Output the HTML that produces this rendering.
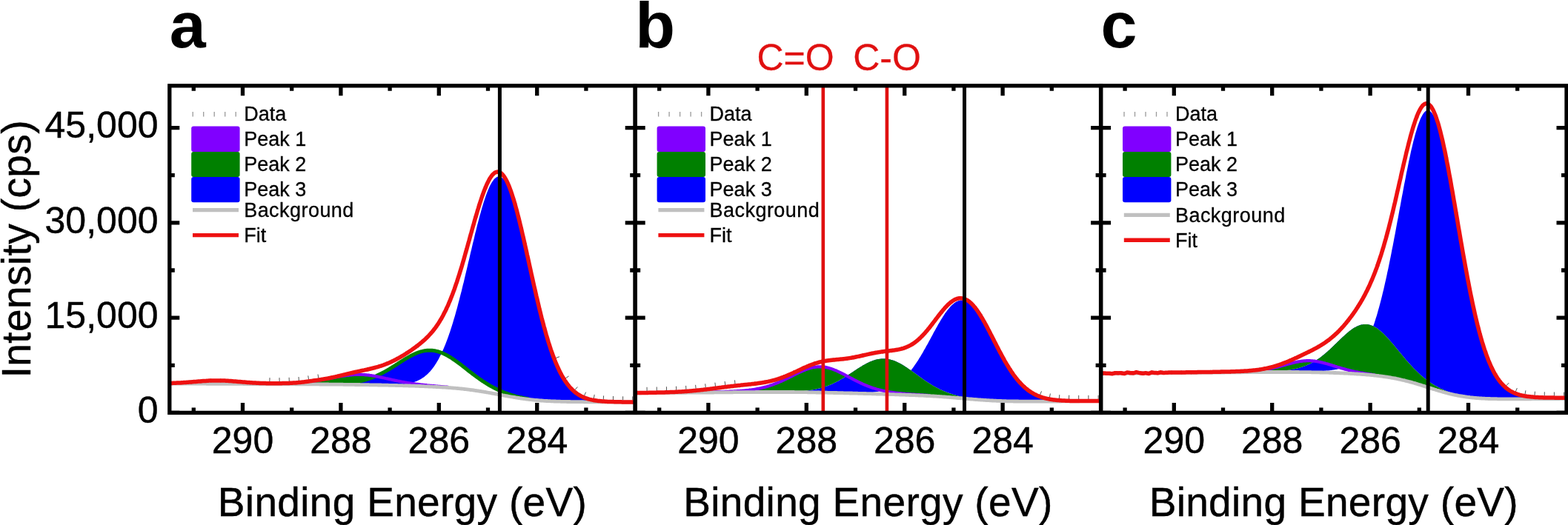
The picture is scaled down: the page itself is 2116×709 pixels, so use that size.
<!DOCTYPE html>
<html><head><meta charset="utf-8"><title>XPS C1s</title>
<style>
html,body{margin:0;padding:0;background:#fff;}
svg{display:block;}
text{font-family:"Liberation Sans",Arial,sans-serif;fill:#000;}
.tk{font-size:50px;stroke:#000;stroke-width:0.45px;}
.ax{font-size:55px;stroke:#000;stroke-width:0.45px;}
.lg{font-size:27px;stroke:#000;stroke-width:0.3px;}
.pl{font-size:88px;font-weight:bold;}
.rl{font-size:50px;fill:#e01010;stroke:#e01010;stroke-width:0.3px;}
</style></head>
<body>
<svg width="2116" height="709" viewBox="0 0 2116 709">
<rect width="2116" height="709" fill="#fff"/>
<clipPath id="clip0"><rect x="228.8" y="115.8" width="628.4" height="441.6"/></clipPath>
<g clip-path="url(#clip0)">
<path d="M181.9,517.9 L182.9,517.9 L183.9,517.9 L185.0,517.9 L186.0,517.9 L187.0,517.9 L188.1,517.9 L189.1,517.9 L190.1,517.9 L191.2,517.9 L192.2,517.9 L193.2,517.9 L194.2,517.9 L195.3,517.9 L196.3,517.9 L197.3,517.9 L198.4,517.9 L199.4,517.9 L200.4,517.9 L201.5,517.9 L202.5,517.9 L203.5,517.9 L204.6,518.0 L205.6,518.0 L206.6,518.0 L207.7,518.0 L208.7,518.0 L209.7,518.0 L210.8,518.0 L211.8,518.0 L212.8,518.0 L213.9,518.0 L214.9,518.0 L215.9,518.0 L217.0,518.0 L218.0,518.0 L219.0,518.0 L220.1,518.0 L221.1,518.0 L222.1,518.0 L223.2,518.0 L224.2,518.0 L225.2,518.0 L226.2,518.0 L227.3,518.0 L228.3,518.0 L229.3,518.1 L230.4,518.1 L231.4,518.1 L232.4,518.1 L233.5,518.1 L234.5,518.1 L235.5,518.1 L236.6,518.1 L237.6,518.1 L238.6,518.1 L239.7,518.1 L240.7,518.1 L241.7,518.1 L242.8,518.1 L243.8,518.1 L244.8,518.1 L245.9,518.1 L246.9,518.1 L247.9,518.1 L249.0,518.1 L250.0,518.1 L251.0,518.1 L252.1,518.1 L253.1,518.1 L254.1,518.1 L255.2,518.2 L256.2,518.2 L257.2,518.2 L258.3,518.2 L259.3,518.2 L260.3,518.2 L261.3,518.2 L262.4,518.2 L263.4,518.2 L264.4,518.2 L265.5,518.2 L266.5,518.2 L267.5,518.2 L268.6,518.2 L269.6,518.2 L270.6,518.2 L271.7,518.2 L272.7,518.2 L273.7,518.2 L274.8,518.2 L275.8,518.2 L276.8,518.2 L277.9,518.2 L278.9,518.2 L279.9,518.3 L281.0,518.3 L282.0,518.3 L283.0,518.3 L284.1,518.3 L285.1,518.3 L286.1,518.3 L287.2,518.3 L288.2,518.3 L289.2,518.3 L290.3,518.3 L291.3,518.3 L292.3,518.3 L293.3,518.3 L294.4,518.3 L295.4,518.3 L296.4,518.3 L297.5,518.3 L298.5,518.3 L299.5,518.3 L300.6,518.3 L301.6,518.3 L302.6,518.3 L303.7,518.3 L304.7,518.3 L305.7,518.4 L306.8,518.4 L307.8,518.4 L308.8,518.4 L309.9,518.4 L310.9,518.4 L311.9,518.4 L313.0,518.4 L314.0,518.4 L315.0,518.4 L316.1,518.4 L317.1,518.4 L318.1,518.4 L319.2,518.4 L320.2,518.4 L321.2,518.4 L322.3,518.4 L323.3,518.4 L324.3,518.4 L325.4,518.4 L326.4,518.4 L327.4,518.4 L328.4,518.4 L329.5,518.4 L330.5,518.5 L331.5,518.5 L332.6,518.5 L333.6,518.5 L334.6,518.5 L335.7,518.5 L336.7,518.5 L337.7,518.5 L338.8,518.5 L339.8,518.5 L340.8,518.5 L341.9,518.5 L342.9,518.5 L343.9,518.5 L345.0,518.5 L346.0,518.5 L347.0,518.5 L348.1,518.5 L349.1,518.5 L350.1,518.5 L351.2,518.5 L352.2,518.5 L353.2,518.5 L354.3,518.5 L355.3,518.6 L356.3,518.6 L357.4,518.6 L358.4,518.6 L359.4,518.6 L360.4,518.6 L361.5,518.6 L362.5,518.6 L363.5,518.6 L364.6,518.6 L365.6,518.6 L366.6,518.6 L367.7,518.6 L368.7,518.6 L369.7,518.6 L370.8,518.6 L371.8,518.6 L372.8,518.6 L373.9,518.6 L374.9,518.6 L375.9,518.6 L377.0,518.6 L378.0,518.6 L379.0,518.6 L380.1,518.7 L381.1,518.7 L382.1,518.7 L383.2,518.7 L384.2,518.7 L385.2,518.7 L386.3,518.7 L387.3,518.7 L388.3,518.7 L389.4,518.7 L390.4,518.7 L391.4,518.7 L392.4,518.7 L393.5,518.7 L394.5,518.7 L395.5,518.7 L396.6,518.7 L397.6,518.7 L398.6,518.7 L399.7,518.7 L400.7,518.7 L401.7,518.7 L402.8,518.7 L403.8,518.7 L404.8,518.8 L405.9,518.8 L406.9,518.8 L407.9,518.8 L409.0,518.8 L410.0,518.8 L411.0,518.8 L412.1,518.8 L413.1,518.8 L414.1,518.8 L415.2,518.8 L416.2,518.8 L417.2,518.8 L418.3,518.8 L419.3,518.8 L420.3,518.8 L421.4,518.8 L422.4,518.8 L423.4,518.8 L424.5,518.8 L425.5,518.8 L426.5,518.8 L427.5,518.8 L428.6,518.8 L429.6,518.8 L430.6,518.8 L431.7,518.8 L432.7,518.8 L433.7,518.8 L434.8,518.7 L435.8,518.7 L436.8,518.7 L437.9,518.7 L438.9,518.7 L439.9,518.7 L441.0,518.7 L442.0,518.7 L443.0,518.6 L444.1,518.6 L445.1,518.6 L446.1,518.6 L447.2,518.6 L448.2,518.5 L449.2,518.5 L450.3,518.5 L451.3,518.4 L452.3,518.4 L453.4,518.4 L454.4,518.3 L455.4,518.3 L456.5,518.2 L457.5,518.2 L458.5,518.1 L459.5,518.1 L460.6,518.0 L461.6,517.9 L462.6,517.9 L463.7,517.8 L464.7,517.7 L465.7,517.6 L466.8,517.6 L467.8,517.5 L468.8,517.4 L469.9,517.3 L470.9,517.2 L471.9,517.0 L473.0,516.9 L474.0,516.8 L475.0,516.7 L476.1,516.5 L477.1,516.4 L478.1,516.2 L479.2,516.0 L480.2,515.9 L481.2,515.7 L482.3,515.5 L483.3,515.3 L484.3,515.1 L485.4,514.9 L486.4,514.7 L487.4,514.4 L488.5,514.2 L489.5,513.9 L490.5,513.7 L491.6,513.4 L492.6,513.1 L493.6,512.8 L494.6,512.5 L495.7,512.2 L496.7,511.9 L497.7,511.6 L498.8,511.2 L499.8,510.8 L500.8,510.5 L501.9,510.1 L502.9,509.7 L503.9,509.3 L505.0,508.9 L506.0,508.5 L507.0,508.0 L508.1,507.6 L509.1,507.1 L510.1,506.6 L511.2,506.1 L512.2,505.6 L513.2,505.1 L514.3,504.6 L515.3,504.1 L516.3,503.5 L517.4,503.0 L518.4,502.4 L519.4,501.9 L520.5,501.3 L521.5,500.7 L522.5,500.1 L523.6,499.5 L524.6,498.9 L525.6,498.3 L526.6,497.6 L527.7,497.0 L528.7,496.4 L529.7,495.7 L530.8,495.1 L531.8,494.4 L532.8,493.8 L533.9,493.1 L534.9,492.4 L535.9,491.8 L537.0,491.1 L538.0,490.5 L539.0,489.8 L540.1,489.1 L541.1,488.5 L542.1,487.8 L543.2,487.2 L544.2,486.5 L545.2,485.9 L546.3,485.2 L547.3,484.6 L548.3,484.0 L549.4,483.4 L550.4,482.8 L551.4,482.2 L552.5,481.6 L553.5,481.1 L554.5,480.5 L555.6,480.0 L556.6,479.4 L557.6,478.9 L558.7,478.4 L559.7,478.0 L560.7,477.5 L561.7,477.1 L562.8,476.7 L563.8,476.3 L564.8,475.9 L565.9,475.5 L566.9,475.2 L567.9,474.9 L569.0,474.6 L570.0,474.4 L571.0,474.1 L572.1,473.9 L573.1,473.7 L574.1,473.6 L575.2,473.4 L576.2,473.3 L577.2,473.3 L578.3,473.2 L579.3,473.2 L580.3,473.2 L581.4,473.2 L582.4,473.3 L583.4,473.3 L584.5,473.4 L585.5,473.6 L586.5,473.7 L587.6,473.9 L588.6,474.2 L589.6,474.4 L590.7,474.7 L591.7,475.0 L592.7,475.3 L593.7,475.6 L594.8,476.0 L595.8,476.4 L596.8,476.8 L597.9,477.3 L598.9,477.7 L599.9,478.2 L601.0,478.7 L602.0,479.3 L603.0,479.8 L604.1,480.4 L605.1,481.0 L606.1,481.6 L607.2,482.2 L608.2,482.8 L609.2,483.5 L610.3,484.2 L611.3,484.9 L612.3,485.6 L613.4,486.3 L614.4,487.0 L615.4,487.7 L616.5,488.5 L617.5,489.2 L618.5,490.0 L619.6,490.8 L620.6,491.5 L621.6,492.3 L622.7,493.1 L623.7,493.9 L624.7,494.7 L625.8,495.5 L626.8,496.3 L627.8,497.1 L628.8,497.9 L629.9,498.7 L630.9,499.6 L631.9,500.4 L633.0,501.2 L634.0,502.0 L635.0,502.8 L636.1,503.6 L637.1,504.4 L638.1,505.1 L639.2,505.9 L640.2,506.7 L641.2,507.5 L642.3,508.2 L643.3,509.0 L644.3,509.8 L645.4,510.5 L646.4,511.2 L647.4,512.0 L648.5,512.7 L649.5,513.4 L650.5,514.1 L651.6,514.8 L652.6,515.5 L653.6,516.1 L654.7,516.8 L655.7,517.5 L656.7,518.1 L657.8,518.7 L658.8,519.4 L659.8,520.0 L660.8,520.6 L661.9,521.2 L662.9,521.8 L663.9,522.3 L665.0,522.9 L666.0,523.4 L667.0,524.0 L668.1,524.5 L669.1,525.0 L670.1,525.5 L671.2,526.0 L672.2,526.5 L673.2,527.0 L674.3,527.5 L675.3,527.9 L676.3,528.4 L677.4,528.8 L678.4,529.2 L679.4,529.6 L680.5,530.1 L681.5,530.5 L682.5,530.8 L683.6,531.2 L684.6,531.6 L685.6,532.0 L686.7,532.3 L687.7,532.6 L688.7,533.0 L689.8,533.3 L690.8,533.6 L691.8,533.9 L692.9,534.2 L693.9,534.5 L694.9,534.8 L695.9,535.1 L697.0,535.4 L698.0,535.6 L699.0,535.9 L700.1,536.1 L701.1,536.4 L702.1,536.6 L703.2,536.8 L704.2,537.0 L705.2,537.3 L706.3,537.5 L707.3,537.7 L708.3,537.9 L709.4,538.1 L710.4,538.2 L711.4,538.4 L712.5,538.6 L713.5,538.8 L714.5,538.9 L715.6,539.1 L716.6,539.2 L717.6,539.4 L718.7,539.5 L719.7,539.6 L720.7,539.8 L721.8,539.9 L722.8,540.0 L723.8,540.1 L724.9,540.3 L725.9,540.4 L726.9,540.5 L727.9,540.6 L729.0,540.7 L730.0,540.8 L731.0,540.9 L732.1,540.9 L733.1,541.0 L734.1,541.1 L735.2,541.2 L736.2,541.3 L737.2,541.3 L738.3,541.4 L739.3,541.5 L740.3,541.5 L741.4,541.6 L742.4,541.6 L743.4,541.7 L744.5,541.8 L745.5,541.8 L746.5,541.9 L747.6,541.9 L748.6,541.9 L749.6,542.0 L750.7,542.0 L751.7,542.1 L752.7,542.1 L753.8,542.1 L754.8,542.2 L755.8,542.2 L756.9,542.2 L757.9,542.3 L758.9,542.3 L759.9,542.3 L761.0,542.4 L762.0,542.4 L763.0,542.4 L764.1,542.4 L765.1,542.4 L766.1,542.5 L767.2,542.5 L768.2,542.5 L769.2,542.5 L770.3,542.5 L771.3,542.6 L772.3,542.6 L773.4,542.6 L774.4,542.6 L775.4,542.6 L776.5,542.6 L777.5,542.6 L778.5,542.6 L779.6,542.7 L780.6,542.7 L781.6,542.7 L782.7,542.7 L783.7,542.7 L784.7,542.7 L785.8,542.7 L786.8,542.7 L787.8,542.7 L788.9,542.7 L789.9,542.8 L790.9,542.8 L792.0,542.8 L793.0,542.8 L794.0,542.8 L795.0,542.8 L796.1,542.8 L797.1,542.8 L798.1,542.8 L799.2,542.8 L800.2,542.8 L801.2,542.8 L802.3,542.8 L803.3,542.8 L804.3,542.8 L805.4,542.8 L806.4,542.9 L807.4,542.9 L808.5,542.9 L809.5,542.9 L810.5,542.9 L811.6,542.9 L812.6,542.9 L813.6,542.9 L814.7,542.9 L815.7,542.9 L816.7,542.9 L817.8,542.9 L818.8,542.9 L819.8,542.9 L820.9,542.9 L821.9,542.9 L822.9,542.9 L824.0,542.9 L825.0,542.9 L826.0,542.9 L827.0,542.9 L828.1,542.9 L829.1,543.0 L830.1,543.0 L831.2,543.0 L832.2,543.0 L833.2,543.0 L834.3,543.0 L835.3,543.0 L836.3,543.0 L837.4,543.0 L838.4,543.0 L839.4,543.0 L840.5,543.0 L841.5,543.0 L842.5,543.0 L843.6,543.0 L844.6,543.0 L845.6,543.0 L846.7,543.0 L847.7,543.0 L848.7,543.0 L849.8,543.0 L850.8,543.0 L851.8,543.0 L852.9,543.0 L853.9,543.1 L854.9,543.1 L856.0,543.1 L857.0,543.1 L858.0,543.1 L859.1,543.1 L860.1,543.1 L861.1,543.1 L862.1,543.1 L863.2,543.1 L864.2,543.1 L865.2,543.1 L866.3,543.1 L867.3,543.1 L868.3,543.1 L869.4,543.1 L870.4,543.1 L871.4,543.1 L872.5,543.1 L873.5,543.1 L874.5,543.1 L875.6,543.1 L876.6,543.1 L877.6,543.1 L878.7,543.2 L879.7,543.2 L880.7,543.2 L881.8,543.2 L882.8,543.2 L883.8,543.2 L884.9,543.2 L885.9,543.2 L886.9,543.2 L888.0,543.2 L889.0,543.2 L890.0,543.2 L891.1,543.2 L892.1,543.2 L893.1,543.2 L894.1,543.2 L895.2,543.2 L896.2,543.2 L897.2,543.2 L898.3,543.2 L899.3,543.2 L900.3,543.2 L901.4,543.2 L902.4,543.2 L903.4,543.2 L903.4,543.3 L902.4,543.3 L901.4,543.2 L900.3,543.2 L899.3,543.2 L898.3,543.2 L897.2,543.2 L896.2,543.2 L895.2,543.2 L894.1,543.2 L893.1,543.2 L892.1,543.2 L891.1,543.2 L890.0,543.2 L889.0,543.2 L888.0,543.2 L886.9,543.2 L885.9,543.2 L884.9,543.2 L883.8,543.2 L882.8,543.2 L881.8,543.2 L880.7,543.2 L879.7,543.2 L878.7,543.2 L877.6,543.2 L876.6,543.1 L875.6,543.1 L874.5,543.1 L873.5,543.1 L872.5,543.1 L871.4,543.1 L870.4,543.1 L869.4,543.1 L868.3,543.1 L867.3,543.1 L866.3,543.1 L865.2,543.1 L864.2,543.1 L863.2,543.1 L862.1,543.1 L861.1,543.1 L860.1,543.1 L859.1,543.1 L858.0,543.1 L857.0,543.1 L856.0,543.1 L854.9,543.0 L853.9,543.0 L852.9,543.0 L851.8,543.0 L850.8,543.0 L849.8,543.0 L848.7,543.0 L847.7,543.0 L846.7,543.0 L845.6,543.0 L844.6,543.0 L843.6,543.0 L842.5,543.0 L841.5,542.9 L840.5,542.9 L839.4,542.9 L838.4,542.9 L837.4,542.9 L836.3,542.9 L835.3,542.9 L834.3,542.9 L833.2,542.8 L832.2,542.8 L831.2,542.8 L830.1,542.8 L829.1,542.7 L828.1,542.7 L827.0,542.7 L826.0,542.7 L825.0,542.6 L824.0,542.6 L822.9,542.6 L821.9,542.5 L820.9,542.5 L819.8,542.4 L818.8,542.4 L817.8,542.3 L816.7,542.3 L815.7,542.2 L814.7,542.1 L813.6,542.1 L812.6,542.0 L811.6,541.9 L810.5,541.8 L809.5,541.7 L808.5,541.6 L807.4,541.5 L806.4,541.4 L805.4,541.2 L804.3,541.1 L803.3,540.9 L802.3,540.8 L801.2,540.6 L800.2,540.4 L799.2,540.2 L798.1,540.0 L797.1,539.7 L796.1,539.5 L795.0,539.2 L794.0,538.9 L793.0,538.6 L792.0,538.3 L790.9,537.9 L789.9,537.6 L788.9,537.2 L787.8,536.8 L786.8,536.3 L785.8,535.8 L784.7,535.3 L783.7,534.8 L782.7,534.2 L781.6,533.6 L780.6,533.0 L779.6,532.3 L778.5,531.6 L777.5,530.9 L776.5,530.1 L775.4,529.2 L774.4,528.4 L773.4,527.4 L772.3,526.5 L771.3,525.4 L770.3,524.3 L769.2,523.2 L768.2,522.0 L767.2,520.8 L766.1,519.5 L765.1,518.1 L764.1,516.7 L763.0,515.2 L762.0,513.6 L761.0,512.0 L759.9,510.3 L758.9,508.5 L757.9,506.6 L756.9,504.7 L755.8,502.7 L754.8,500.6 L753.8,498.5 L752.7,496.2 L751.7,493.9 L750.7,491.5 L749.6,489.0 L748.6,486.4 L747.6,483.8 L746.5,481.0 L745.5,478.2 L744.5,475.3 L743.4,472.3 L742.4,469.2 L741.4,466.0 L740.3,462.8 L739.3,459.4 L738.3,456.0 L737.2,452.5 L736.2,448.9 L735.2,445.2 L734.1,441.4 L733.1,437.6 L732.1,433.7 L731.0,429.7 L730.0,425.7 L729.0,421.6 L727.9,417.4 L726.9,413.1 L725.9,408.8 L724.9,404.5 L723.8,400.1 L722.8,395.6 L721.8,391.1 L720.7,386.6 L719.7,382.0 L718.7,377.4 L717.6,372.8 L716.6,368.2 L715.6,363.5 L714.5,358.9 L713.5,354.2 L712.5,349.6 L711.4,344.9 L710.4,340.3 L709.4,335.7 L708.3,331.2 L707.3,326.6 L706.3,322.1 L705.2,317.7 L704.2,313.3 L703.2,309.0 L702.1,304.8 L701.1,300.6 L700.1,296.6 L699.0,292.6 L698.0,288.7 L697.0,284.9 L695.9,281.2 L694.9,277.6 L693.9,274.2 L692.9,270.9 L691.8,267.7 L690.8,264.7 L689.8,261.8 L688.7,259.0 L687.7,256.4 L686.7,254.0 L685.6,251.7 L684.6,249.6 L683.6,247.7 L682.5,245.9 L681.5,244.4 L680.5,243.0 L679.4,241.7 L678.4,240.7 L677.4,239.9 L676.3,239.2 L675.3,238.7 L674.3,238.4 L673.2,238.4 L672.2,238.5 L671.2,238.7 L670.1,239.2 L669.1,239.9 L668.1,240.7 L667.0,241.7 L666.0,243.0 L665.0,244.4 L663.9,245.9 L662.9,247.7 L661.9,249.6 L660.8,251.6 L659.8,253.9 L658.8,256.3 L657.8,258.8 L656.7,261.5 L655.7,264.3 L654.7,267.3 L653.6,270.4 L652.6,273.6 L651.6,277.0 L650.5,280.4 L649.5,284.0 L648.5,287.7 L647.4,291.4 L646.4,295.3 L645.4,299.2 L644.3,303.2 L643.3,307.3 L642.3,311.4 L641.2,315.6 L640.2,319.9 L639.2,324.2 L638.1,328.5 L637.1,332.8 L636.1,337.2 L635.0,341.6 L634.0,346.0 L633.0,350.4 L631.9,354.8 L630.9,359.2 L629.9,363.6 L628.8,367.9 L627.8,372.3 L626.8,376.6 L625.8,380.9 L624.7,385.1 L623.7,389.3 L622.7,393.5 L621.6,397.6 L620.6,401.6 L619.6,405.6 L618.5,409.6 L617.5,413.4 L616.5,417.3 L615.4,421.0 L614.4,424.7 L613.4,428.3 L612.3,431.8 L611.3,435.2 L610.3,438.6 L609.2,441.9 L608.2,445.1 L607.2,448.2 L606.1,451.2 L605.1,454.2 L604.1,457.1 L603.0,459.9 L602.0,462.6 L601.0,465.2 L599.9,467.8 L598.9,470.2 L597.9,472.6 L596.8,474.9 L595.8,477.1 L594.8,479.3 L593.7,481.3 L592.7,483.3 L591.7,485.2 L590.7,487.1 L589.6,488.8 L588.6,490.5 L587.6,492.1 L586.5,493.7 L585.5,495.2 L584.5,496.6 L583.4,497.9 L582.4,499.2 L581.4,500.5 L580.3,501.7 L579.3,502.8 L578.3,503.8 L577.2,504.9 L576.2,505.8 L575.2,506.7 L574.1,507.6 L573.1,508.4 L572.1,509.2 L571.0,509.9 L570.0,510.6 L569.0,511.3 L567.9,511.9 L566.9,512.5 L565.9,513.0 L564.8,513.5 L563.8,514.0 L562.8,514.5 L561.7,514.9 L560.7,515.3 L559.7,515.7 L558.7,516.0 L557.6,516.4 L556.6,516.7 L555.6,516.9 L554.5,517.2 L553.5,517.5 L552.5,517.7 L551.4,517.9 L550.4,518.1 L549.4,518.3 L548.3,518.4 L547.3,518.6 L546.3,518.7 L545.2,518.9 L544.2,519.0 L543.2,519.1 L542.1,519.2 L541.1,519.3 L540.1,519.4 L539.0,519.4 L538.0,519.5 L537.0,519.6 L535.9,519.6 L534.9,519.7 L533.9,519.7 L532.8,519.7 L531.8,519.8 L530.8,519.8 L529.7,519.8 L528.7,519.9 L527.7,519.9 L526.6,519.9 L525.6,519.9 L524.6,519.9 L523.6,519.9 L522.5,519.9 L521.5,519.9 L520.5,519.9 L519.4,519.9 L518.4,519.9 L517.4,519.9 L516.3,519.9 L515.3,519.9 L514.3,519.9 L513.2,519.9 L512.2,519.9 L511.2,519.9 L510.1,519.9 L509.1,519.9 L508.1,519.9 L507.0,519.8 L506.0,519.8 L505.0,519.8 L503.9,519.8 L502.9,519.8 L501.9,519.8 L500.8,519.8 L499.8,519.7 L498.8,519.7 L497.7,519.7 L496.7,519.7 L495.7,519.7 L494.6,519.7 L493.6,519.7 L492.6,519.6 L491.6,519.6 L490.5,519.6 L489.5,519.6 L488.5,519.6 L487.4,519.6 L486.4,519.6 L485.4,519.5 L484.3,519.5 L483.3,519.5 L482.3,519.5 L481.2,519.5 L480.2,519.5 L479.2,519.5 L478.1,519.4 L477.1,519.4 L476.1,519.4 L475.0,519.4 L474.0,519.4 L473.0,519.4 L471.9,519.4 L470.9,519.3 L469.9,519.3 L468.8,519.3 L467.8,519.3 L466.8,519.3 L465.7,519.3 L464.7,519.3 L463.7,519.3 L462.6,519.2 L461.6,519.2 L460.6,519.2 L459.5,519.2 L458.5,519.2 L457.5,519.2 L456.5,519.2 L455.4,519.2 L454.4,519.1 L453.4,519.1 L452.3,519.1 L451.3,519.1 L450.3,519.1 L449.2,519.1 L448.2,519.1 L447.2,519.1 L446.1,519.1 L445.1,519.1 L444.1,519.1 L443.0,519.0 L442.0,519.0 L441.0,519.0 L439.9,519.0 L438.9,519.0 L437.9,519.0 L436.8,519.0 L435.8,519.0 L434.8,519.0 L433.7,519.0 L432.7,519.0 L431.7,519.0 L430.6,518.9 L429.6,518.9 L428.6,518.9 L427.5,518.9 L426.5,518.9 L425.5,518.9 L424.5,518.9 L423.4,518.9 L422.4,518.9 L421.4,518.9 L420.3,518.9 L419.3,518.9 L418.3,518.9 L417.2,518.9 L416.2,518.8 L415.2,518.8 L414.1,518.8 L413.1,518.8 L412.1,518.8 L411.0,518.8 L410.0,518.8 L409.0,518.8 L407.9,518.8 L406.9,518.8 L405.9,518.8 L404.8,518.8 L403.8,518.8 L402.8,518.8 L401.7,518.8 L400.7,518.8 L399.7,518.8 L398.6,518.8 L397.6,518.7 L396.6,518.7 L395.5,518.7 L394.5,518.7 L393.5,518.7 L392.4,518.7 L391.4,518.7 L390.4,518.7 L389.4,518.7 L388.3,518.7 L387.3,518.7 L386.3,518.7 L385.2,518.7 L384.2,518.7 L383.2,518.7 L382.1,518.7 L381.1,518.7 L380.1,518.7 L379.0,518.7 L378.0,518.7 L377.0,518.7 L375.9,518.6 L374.9,518.6 L373.9,518.6 L372.8,518.6 L371.8,518.6 L370.8,518.6 L369.7,518.6 L368.7,518.6 L367.7,518.6 L366.6,518.6 L365.6,518.6 L364.6,518.6 L363.5,518.6 L362.5,518.6 L361.5,518.6 L360.4,518.6 L359.4,518.6 L358.4,518.6 L357.4,518.6 L356.3,518.6 L355.3,518.6 L354.3,518.6 L353.2,518.6 L352.2,518.5 L351.2,518.5 L350.1,518.5 L349.1,518.5 L348.1,518.5 L347.0,518.5 L346.0,518.5 L345.0,518.5 L343.9,518.5 L342.9,518.5 L341.9,518.5 L340.8,518.5 L339.8,518.5 L338.8,518.5 L337.7,518.5 L336.7,518.5 L335.7,518.5 L334.6,518.5 L333.6,518.5 L332.6,518.5 L331.5,518.5 L330.5,518.5 L329.5,518.5 L328.4,518.5 L327.4,518.4 L326.4,518.4 L325.4,518.4 L324.3,518.4 L323.3,518.4 L322.3,518.4 L321.2,518.4 L320.2,518.4 L319.2,518.4 L318.1,518.4 L317.1,518.4 L316.1,518.4 L315.0,518.4 L314.0,518.4 L313.0,518.4 L311.9,518.4 L310.9,518.4 L309.9,518.4 L308.8,518.4 L307.8,518.4 L306.8,518.4 L305.7,518.4 L304.7,518.4 L303.7,518.4 L302.6,518.3 L301.6,518.3 L300.6,518.3 L299.5,518.3 L298.5,518.3 L297.5,518.3 L296.4,518.3 L295.4,518.3 L294.4,518.3 L293.3,518.3 L292.3,518.3 L291.3,518.3 L290.3,518.3 L289.2,518.3 L288.2,518.3 L287.2,518.3 L286.1,518.3 L285.1,518.3 L284.1,518.3 L283.0,518.3 L282.0,518.3 L281.0,518.3 L279.9,518.3 L278.9,518.3 L277.9,518.2 L276.8,518.2 L275.8,518.2 L274.8,518.2 L273.7,518.2 L272.7,518.2 L271.7,518.2 L270.6,518.2 L269.6,518.2 L268.6,518.2 L267.5,518.2 L266.5,518.2 L265.5,518.2 L264.4,518.2 L263.4,518.2 L262.4,518.2 L261.3,518.2 L260.3,518.2 L259.3,518.2 L258.3,518.2 L257.2,518.2 L256.2,518.2 L255.2,518.2 L254.1,518.2 L253.1,518.1 L252.1,518.1 L251.0,518.1 L250.0,518.1 L249.0,518.1 L247.9,518.1 L246.9,518.1 L245.9,518.1 L244.8,518.1 L243.8,518.1 L242.8,518.1 L241.7,518.1 L240.7,518.1 L239.7,518.1 L238.6,518.1 L237.6,518.1 L236.6,518.1 L235.5,518.1 L234.5,518.1 L233.5,518.1 L232.4,518.1 L231.4,518.1 L230.4,518.1 L229.3,518.1 L228.3,518.1 L227.3,518.0 L226.2,518.0 L225.2,518.0 L224.2,518.0 L223.2,518.0 L222.1,518.0 L221.1,518.0 L220.1,518.0 L219.0,518.0 L218.0,518.0 L217.0,518.0 L215.9,518.0 L214.9,518.0 L213.9,518.0 L212.8,518.0 L211.8,518.0 L210.8,518.0 L209.7,518.0 L208.7,518.0 L207.7,518.0 L206.6,518.0 L205.6,518.0 L204.6,518.0 L203.5,518.0 L202.5,517.9 L201.5,517.9 L200.4,517.9 L199.4,517.9 L198.4,517.9 L197.3,517.9 L196.3,517.9 L195.3,517.9 L194.2,517.9 L193.2,517.9 L192.2,517.9 L191.2,517.9 L190.1,517.9 L189.1,517.9 L188.1,517.9 L187.0,517.9 L186.0,517.9 L185.0,517.9 L183.9,517.9 L182.9,517.9 L181.9,517.9Z" fill="#0000ff"/>
<path d="M181.9,517.8 L182.9,517.8 L183.9,517.8 L185.0,517.8 L186.0,517.8 L187.0,517.8 L188.1,517.8 L189.1,517.8 L190.1,517.8 L191.2,517.8 L192.2,517.8 L193.2,517.8 L194.2,517.8 L195.3,517.8 L196.3,517.8 L197.3,517.8 L198.4,517.8 L199.4,517.8 L200.4,517.8 L201.5,517.8 L202.5,517.9 L203.5,517.9 L204.6,517.9 L205.6,517.9 L206.6,517.9 L207.7,517.9 L208.7,517.9 L209.7,517.9 L210.8,517.9 L211.8,517.9 L212.8,517.9 L213.9,517.9 L214.9,517.9 L215.9,517.9 L217.0,517.9 L218.0,517.9 L219.0,517.9 L220.1,517.9 L221.1,517.9 L222.1,517.9 L223.2,517.9 L224.2,517.9 L225.2,517.9 L226.2,517.9 L227.3,517.9 L228.3,517.9 L229.3,517.9 L230.4,517.9 L231.4,517.9 L232.4,517.9 L233.5,517.9 L234.5,518.0 L235.5,518.0 L236.6,518.0 L237.6,518.0 L238.6,518.0 L239.7,518.0 L240.7,518.0 L241.7,518.0 L242.8,518.0 L243.8,518.0 L244.8,518.0 L245.9,518.0 L246.9,518.0 L247.9,518.0 L249.0,518.0 L250.0,518.0 L251.0,518.0 L252.1,518.0 L253.1,518.0 L254.1,518.0 L255.2,518.0 L256.2,518.0 L257.2,518.0 L258.3,518.0 L259.3,518.0 L260.3,518.0 L261.3,518.0 L262.4,518.0 L263.4,518.0 L264.4,518.0 L265.5,518.0 L266.5,518.0 L267.5,518.0 L268.6,518.0 L269.6,518.0 L270.6,518.1 L271.7,518.1 L272.7,518.1 L273.7,518.1 L274.8,518.1 L275.8,518.1 L276.8,518.1 L277.9,518.1 L278.9,518.1 L279.9,518.1 L281.0,518.1 L282.0,518.1 L283.0,518.1 L284.1,518.1 L285.1,518.1 L286.1,518.1 L287.2,518.1 L288.2,518.1 L289.2,518.1 L290.3,518.1 L291.3,518.1 L292.3,518.1 L293.3,518.1 L294.4,518.1 L295.4,518.1 L296.4,518.1 L297.5,518.1 L298.5,518.1 L299.5,518.1 L300.6,518.1 L301.6,518.1 L302.6,518.1 L303.7,518.1 L304.7,518.1 L305.7,518.1 L306.8,518.1 L307.8,518.1 L308.8,518.1 L309.9,518.1 L310.9,518.1 L311.9,518.1 L313.0,518.1 L314.0,518.1 L315.0,518.1 L316.1,518.1 L317.1,518.1 L318.1,518.1 L319.2,518.1 L320.2,518.1 L321.2,518.1 L322.3,518.1 L323.3,518.1 L324.3,518.1 L325.4,518.1 L326.4,518.1 L327.4,518.1 L328.4,518.1 L329.5,518.1 L330.5,518.1 L331.5,518.1 L332.6,518.1 L333.6,518.1 L334.6,518.1 L335.7,518.1 L336.7,518.1 L337.7,518.1 L338.8,518.1 L339.8,518.1 L340.8,518.1 L341.9,518.1 L342.9,518.1 L343.9,518.1 L345.0,518.1 L346.0,518.1 L347.0,518.1 L348.1,518.1 L349.1,518.1 L350.1,518.1 L351.2,518.1 L352.2,518.1 L353.2,518.1 L354.3,518.1 L355.3,518.1 L356.3,518.1 L357.4,518.1 L358.4,518.1 L359.4,518.1 L360.4,518.1 L361.5,518.0 L362.5,518.0 L363.5,518.0 L364.6,518.0 L365.6,518.0 L366.6,518.0 L367.7,518.0 L368.7,518.0 L369.7,518.0 L370.8,517.9 L371.8,517.9 L372.8,517.9 L373.9,517.9 L374.9,517.9 L375.9,517.8 L377.0,517.8 L378.0,517.8 L379.0,517.8 L380.1,517.8 L381.1,517.7 L382.1,517.7 L383.2,517.7 L384.2,517.6 L385.2,517.6 L386.3,517.6 L387.3,517.5 L388.3,517.5 L389.4,517.5 L390.4,517.4 L391.4,517.4 L392.4,517.3 L393.5,517.3 L394.5,517.2 L395.5,517.2 L396.6,517.1 L397.6,517.1 L398.6,517.0 L399.7,516.9 L400.7,516.9 L401.7,516.8 L402.8,516.7 L403.8,516.6 L404.8,516.6 L405.9,516.5 L406.9,516.4 L407.9,516.3 L409.0,516.2 L410.0,516.1 L411.0,516.0 L412.1,515.9 L413.1,515.8 L414.1,515.7 L415.2,515.6 L416.2,515.5 L417.2,515.4 L418.3,515.3 L419.3,515.1 L420.3,515.0 L421.4,514.9 L422.4,514.7 L423.4,514.6 L424.5,514.4 L425.5,514.3 L426.5,514.1 L427.5,514.0 L428.6,513.8 L429.6,513.7 L430.6,513.5 L431.7,513.4 L432.7,513.2 L433.7,513.0 L434.8,512.8 L435.8,512.7 L436.8,512.5 L437.9,512.3 L438.9,512.1 L439.9,511.9 L441.0,511.7 L442.0,511.5 L443.0,511.4 L444.1,511.2 L445.1,511.0 L446.1,510.8 L447.2,510.6 L448.2,510.4 L449.2,510.2 L450.3,510.0 L451.3,509.8 L452.3,509.6 L453.4,509.4 L454.4,509.2 L455.4,509.0 L456.5,508.8 L457.5,508.7 L458.5,508.5 L459.5,508.3 L460.6,508.1 L461.6,508.0 L462.6,507.8 L463.7,507.6 L464.7,507.5 L465.7,507.3 L466.8,507.2 L467.8,507.0 L468.8,506.9 L469.9,506.8 L470.9,506.6 L471.9,506.5 L473.0,506.4 L474.0,506.3 L475.0,506.2 L476.1,506.1 L477.1,506.1 L478.1,506.0 L479.2,505.9 L480.2,505.9 L481.2,505.9 L482.3,505.8 L483.3,505.8 L484.3,505.8 L485.4,505.8 L486.4,505.9 L487.4,505.9 L488.5,505.9 L489.5,506.0 L490.5,506.0 L491.6,506.1 L492.6,506.2 L493.6,506.3 L494.6,506.4 L495.7,506.5 L496.7,506.6 L497.7,506.7 L498.8,506.9 L499.8,507.0 L500.8,507.1 L501.9,507.3 L502.9,507.5 L503.9,507.6 L505.0,507.8 L506.0,508.0 L507.0,508.0 L508.1,507.6 L509.1,507.1 L510.1,506.6 L511.2,506.1 L512.2,505.6 L513.2,505.1 L514.3,504.6 L515.3,504.1 L516.3,503.5 L517.4,503.0 L518.4,502.4 L519.4,501.9 L520.5,501.3 L521.5,500.7 L522.5,500.1 L523.6,499.5 L524.6,498.9 L525.6,498.3 L526.6,497.6 L527.7,497.0 L528.7,496.4 L529.7,495.7 L530.8,495.1 L531.8,494.4 L532.8,493.8 L533.9,493.1 L534.9,492.4 L535.9,491.8 L537.0,491.1 L538.0,490.5 L539.0,489.8 L540.1,489.1 L541.1,488.5 L542.1,487.8 L543.2,487.2 L544.2,486.5 L545.2,485.9 L546.3,485.2 L547.3,484.6 L548.3,484.0 L549.4,483.4 L550.4,482.8 L551.4,482.2 L552.5,481.6 L553.5,481.1 L554.5,480.5 L555.6,480.0 L556.6,479.4 L557.6,478.9 L558.7,478.4 L559.7,478.0 L560.7,477.5 L561.7,477.1 L562.8,476.7 L563.8,476.3 L564.8,475.9 L565.9,475.5 L566.9,475.2 L567.9,474.9 L569.0,474.6 L570.0,474.4 L571.0,474.1 L572.1,473.9 L573.1,473.7 L574.1,473.6 L575.2,473.4 L576.2,473.3 L577.2,473.3 L578.3,473.2 L579.3,473.2 L580.3,473.2 L581.4,473.2 L582.4,473.3 L583.4,473.3 L584.5,473.4 L585.5,473.6 L586.5,473.7 L587.6,473.9 L588.6,474.2 L589.6,474.4 L590.7,474.7 L591.7,475.0 L592.7,475.3 L593.7,475.6 L594.8,476.0 L595.8,476.4 L596.8,476.8 L597.9,477.3 L598.9,477.7 L599.9,478.2 L601.0,478.7 L602.0,479.3 L603.0,479.8 L604.1,480.4 L605.1,481.0 L606.1,481.6 L607.2,482.2 L608.2,482.8 L609.2,483.5 L610.3,484.2 L611.3,484.9 L612.3,485.6 L613.4,486.3 L614.4,487.0 L615.4,487.7 L616.5,488.5 L617.5,489.2 L618.5,490.0 L619.6,490.8 L620.6,491.5 L621.6,492.3 L622.7,493.1 L623.7,493.9 L624.7,494.7 L625.8,495.5 L626.8,496.3 L627.8,497.1 L628.8,497.9 L629.9,498.7 L630.9,499.6 L631.9,500.4 L633.0,501.2 L634.0,502.0 L635.0,502.8 L636.1,503.6 L637.1,504.4 L638.1,505.1 L639.2,505.9 L640.2,506.7 L641.2,507.5 L642.3,508.2 L643.3,509.0 L644.3,509.8 L645.4,510.5 L646.4,511.2 L647.4,512.0 L648.5,512.7 L649.5,513.4 L650.5,514.1 L651.6,514.8 L652.6,515.5 L653.6,516.1 L654.7,516.8 L655.7,517.5 L656.7,518.1 L657.8,518.7 L658.8,519.4 L659.8,520.0 L660.8,520.6 L661.9,521.2 L662.9,521.8 L663.9,522.3 L665.0,522.9 L666.0,523.4 L667.0,524.0 L668.1,524.5 L669.1,525.0 L670.1,525.5 L671.2,526.0 L672.2,526.5 L673.2,527.0 L674.3,527.5 L675.3,527.9 L676.3,528.4 L677.4,528.8 L678.4,529.2 L679.4,529.6 L680.5,530.1 L681.5,530.5 L682.5,530.8 L683.6,531.2 L684.6,531.6 L685.6,532.0 L686.7,532.3 L687.7,532.6 L688.7,533.0 L689.8,533.3 L690.8,533.6 L691.8,533.9 L692.9,534.2 L693.9,534.5 L694.9,534.8 L695.9,535.1 L697.0,535.4 L698.0,535.6 L699.0,535.9 L700.1,536.1 L701.1,536.4 L702.1,536.6 L703.2,536.8 L704.2,537.0 L705.2,537.3 L706.3,537.5 L707.3,537.7 L708.3,537.9 L709.4,538.1 L710.4,538.2 L711.4,538.4 L712.5,538.6 L713.5,538.8 L714.5,538.9 L715.6,539.1 L716.6,539.2 L717.6,539.4 L718.7,539.5 L719.7,539.6 L720.7,539.8 L721.8,539.9 L722.8,540.0 L723.8,540.1 L724.9,540.3 L725.9,540.4 L726.9,540.5 L727.9,540.6 L729.0,540.7 L730.0,540.8 L731.0,540.9 L732.1,540.9 L733.1,541.0 L734.1,541.1 L735.2,541.2 L736.2,541.3 L737.2,541.3 L738.3,541.4 L739.3,541.5 L740.3,541.5 L741.4,541.6 L742.4,541.6 L743.4,541.7 L744.5,541.7 L745.5,541.8 L746.5,541.8 L747.6,541.9 L748.6,541.9 L749.6,541.9 L750.7,542.0 L751.7,542.0 L752.7,542.0 L753.8,542.1 L754.8,542.1 L755.8,542.1 L756.9,542.2 L757.9,542.2 L758.9,542.2 L759.9,542.3 L761.0,542.3 L762.0,542.3 L763.0,542.3 L764.1,542.3 L765.1,542.4 L766.1,542.4 L767.2,542.4 L768.2,542.4 L769.2,542.4 L770.3,542.5 L771.3,542.5 L772.3,542.5 L773.4,542.5 L774.4,542.5 L775.4,542.5 L776.5,542.5 L777.5,542.6 L778.5,542.6 L779.6,542.6 L780.6,542.6 L781.6,542.6 L782.7,542.6 L783.7,542.6 L784.7,542.6 L785.8,542.6 L786.8,542.7 L787.8,542.7 L788.9,542.7 L789.9,542.7 L790.9,542.7 L792.0,542.7 L793.0,542.7 L794.0,542.7 L795.0,542.7 L796.1,542.7 L797.1,542.7 L798.1,542.7 L799.2,542.7 L800.2,542.8 L801.2,542.8 L802.3,542.8 L803.3,542.8 L804.3,542.8 L805.4,542.8 L806.4,542.8 L807.4,542.8 L808.5,542.8 L809.5,542.8 L810.5,542.8 L811.6,542.8 L812.6,542.8 L813.6,542.8 L814.7,542.8 L815.7,542.8 L816.7,542.8 L817.8,542.8 L818.8,542.8 L819.8,542.9 L820.9,542.9 L821.9,542.9 L822.9,542.9 L824.0,542.9 L825.0,542.9 L826.0,542.9 L827.0,542.9 L828.1,542.9 L829.1,542.9 L830.1,542.9 L831.2,542.9 L832.2,542.9 L833.2,542.9 L834.3,542.9 L835.3,542.9 L836.3,542.9 L837.4,542.9 L838.4,542.9 L839.4,542.9 L840.5,542.9 L841.5,542.9 L842.5,543.0 L843.6,543.0 L844.6,543.0 L845.6,543.0 L846.7,543.0 L847.7,543.0 L848.7,543.0 L849.8,543.0 L850.8,543.0 L851.8,543.0 L852.9,543.0 L853.9,543.0 L854.9,543.0 L856.0,543.0 L857.0,543.0 L858.0,543.0 L859.1,543.0 L860.1,543.0 L861.1,543.0 L862.1,543.0 L863.2,543.0 L864.2,543.0 L865.2,543.0 L866.3,543.1 L867.3,543.1 L868.3,543.1 L869.4,543.1 L870.4,543.1 L871.4,543.1 L872.5,543.1 L873.5,543.1 L874.5,543.1 L875.6,543.1 L876.6,543.1 L877.6,543.1 L878.7,543.1 L879.7,543.1 L880.7,543.1 L881.8,543.1 L882.8,543.1 L883.8,543.1 L884.9,543.1 L885.9,543.1 L886.9,543.1 L888.0,543.1 L889.0,543.1 L890.0,543.2 L891.1,543.2 L892.1,543.2 L893.1,543.2 L894.1,543.2 L895.2,543.2 L896.2,543.2 L897.2,543.2 L898.3,543.2 L899.3,543.2 L900.3,543.2 L901.4,543.2 L902.4,543.2 L903.4,543.2 L903.4,543.2 L902.4,543.2 L901.4,543.2 L900.3,543.2 L899.3,543.2 L898.3,543.2 L897.2,543.2 L896.2,543.2 L895.2,543.2 L894.1,543.2 L893.1,543.2 L892.1,543.2 L891.1,543.2 L890.0,543.2 L889.0,543.2 L888.0,543.2 L886.9,543.2 L885.9,543.2 L884.9,543.2 L883.8,543.2 L882.8,543.2 L881.8,543.2 L880.7,543.2 L879.7,543.2 L878.7,543.2 L877.6,543.1 L876.6,543.1 L875.6,543.1 L874.5,543.1 L873.5,543.1 L872.5,543.1 L871.4,543.1 L870.4,543.1 L869.4,543.1 L868.3,543.1 L867.3,543.1 L866.3,543.1 L865.2,543.1 L864.2,543.1 L863.2,543.1 L862.1,543.1 L861.1,543.1 L860.1,543.1 L859.1,543.1 L858.0,543.1 L857.0,543.1 L856.0,543.1 L854.9,543.1 L853.9,543.1 L852.9,543.0 L851.8,543.0 L850.8,543.0 L849.8,543.0 L848.7,543.0 L847.7,543.0 L846.7,543.0 L845.6,543.0 L844.6,543.0 L843.6,543.0 L842.5,543.0 L841.5,543.0 L840.5,543.0 L839.4,543.0 L838.4,543.0 L837.4,543.0 L836.3,543.0 L835.3,543.0 L834.3,543.0 L833.2,543.0 L832.2,543.0 L831.2,543.0 L830.1,543.0 L829.1,543.0 L828.1,542.9 L827.0,542.9 L826.0,542.9 L825.0,542.9 L824.0,542.9 L822.9,542.9 L821.9,542.9 L820.9,542.9 L819.8,542.9 L818.8,542.9 L817.8,542.9 L816.7,542.9 L815.7,542.9 L814.7,542.9 L813.6,542.9 L812.6,542.9 L811.6,542.9 L810.5,542.9 L809.5,542.9 L808.5,542.9 L807.4,542.9 L806.4,542.9 L805.4,542.8 L804.3,542.8 L803.3,542.8 L802.3,542.8 L801.2,542.8 L800.2,542.8 L799.2,542.8 L798.1,542.8 L797.1,542.8 L796.1,542.8 L795.0,542.8 L794.0,542.8 L793.0,542.8 L792.0,542.8 L790.9,542.8 L789.9,542.8 L788.9,542.7 L787.8,542.7 L786.8,542.7 L785.8,542.7 L784.7,542.7 L783.7,542.7 L782.7,542.7 L781.6,542.7 L780.6,542.7 L779.6,542.7 L778.5,542.6 L777.5,542.6 L776.5,542.6 L775.4,542.6 L774.4,542.6 L773.4,542.6 L772.3,542.6 L771.3,542.6 L770.3,542.5 L769.2,542.5 L768.2,542.5 L767.2,542.5 L766.1,542.5 L765.1,542.4 L764.1,542.4 L763.0,542.4 L762.0,542.4 L761.0,542.4 L759.9,542.3 L758.9,542.3 L757.9,542.3 L756.9,542.2 L755.8,542.2 L754.8,542.2 L753.8,542.1 L752.7,542.1 L751.7,542.1 L750.7,542.0 L749.6,542.0 L748.6,541.9 L747.6,541.9 L746.5,541.9 L745.5,541.8 L744.5,541.8 L743.4,541.7 L742.4,541.6 L741.4,541.6 L740.3,541.5 L739.3,541.5 L738.3,541.4 L737.2,541.3 L736.2,541.3 L735.2,541.2 L734.1,541.1 L733.1,541.0 L732.1,540.9 L731.0,540.9 L730.0,540.8 L729.0,540.7 L727.9,540.6 L726.9,540.5 L725.9,540.4 L724.9,540.3 L723.8,540.1 L722.8,540.0 L721.8,539.9 L720.7,539.8 L719.7,539.6 L718.7,539.5 L717.6,539.4 L716.6,539.2 L715.6,539.1 L714.5,538.9 L713.5,538.8 L712.5,538.6 L711.4,538.4 L710.4,538.2 L709.4,538.1 L708.3,537.9 L707.3,537.7 L706.3,537.5 L705.2,537.3 L704.2,537.0 L703.2,536.8 L702.1,536.6 L701.1,536.4 L700.1,536.1 L699.0,535.9 L698.0,535.6 L697.0,535.4 L695.9,535.1 L694.9,534.8 L693.9,534.5 L692.9,534.2 L691.8,533.9 L690.8,533.6 L689.8,533.3 L688.7,533.0 L687.7,532.6 L686.7,532.3 L685.6,532.0 L684.6,531.6 L683.6,531.2 L682.5,530.8 L681.5,530.5 L680.5,530.1 L679.4,529.6 L678.4,529.2 L677.4,528.8 L676.3,528.4 L675.3,527.9 L674.3,527.5 L673.2,527.0 L672.2,526.5 L671.2,526.0 L670.1,525.5 L669.1,525.0 L668.1,524.5 L667.0,524.0 L666.0,523.4 L665.0,522.9 L663.9,522.3 L662.9,521.8 L661.9,521.2 L660.8,520.6 L659.8,520.0 L658.8,519.4 L657.8,518.7 L656.7,518.1 L655.7,517.5 L654.7,516.8 L653.6,516.1 L652.6,515.5 L651.6,514.8 L650.5,514.1 L649.5,513.4 L648.5,512.7 L647.4,512.0 L646.4,511.2 L645.4,510.5 L644.3,509.8 L643.3,509.0 L642.3,508.2 L641.2,507.5 L640.2,506.7 L639.2,505.9 L638.1,505.1 L637.1,504.4 L636.1,503.6 L635.0,502.8 L634.0,502.0 L633.0,501.2 L631.9,500.4 L630.9,499.6 L629.9,498.7 L628.8,497.9 L627.8,497.1 L626.8,496.3 L625.8,495.5 L624.7,494.7 L623.7,493.9 L622.7,493.1 L621.6,492.3 L620.6,491.5 L619.6,490.8 L618.5,490.0 L617.5,489.2 L616.5,488.5 L615.4,487.7 L614.4,487.0 L613.4,486.3 L612.3,485.6 L611.3,484.9 L610.3,484.2 L609.2,483.5 L608.2,482.8 L607.2,482.2 L606.1,481.6 L605.1,481.0 L604.1,480.4 L603.0,479.8 L602.0,479.3 L601.0,478.7 L599.9,478.2 L598.9,477.7 L597.9,477.3 L596.8,476.8 L595.8,476.4 L594.8,476.0 L593.7,475.6 L592.7,475.3 L591.7,475.0 L590.7,474.7 L589.6,474.4 L588.6,474.2 L587.6,473.9 L586.5,473.7 L585.5,473.6 L584.5,473.4 L583.4,473.3 L582.4,473.3 L581.4,473.2 L580.3,473.2 L579.3,473.2 L578.3,473.2 L577.2,473.3 L576.2,473.3 L575.2,473.4 L574.1,473.6 L573.1,473.7 L572.1,473.9 L571.0,474.1 L570.0,474.4 L569.0,474.6 L567.9,474.9 L566.9,475.2 L565.9,475.5 L564.8,475.9 L563.8,476.3 L562.8,476.7 L561.7,477.1 L560.7,477.5 L559.7,478.0 L558.7,478.4 L557.6,478.9 L556.6,479.4 L555.6,480.0 L554.5,480.5 L553.5,481.1 L552.5,481.6 L551.4,482.2 L550.4,482.8 L549.4,483.4 L548.3,484.0 L547.3,484.6 L546.3,485.2 L545.2,485.9 L544.2,486.5 L543.2,487.2 L542.1,487.8 L541.1,488.5 L540.1,489.1 L539.0,489.8 L538.0,490.5 L537.0,491.1 L535.9,491.8 L534.9,492.4 L533.9,493.1 L532.8,493.8 L531.8,494.4 L530.8,495.1 L529.7,495.7 L528.7,496.4 L527.7,497.0 L526.6,497.6 L525.6,498.3 L524.6,498.9 L523.6,499.5 L522.5,500.1 L521.5,500.7 L520.5,501.3 L519.4,501.9 L518.4,502.4 L517.4,503.0 L516.3,503.5 L515.3,504.1 L514.3,504.6 L513.2,505.1 L512.2,505.6 L511.2,506.1 L510.1,506.6 L509.1,507.1 L508.1,507.6 L507.0,508.0 L506.0,508.5 L505.0,508.9 L503.9,509.3 L502.9,509.7 L501.9,510.1 L500.8,510.5 L499.8,510.8 L498.8,511.2 L497.7,511.6 L496.7,511.9 L495.7,512.2 L494.6,512.5 L493.6,512.8 L492.6,513.1 L491.6,513.4 L490.5,513.7 L489.5,513.9 L488.5,514.2 L487.4,514.4 L486.4,514.7 L485.4,514.9 L484.3,515.1 L483.3,515.3 L482.3,515.5 L481.2,515.7 L480.2,515.9 L479.2,516.0 L478.1,516.2 L477.1,516.4 L476.1,516.5 L475.0,516.7 L474.0,516.8 L473.0,516.9 L471.9,517.0 L470.9,517.2 L469.9,517.3 L468.8,517.4 L467.8,517.5 L466.8,517.6 L465.7,517.6 L464.7,517.7 L463.7,517.8 L462.6,517.9 L461.6,517.9 L460.6,518.0 L459.5,518.1 L458.5,518.1 L457.5,518.2 L456.5,518.2 L455.4,518.3 L454.4,518.3 L453.4,518.4 L452.3,518.4 L451.3,518.4 L450.3,518.5 L449.2,518.5 L448.2,518.5 L447.2,518.6 L446.1,518.6 L445.1,518.6 L444.1,518.6 L443.0,518.6 L442.0,518.7 L441.0,518.7 L439.9,518.7 L438.9,518.7 L437.9,518.7 L436.8,518.7 L435.8,518.7 L434.8,518.7 L433.7,518.8 L432.7,518.8 L431.7,518.8 L430.6,518.8 L429.6,518.8 L428.6,518.8 L427.5,518.8 L426.5,518.8 L425.5,518.8 L424.5,518.8 L423.4,518.8 L422.4,518.8 L421.4,518.8 L420.3,518.8 L419.3,518.8 L418.3,518.8 L417.2,518.8 L416.2,518.8 L415.2,518.8 L414.1,518.8 L413.1,518.8 L412.1,518.8 L411.0,518.8 L410.0,518.8 L409.0,518.8 L407.9,518.8 L406.9,518.8 L405.9,518.8 L404.8,518.8 L403.8,518.7 L402.8,518.7 L401.7,518.7 L400.7,518.7 L399.7,518.7 L398.6,518.7 L397.6,518.7 L396.6,518.7 L395.5,518.7 L394.5,518.7 L393.5,518.7 L392.4,518.7 L391.4,518.7 L390.4,518.7 L389.4,518.7 L388.3,518.7 L387.3,518.7 L386.3,518.7 L385.2,518.7 L384.2,518.7 L383.2,518.7 L382.1,518.7 L381.1,518.7 L380.1,518.7 L379.0,518.6 L378.0,518.6 L377.0,518.6 L375.9,518.6 L374.9,518.6 L373.9,518.6 L372.8,518.6 L371.8,518.6 L370.8,518.6 L369.7,518.6 L368.7,518.6 L367.7,518.6 L366.6,518.6 L365.6,518.6 L364.6,518.6 L363.5,518.6 L362.5,518.6 L361.5,518.6 L360.4,518.6 L359.4,518.6 L358.4,518.6 L357.4,518.6 L356.3,518.6 L355.3,518.6 L354.3,518.5 L353.2,518.5 L352.2,518.5 L351.2,518.5 L350.1,518.5 L349.1,518.5 L348.1,518.5 L347.0,518.5 L346.0,518.5 L345.0,518.5 L343.9,518.5 L342.9,518.5 L341.9,518.5 L340.8,518.5 L339.8,518.5 L338.8,518.5 L337.7,518.5 L336.7,518.5 L335.7,518.5 L334.6,518.5 L333.6,518.5 L332.6,518.5 L331.5,518.5 L330.5,518.5 L329.5,518.4 L328.4,518.4 L327.4,518.4 L326.4,518.4 L325.4,518.4 L324.3,518.4 L323.3,518.4 L322.3,518.4 L321.2,518.4 L320.2,518.4 L319.2,518.4 L318.1,518.4 L317.1,518.4 L316.1,518.4 L315.0,518.4 L314.0,518.4 L313.0,518.4 L311.9,518.4 L310.9,518.4 L309.9,518.4 L308.8,518.4 L307.8,518.4 L306.8,518.4 L305.7,518.4 L304.7,518.3 L303.7,518.3 L302.6,518.3 L301.6,518.3 L300.6,518.3 L299.5,518.3 L298.5,518.3 L297.5,518.3 L296.4,518.3 L295.4,518.3 L294.4,518.3 L293.3,518.3 L292.3,518.3 L291.3,518.3 L290.3,518.3 L289.2,518.3 L288.2,518.3 L287.2,518.3 L286.1,518.3 L285.1,518.3 L284.1,518.3 L283.0,518.3 L282.0,518.3 L281.0,518.3 L279.9,518.3 L278.9,518.2 L277.9,518.2 L276.8,518.2 L275.8,518.2 L274.8,518.2 L273.7,518.2 L272.7,518.2 L271.7,518.2 L270.6,518.2 L269.6,518.2 L268.6,518.2 L267.5,518.2 L266.5,518.2 L265.5,518.2 L264.4,518.2 L263.4,518.2 L262.4,518.2 L261.3,518.2 L260.3,518.2 L259.3,518.2 L258.3,518.2 L257.2,518.2 L256.2,518.2 L255.2,518.2 L254.1,518.1 L253.1,518.1 L252.1,518.1 L251.0,518.1 L250.0,518.1 L249.0,518.1 L247.9,518.1 L246.9,518.1 L245.9,518.1 L244.8,518.1 L243.8,518.1 L242.8,518.1 L241.7,518.1 L240.7,518.1 L239.7,518.1 L238.6,518.1 L237.6,518.1 L236.6,518.1 L235.5,518.1 L234.5,518.1 L233.5,518.1 L232.4,518.1 L231.4,518.1 L230.4,518.1 L229.3,518.1 L228.3,518.0 L227.3,518.0 L226.2,518.0 L225.2,518.0 L224.2,518.0 L223.2,518.0 L222.1,518.0 L221.1,518.0 L220.1,518.0 L219.0,518.0 L218.0,518.0 L217.0,518.0 L215.9,518.0 L214.9,518.0 L213.9,518.0 L212.8,518.0 L211.8,518.0 L210.8,518.0 L209.7,518.0 L208.7,518.0 L207.7,518.0 L206.6,518.0 L205.6,518.0 L204.6,518.0 L203.5,517.9 L202.5,517.9 L201.5,517.9 L200.4,517.9 L199.4,517.9 L198.4,517.9 L197.3,517.9 L196.3,517.9 L195.3,517.9 L194.2,517.9 L193.2,517.9 L192.2,517.9 L191.2,517.9 L190.1,517.9 L189.1,517.9 L188.1,517.9 L187.0,517.9 L186.0,517.9 L185.0,517.9 L183.9,517.9 L182.9,517.9 L181.9,517.9Z" fill="#008000"/>
<path d="M450.3,518.5L451.3,518.4L452.3,518.4L453.4,518.4L454.4,518.3L455.4,518.3L456.5,518.2L457.5,518.2L458.5,518.1L459.5,518.1L460.6,518.0L461.6,517.9L462.6,517.9L463.7,517.8L464.7,517.7L465.7,517.6L466.8,517.6L467.8,517.5L468.8,517.4L469.9,517.3L470.9,517.2L471.9,517.0L473.0,516.9L474.0,516.8L475.0,516.7L476.1,516.5L477.1,516.4L478.1,516.2L479.2,516.0L480.2,515.9L481.2,515.7L482.3,515.5L483.3,515.3L484.3,515.1L485.4,514.9L486.4,514.7L487.4,514.4L488.5,514.2L489.5,513.9L490.5,513.7L491.6,513.4L492.6,513.1L493.6,512.8L494.6,512.5L495.7,512.2L496.7,511.9L497.7,511.6L498.8,511.2L499.8,510.8L500.8,510.5L501.9,510.1L502.9,509.7L503.9,509.3L505.0,508.9L506.0,508.5L507.0,508.0L508.1,507.6L509.1,507.1L510.1,506.6L511.2,506.1L512.2,505.6L513.2,505.1L514.3,504.6L515.3,504.1L516.3,503.5L517.4,503.0L518.4,502.4L519.4,501.9L520.5,501.3L521.5,500.7L522.5,500.1L523.6,499.5L524.6,498.9L525.6,498.3L526.6,497.6L527.7,497.0L528.7,496.4L529.7,495.7L530.8,495.1L531.8,494.4L532.8,493.8L533.9,493.1L534.9,492.4L535.9,491.8L537.0,491.1L538.0,490.5L539.0,489.8L540.1,489.1L541.1,488.5L542.1,487.8L543.2,487.2L544.2,486.5L545.2,485.9L546.3,485.2L547.3,484.6L548.3,484.0L549.4,483.4L550.4,482.8L551.4,482.2L552.5,481.6L553.5,481.1L554.5,480.5L555.6,480.0L556.6,479.4L557.6,478.9L558.7,478.4L559.7,478.0L560.7,477.5L561.7,477.1L562.8,476.7L563.8,476.3L564.8,475.9L565.9,475.5L566.9,475.2L567.9,474.9L569.0,474.6L570.0,474.4L571.0,474.1L572.1,473.9L573.1,473.7L574.1,473.6L575.2,473.4L576.2,473.3L577.2,473.3L578.3,473.2L579.3,473.2L580.3,473.2L581.4,473.2L582.4,473.3L583.4,473.3L584.5,473.4L585.5,473.6L586.5,473.7L587.6,473.9L588.6,474.2L589.6,474.4L590.7,474.7L591.7,475.0L592.7,475.3L593.7,475.6L594.8,476.0L595.8,476.4L596.8,476.8L597.9,477.3L598.9,477.7L599.9,478.2L601.0,478.7L602.0,479.3L603.0,479.8L604.1,480.4L605.1,481.0L606.1,481.6L607.2,482.2L608.2,482.8L609.2,483.5L610.3,484.2L611.3,484.9L612.3,485.6L613.4,486.3L614.4,487.0L615.4,487.7L616.5,488.5L617.5,489.2L618.5,490.0L619.6,490.8L620.6,491.5L621.6,492.3L622.7,493.1L623.7,493.9L624.7,494.7L625.8,495.5L626.8,496.3L627.8,497.1L628.8,497.9L629.9,498.7L630.9,499.6L631.9,500.4L633.0,501.2L634.0,502.0L635.0,502.8L636.1,503.6L637.1,504.4L638.1,505.1L639.2,505.9L640.2,506.7L641.2,507.5L642.3,508.2L643.3,509.0L644.3,509.8L645.4,510.5L646.4,511.2L647.4,512.0L648.5,512.7L649.5,513.4L650.5,514.1L651.6,514.8L652.6,515.5L653.6,516.1L654.7,516.8L655.7,517.5L656.7,518.1L657.8,518.7L658.8,519.4L659.8,520.0L660.8,520.6L661.9,521.2L662.9,521.8L663.9,522.3L665.0,522.9L666.0,523.4L667.0,524.0L668.1,524.5L669.1,525.0L670.1,525.5L671.2,526.0L672.2,526.5L673.2,527.0L674.3,527.5L675.3,527.9L676.3,528.4L677.4,528.8L678.4,529.2L679.4,529.6L680.5,530.1L681.5,530.5L682.5,530.8L683.6,531.2L684.6,531.6L685.6,532.0L686.7,532.3L687.7,532.6L688.7,533.0L689.8,533.3L690.8,533.6L691.8,533.9L692.9,534.2L693.9,534.5L694.9,534.8L695.9,535.1L697.0,535.4L698.0,535.6L699.0,535.9L700.1,536.1L701.1,536.4L702.1,536.6L703.2,536.8L704.2,537.0L705.2,537.3L706.3,537.5L707.3,537.7L708.3,537.9L709.4,538.1L710.4,538.2L711.4,538.4L712.5,538.6L713.5,538.8" fill="none" stroke="#008000" stroke-width="5"/>
<path d="M365.6,518.0L366.6,518.0L367.7,518.0L368.7,518.0L369.7,518.0L370.8,517.9L371.8,517.9L372.8,517.9L373.9,517.9L374.9,517.9L375.9,517.8L377.0,517.8L378.0,517.8L379.0,517.8L380.1,517.8L381.1,517.7L382.1,517.7L383.2,517.7L384.2,517.6L385.2,517.6L386.3,517.6L387.3,517.5L388.3,517.5L389.4,517.5L390.4,517.4L391.4,517.4L392.4,517.3L393.5,517.3L394.5,517.2L395.5,517.2L396.6,517.1L397.6,517.1L398.6,517.0L399.7,516.9L400.7,516.9L401.7,516.8L402.8,516.7L403.8,516.6L404.8,516.6L405.9,516.5L406.9,516.4L407.9,516.3L409.0,516.2L410.0,516.1L411.0,516.0L412.1,515.9L413.1,515.8L414.1,515.7L415.2,515.6L416.2,515.5L417.2,515.4L418.3,515.3L419.3,515.1L420.3,515.0L421.4,514.9L422.4,514.7L423.4,514.6L424.5,514.4L425.5,514.3L426.5,514.1L427.5,514.0L428.6,513.8L429.6,513.7L430.6,513.5L431.7,513.4L432.7,513.2L433.7,513.0L434.8,512.8L435.8,512.7L436.8,512.5L437.9,512.3L438.9,512.1L439.9,511.9L441.0,511.7L442.0,511.5L443.0,511.4L444.1,511.2L445.1,511.0L446.1,510.8L447.2,510.6L448.2,510.4L449.2,510.2L450.3,510.0L451.3,509.8L452.3,509.6L453.4,509.4L454.4,509.2L455.4,509.0L456.5,508.8L457.5,508.7L458.5,508.5L459.5,508.3L460.6,508.1L461.6,508.0L462.6,507.8L463.7,507.6L464.7,507.5L465.7,507.3L466.8,507.2L467.8,507.0L468.8,506.9L469.9,506.8L470.9,506.6L471.9,506.5L473.0,506.4L474.0,506.3L475.0,506.2L476.1,506.1L477.1,506.1L478.1,506.0L479.2,505.9L480.2,505.9L481.2,505.9L482.3,505.8L483.3,505.8L484.3,505.8L485.4,505.8L486.4,505.9L487.4,505.9L488.5,505.9L489.5,506.0L490.5,506.0L491.6,506.1L492.6,506.2L493.6,506.3L494.6,506.4L495.7,506.5L496.7,506.6L497.7,506.7L498.8,506.9L499.8,507.0L500.8,507.1L501.9,507.3L502.9,507.5L503.9,507.6L505.0,507.8L506.0,508.0L507.0,508.2L508.1,508.4L509.1,508.6L510.1,508.8L511.2,509.0L512.2,509.2L513.2,509.4L514.3,509.6L515.3,509.8L516.3,510.1L517.4,510.3L518.4,510.5L519.4,510.7L520.5,511.0L521.5,511.2L522.5,511.4L523.6,511.6L524.6,511.9L525.6,512.1L526.6,512.3L527.7,512.5L528.7,512.8L529.7,513.0L530.8,513.2L531.8,513.4L532.8,513.7L533.9,513.9L534.9,514.1L535.9,514.3L537.0,514.5L538.0,514.7L539.0,514.9L540.1,515.1L541.1,515.3L542.1,515.5L543.2,515.7L544.2,515.9L545.2,516.1L546.3,516.3L547.3,516.5L548.3,516.6L549.4,516.8L550.4,517.0L551.4,517.2L552.5,517.3L553.5,517.5L554.5,517.6L555.6,517.8L556.6,518.0L557.6,518.1L558.7,518.3L559.7,518.4L560.7,518.5L561.7,518.7L562.8,518.8L563.8,518.9L564.8,519.1L565.9,519.2L566.9,519.3L567.9,519.5L569.0,519.6L570.0,519.7L571.0,519.8L572.1,519.9L573.1,520.0L574.1,520.1L575.2,520.2L576.2,520.4L577.2,520.5L578.3,520.6L579.3,520.7L580.3,520.8L581.4,520.9L582.4,520.9L583.4,521.0L584.5,521.1L585.5,521.2L586.5,521.3L587.6,521.4L588.6,521.5L589.6,521.6L590.7,521.7L591.7,521.8L592.7,521.8L593.7,521.9L594.8,522.0L595.8,522.1L596.8,522.2L597.9,522.3L598.9,522.4L599.9,522.5L601.0,522.5L602.0,522.6L603.0,522.7L604.1,522.8L605.1,522.9" fill="none" stroke="#8000ff" stroke-width="4.2"/>
<polyline points="181.9,517.9 182.9,517.9 183.9,517.9 185.0,517.9 186.0,517.9 187.0,517.9 188.1,517.9 189.1,517.9 190.1,517.9 191.2,517.9 192.2,517.9 193.2,517.9 194.2,517.9 195.3,517.9 196.3,517.9 197.3,517.9 198.4,517.9 199.4,517.9 200.4,517.9 201.5,517.9 202.5,517.9 203.5,518.0 204.6,518.0 205.6,518.0 206.6,518.0 207.7,518.0 208.7,518.0 209.7,518.0 210.8,518.0 211.8,518.0 212.8,518.0 213.9,518.0 214.9,518.0 215.9,518.0 217.0,518.0 218.0,518.0 219.0,518.0 220.1,518.0 221.1,518.0 222.1,518.0 223.2,518.0 224.2,518.0 225.2,518.0 226.2,518.0 227.3,518.0 228.3,518.1 229.3,518.1 230.4,518.1 231.4,518.1 232.4,518.1 233.5,518.1 234.5,518.1 235.5,518.1 236.6,518.1 237.6,518.1 238.6,518.1 239.7,518.1 240.7,518.1 241.7,518.1 242.8,518.1 243.8,518.1 244.8,518.1 245.9,518.1 246.9,518.1 247.9,518.1 249.0,518.1 250.0,518.1 251.0,518.1 252.1,518.1 253.1,518.1 254.1,518.2 255.2,518.2 256.2,518.2 257.2,518.2 258.3,518.2 259.3,518.2 260.3,518.2 261.3,518.2 262.4,518.2 263.4,518.2 264.4,518.2 265.5,518.2 266.5,518.2 267.5,518.2 268.6,518.2 269.6,518.2 270.6,518.2 271.7,518.2 272.7,518.2 273.7,518.2 274.8,518.2 275.8,518.2 276.8,518.2 277.9,518.2 278.9,518.3 279.9,518.3 281.0,518.3 282.0,518.3 283.0,518.3 284.1,518.3 285.1,518.3 286.1,518.3 287.2,518.3 288.2,518.3 289.2,518.3 290.3,518.3 291.3,518.3 292.3,518.3 293.3,518.3 294.4,518.3 295.4,518.3 296.4,518.3 297.5,518.3 298.5,518.3 299.5,518.3 300.6,518.3 301.6,518.3 302.6,518.3 303.7,518.4 304.7,518.4 305.7,518.4 306.8,518.4 307.8,518.4 308.8,518.4 309.9,518.4 310.9,518.4 311.9,518.4 313.0,518.4 314.0,518.4 315.0,518.4 316.1,518.4 317.1,518.4 318.1,518.4 319.2,518.4 320.2,518.4 321.2,518.4 322.3,518.4 323.3,518.4 324.3,518.4 325.4,518.4 326.4,518.4 327.4,518.4 328.4,518.5 329.5,518.5 330.5,518.5 331.5,518.5 332.6,518.5 333.6,518.5 334.6,518.5 335.7,518.5 336.7,518.5 337.7,518.5 338.8,518.5 339.8,518.5 340.8,518.5 341.9,518.5 342.9,518.5 343.9,518.5 345.0,518.5 346.0,518.5 347.0,518.5 348.1,518.5 349.1,518.5 350.1,518.5 351.2,518.5 352.2,518.5 353.2,518.6 354.3,518.6 355.3,518.6 356.3,518.6 357.4,518.6 358.4,518.6 359.4,518.6 360.4,518.6 361.5,518.6 362.5,518.6 363.5,518.6 364.6,518.6 365.6,518.6 366.6,518.6 367.7,518.6 368.7,518.6 369.7,518.6 370.8,518.6 371.8,518.6 372.8,518.6 373.9,518.6 374.9,518.6 375.9,518.7 377.0,518.7 378.0,518.7 379.0,518.7 380.1,518.7 381.1,518.7 382.1,518.7 383.2,518.7 384.2,518.7 385.2,518.7 386.3,518.7 387.3,518.7 388.3,518.7 389.4,518.7 390.4,518.7 391.4,518.7 392.4,518.7 393.5,518.7 394.5,518.7 395.5,518.7 396.6,518.7 397.6,518.7 398.6,518.8 399.7,518.8 400.7,518.8 401.7,518.8 402.8,518.8 403.8,518.8 404.8,518.8 405.9,518.8 406.9,518.8 407.9,518.8 409.0,518.8 410.0,518.8 411.0,518.8 412.1,518.8 413.1,518.8 414.1,518.8 415.2,518.8 416.2,518.8 417.2,518.9 418.3,518.9 419.3,518.9 420.3,518.9 421.4,518.9 422.4,518.9 423.4,518.9 424.5,518.9 425.5,518.9 426.5,518.9 427.5,518.9 428.6,518.9 429.6,518.9 430.6,518.9 431.7,519.0 432.7,519.0 433.7,519.0 434.8,519.0 435.8,519.0 436.8,519.0 437.9,519.0 438.9,519.0 439.9,519.0 441.0,519.0 442.0,519.0 443.0,519.0 444.1,519.1 445.1,519.1 446.1,519.1 447.2,519.1 448.2,519.1 449.2,519.1 450.3,519.1 451.3,519.1 452.3,519.1 453.4,519.1 454.4,519.2 455.4,519.2 456.5,519.2 457.5,519.2 458.5,519.2 459.5,519.2 460.6,519.2 461.6,519.2 462.6,519.2 463.7,519.3 464.7,519.3 465.7,519.3 466.8,519.3 467.8,519.3 468.8,519.3 469.9,519.3 470.9,519.3 471.9,519.4 473.0,519.4 474.0,519.4 475.0,519.4 476.1,519.4 477.1,519.4 478.1,519.4 479.2,519.5 480.2,519.5 481.2,519.5 482.3,519.5 483.3,519.5 484.3,519.5 485.4,519.5 486.4,519.6 487.4,519.6 488.5,519.6 489.5,519.6 490.5,519.6 491.6,519.6 492.6,519.7 493.6,519.7 494.6,519.7 495.7,519.7 496.7,519.7 497.7,519.7 498.8,519.8 499.8,519.8 500.8,519.8 501.9,519.8 502.9,519.8 503.9,519.8 505.0,519.9 506.0,519.9 507.0,519.9 508.1,519.9 509.1,519.9 510.1,520.0 511.2,520.0 512.2,520.0 513.2,520.0 514.3,520.0 515.3,520.1 516.3,520.1 517.4,520.1 518.4,520.1 519.4,520.1 520.5,520.2 521.5,520.2 522.5,520.2 523.6,520.2 524.6,520.3 525.6,520.3 526.6,520.3 527.7,520.3 528.7,520.3 529.7,520.4 530.8,520.4 531.8,520.4 532.8,520.4 533.9,520.5 534.9,520.5 535.9,520.5 537.0,520.6 538.0,520.6 539.0,520.6 540.1,520.6 541.1,520.7 542.1,520.7 543.2,520.7 544.2,520.8 545.2,520.8 546.3,520.8 547.3,520.8 548.3,520.9 549.4,520.9 550.4,520.9 551.4,521.0 552.5,521.0 553.5,521.0 554.5,521.1 555.6,521.1 556.6,521.1 557.6,521.2 558.7,521.2 559.7,521.2 560.7,521.3 561.7,521.3 562.8,521.4 563.8,521.4 564.8,521.4 565.9,521.5 566.9,521.5 567.9,521.5 569.0,521.6 570.0,521.6 571.0,521.7 572.1,521.7 573.1,521.8 574.1,521.8 575.2,521.8 576.2,521.9 577.2,521.9 578.3,522.0 579.3,522.0 580.3,522.1 581.4,522.1 582.4,522.2 583.4,522.2 584.5,522.3 585.5,522.3 586.5,522.4 587.6,522.4 588.6,522.5 589.6,522.5 590.7,522.6 591.7,522.7 592.7,522.7 593.7,522.8 594.8,522.8 595.8,522.9 596.8,523.0 597.9,523.0 598.9,523.1 599.9,523.2 601.0,523.2 602.0,523.3 603.0,523.4 604.1,523.4 605.1,523.5 606.1,523.6 607.2,523.7 608.2,523.7 609.2,523.8 610.3,523.9 611.3,524.0 612.3,524.1 613.4,524.2 614.4,524.2 615.4,524.3 616.5,524.4 617.5,524.5 618.5,524.6 619.6,524.7 620.6,524.8 621.6,524.9 622.7,525.0 623.7,525.1 624.7,525.2 625.8,525.4 626.8,525.5 627.8,525.6 628.8,525.7 629.9,525.8 630.9,525.9 631.9,526.1 633.0,526.2 634.0,526.3 635.0,526.5 636.1,526.6 637.1,526.7 638.1,526.9 639.2,527.0 640.2,527.2 641.2,527.3 642.3,527.5 643.3,527.6 644.3,527.8 645.4,527.9 646.4,528.1 647.4,528.3 648.5,528.4 649.5,528.6 650.5,528.8 651.6,528.9 652.6,529.1 653.6,529.3 654.7,529.4 655.7,529.6 656.7,529.8 657.8,530.0 658.8,530.2 659.8,530.3 660.8,530.5 661.9,530.7 662.9,530.9 663.9,531.1 665.0,531.3 666.0,531.5 667.0,531.7 668.1,531.9 669.1,532.0 670.1,532.2 671.2,532.4 672.2,532.6 673.2,532.8 674.3,533.0 675.3,533.2 676.3,533.4 677.4,533.6 678.4,533.8 679.4,534.0 680.5,534.2 681.5,534.4 682.5,534.6 683.6,534.7 684.6,534.9 685.6,535.1 686.7,535.3 687.7,535.5 688.7,535.7 689.8,535.8 690.8,536.0 691.8,536.2 692.9,536.4 693.9,536.5 694.9,536.7 695.9,536.9 697.0,537.1 698.0,537.2 699.0,537.4 700.1,537.5 701.1,537.7 702.1,537.8 703.2,538.0 704.2,538.1 705.2,538.3 706.3,538.4 707.3,538.6 708.3,538.7 709.4,538.9 710.4,539.0 711.4,539.1 712.5,539.2 713.5,539.4 714.5,539.5 715.6,539.6 716.6,539.7 717.6,539.8 718.7,539.9 719.7,540.1 720.7,540.2 721.8,540.3 722.8,540.4 723.8,540.5 724.9,540.5 725.9,540.6 726.9,540.7 727.9,540.8 729.0,540.9 730.0,541.0 731.0,541.0 732.1,541.1 733.1,541.2 734.1,541.3 735.2,541.3 736.2,541.4 737.2,541.5 738.3,541.5 739.3,541.6 740.3,541.6 741.4,541.7 742.4,541.7 743.4,541.8 744.5,541.8 745.5,541.9 746.5,541.9 747.6,542.0 748.6,542.0 749.6,542.0 750.7,542.1 751.7,542.1 752.7,542.2 753.8,542.2 754.8,542.2 755.8,542.2 756.9,542.3 757.9,542.3 758.9,542.3 759.9,542.4 761.0,542.4 762.0,542.4 763.0,542.4 764.1,542.4 765.1,542.5 766.1,542.5 767.2,542.5 768.2,542.5 769.2,542.5 770.3,542.6 771.3,542.6 772.3,542.6 773.4,542.6 774.4,542.6 775.4,542.6 776.5,542.6 777.5,542.7 778.5,542.7 779.6,542.7 780.6,542.7 781.6,542.7 782.7,542.7 783.7,542.7 784.7,542.7 785.8,542.7 786.8,542.7 787.8,542.8 788.9,542.8 789.9,542.8 790.9,542.8 792.0,542.8 793.0,542.8 794.0,542.8 795.0,542.8 796.1,542.8 797.1,542.8 798.1,542.8 799.2,542.8 800.2,542.8 801.2,542.8 802.3,542.8 803.3,542.8 804.3,542.9 805.4,542.9 806.4,542.9 807.4,542.9 808.5,542.9 809.5,542.9 810.5,542.9 811.6,542.9 812.6,542.9 813.6,542.9 814.7,542.9 815.7,542.9 816.7,542.9 817.8,542.9 818.8,542.9 819.8,542.9 820.9,542.9 821.9,542.9 822.9,542.9 824.0,542.9 825.0,542.9 826.0,543.0 827.0,543.0 828.1,543.0 829.1,543.0 830.1,543.0 831.2,543.0 832.2,543.0 833.2,543.0 834.3,543.0 835.3,543.0 836.3,543.0 837.4,543.0 838.4,543.0 839.4,543.0 840.5,543.0 841.5,543.0 842.5,543.0 843.6,543.0 844.6,543.0 845.6,543.0 846.7,543.0 847.7,543.0 848.7,543.0 849.8,543.0 850.8,543.0 851.8,543.1 852.9,543.1 853.9,543.1 854.9,543.1 856.0,543.1 857.0,543.1 858.0,543.1 859.1,543.1 860.1,543.1 861.1,543.1 862.1,543.1 863.2,543.1 864.2,543.1 865.2,543.1 866.3,543.1 867.3,543.1 868.3,543.1 869.4,543.1 870.4,543.1 871.4,543.1 872.5,543.1 873.5,543.1 874.5,543.1 875.6,543.1 876.6,543.2 877.6,543.2 878.7,543.2 879.7,543.2 880.7,543.2 881.8,543.2 882.8,543.2 883.8,543.2 884.9,543.2 885.9,543.2 886.9,543.2 888.0,543.2 889.0,543.2 890.0,543.2 891.1,543.2 892.1,543.2 893.1,543.2 894.1,543.2 895.2,543.2 896.2,543.2 897.2,543.2 898.3,543.2 899.3,543.2 900.3,543.2 901.4,543.2 902.4,543.3 903.4,543.3" fill="none" stroke="#c0c0c0" stroke-width="4.8"/>
<path d="M231.6,520.0L231.4,514.8 M244.9,519.4L244.6,514.2 M258.2,518.5L257.8,513.3 M271.4,517.4L271.0,512.2 M284.6,516.6L284.4,511.4 M297.7,516.5L297.8,511.3 M310.8,517.1L311.1,512.0 M324.0,518.2L324.4,513.0 M337.3,519.2L337.6,514.1 M350.6,520.0L350.8,514.8 M363.9,515.3L364.0,510.1 M377.1,515.3L377.0,510.1 M390.3,515.0L390.1,509.8 M403.4,514.1L403.0,509.0 M416.5,512.6L415.8,507.4 M429.8,510.7L429.0,505.5 M443.9,513.4L442.8,508.3 M457.2,510.4L456.0,505.3 M470.4,507.2L469.2,502.2 M483.6,504.2L482.5,499.1 M496.9,501.4L495.7,496.3 M510.3,498.0L508.8,493.0 M523.8,493.3L521.8,488.5 M537.3,486.9L534.8,482.3 M550.7,478.9L547.9,474.5 M564.1,469.5L560.9,465.4 M577.6,458.0L573.9,454.3 M591.1,442.1L586.9,439.1 M604.6,418.5L599.9,416.3 M617.9,384.6L613.0,383.0 M631.2,341.0L626.2,339.6 M644.4,293.7L639.5,292.3 M657.6,254.1L652.8,252.1 M669.6,235.3L667.2,230.7 M679.4,241.9L683.9,239.2 M692.4,276.3L697.4,274.8 M705.6,329.9L710.7,328.7 M718.9,389.6L723.9,388.4 M732.1,443.6L737.1,442.3 M750.1,483.5L755.0,481.7 M763.1,510.8L767.6,508.0 M775.9,526.4L779.4,522.5 M788.5,534.3L790.6,529.6 M801.3,538.0L802.2,532.9 M814.2,539.6L814.6,534.4 M827.4,540.2L827.5,535.0 M840.6,540.5L840.6,535.3 M853.8,540.6L853.8,535.4" stroke="#555" stroke-width="1.0" fill="none"/>
<polyline points="181.9,517.8 182.9,517.8 183.9,517.8 185.0,517.8 186.0,517.8 187.0,517.8 188.1,517.8 189.1,517.8 190.1,517.8 191.2,517.8 192.2,517.8 193.2,517.8 194.2,517.8 195.3,517.8 196.3,517.8 197.3,517.8 198.4,517.8 199.4,517.8 200.4,517.8 201.5,517.8 202.5,517.8 203.5,517.8 204.6,517.8 205.6,517.8 206.6,517.8 207.7,517.8 208.7,517.8 209.7,517.8 210.8,517.8 211.8,517.8 212.8,517.8 213.9,517.7 214.9,517.7 215.9,517.7 217.0,517.7 218.0,517.7 219.0,517.7 220.1,517.7 221.1,517.7 222.1,517.6 223.2,517.6 224.2,517.6 225.2,517.6 226.2,517.6 227.3,517.5 228.3,517.5 229.3,517.5 230.4,517.4 231.4,517.4 232.4,517.4 233.5,517.3 234.5,517.3 235.5,517.3 236.6,517.2 237.6,517.2 238.6,517.1 239.7,517.1 240.7,517.0 241.7,517.0 242.8,516.9 243.8,516.9 244.8,516.8 245.9,516.7 246.9,516.7 247.9,516.6 249.0,516.5 250.0,516.5 251.0,516.4 252.1,516.3 253.1,516.3 254.1,516.2 255.2,516.1 256.2,516.0 257.2,515.9 258.3,515.9 259.3,515.8 260.3,515.7 261.3,515.6 262.4,515.5 263.4,515.4 264.4,515.4 265.5,515.3 266.5,515.2 267.5,515.1 268.6,515.0 269.6,514.9 270.6,514.9 271.7,514.8 272.7,514.7 273.7,514.6 274.8,514.6 275.8,514.5 276.8,514.4 277.9,514.4 278.9,514.3 279.9,514.2 281.0,514.2 282.0,514.1 283.0,514.1 284.1,514.1 285.1,514.0 286.1,514.0 287.2,514.0 288.2,513.9 289.2,513.9 290.3,513.9 291.3,513.9 292.3,513.9 293.3,513.9 294.4,513.9 295.4,513.9 296.4,513.9 297.5,513.9 298.5,513.9 299.5,514.0 300.6,514.0 301.6,514.0 302.6,514.1 303.7,514.1 304.7,514.2 305.7,514.2 306.8,514.3 307.8,514.3 308.8,514.4 309.9,514.5 310.9,514.5 311.9,514.6 313.0,514.7 314.0,514.8 315.0,514.9 316.1,514.9 317.1,515.0 318.1,515.1 319.2,515.2 320.2,515.3 321.2,515.4 322.3,515.4 323.3,515.5 324.3,515.6 325.4,515.7 326.4,515.8 327.4,515.9 328.4,516.0 329.5,516.0 330.5,516.1 331.5,516.2 332.6,516.3 333.6,516.4 334.6,516.5 335.7,516.5 336.7,516.6 337.7,516.7 338.8,516.7 339.8,516.8 340.8,516.9 341.9,516.9 342.9,517.0 343.9,517.1 345.0,517.1 346.0,517.2 347.0,517.2 348.1,517.3 349.1,517.3 350.1,517.4 351.2,517.4 352.2,517.4 353.2,517.5 354.3,517.5 355.3,517.5 356.3,517.6 357.4,517.6 358.4,517.6 359.4,517.7 360.4,517.7 361.5,517.7 362.5,517.7 363.5,517.7 364.6,517.7 365.6,517.7 366.6,517.7 367.7,517.8 368.7,517.8 369.7,517.8 370.8,517.8 371.8,517.8 372.8,517.8 373.9,517.7 374.9,517.7 375.9,517.7 377.0,517.7 378.0,517.7 379.0,517.7 380.1,517.7 381.1,517.6 382.1,517.6 383.2,517.6 384.2,517.6 385.2,517.5 386.3,517.5 387.3,517.5 388.3,517.4 389.4,517.4 390.4,517.4 391.4,517.3 392.4,517.3 393.5,517.2 394.5,517.2 395.5,517.1 396.6,517.1 397.6,517.0 398.6,516.9 399.7,516.9 400.7,516.8 401.7,516.7 402.8,516.6 403.8,516.5 404.8,516.4 405.9,516.3 406.9,516.2 407.9,516.1 409.0,516.0 410.0,515.9 411.0,515.7 412.1,515.6 413.1,515.5 414.1,515.3 415.2,515.2 416.2,515.0 417.2,514.9 418.3,514.7 419.3,514.6 420.3,514.4 421.4,514.3 422.4,514.1 423.4,514.0 424.5,513.8 425.5,513.7 426.5,513.6 427.5,513.4 428.6,513.3 429.6,513.1 430.6,513.0 431.7,512.8 432.7,512.7 433.7,512.5 434.8,512.3 435.8,512.2 436.8,512.0 437.9,511.8 438.9,511.6 439.9,511.5 441.0,511.3 442.0,511.1 443.0,510.9 444.1,510.7 445.1,510.5 446.1,510.2 447.2,510.0 448.2,509.8 449.2,509.6 450.3,509.3 451.3,509.1 452.3,508.9 453.4,508.6 454.4,508.4 455.4,508.2 456.5,507.9 457.5,507.7 458.5,507.4 459.5,507.2 460.6,506.9 461.6,506.7 462.6,506.4 463.7,506.2 464.7,505.9 465.7,505.7 466.8,505.4 467.8,505.2 468.8,504.9 469.9,504.7 470.9,504.4 471.9,504.2 473.0,503.9 474.0,503.7 475.0,503.5 476.1,503.2 477.1,503.0 478.1,502.8 479.2,502.5 480.2,502.3 481.2,502.1 482.3,501.8 483.3,501.6 484.3,501.4 485.4,501.2 486.4,501.0 487.4,500.7 488.5,500.5 489.5,500.3 490.5,500.1 491.6,499.9 492.6,499.6 493.6,499.4 494.6,499.2 495.7,499.0 496.7,498.7 497.7,498.5 498.8,498.3 499.8,498.0 500.8,497.8 501.9,497.5 502.9,497.3 503.9,497.0 505.0,496.8 506.0,496.5 507.0,496.2 508.1,495.9 509.1,495.7 510.1,495.4 511.2,495.0 512.2,494.7 513.2,494.4 514.3,494.1 515.3,493.7 516.3,493.4 517.4,493.0 518.4,492.6 519.4,492.2 520.5,491.8 521.5,491.4 522.5,491.0 523.6,490.6 524.6,490.1 525.6,489.7 526.6,489.2 527.7,488.8 528.7,488.3 529.7,487.8 530.8,487.3 531.8,486.8 532.8,486.3 533.9,485.7 534.9,485.2 535.9,484.6 537.0,484.1 538.0,483.5 539.0,482.9 540.1,482.3 541.1,481.7 542.1,481.1 543.2,480.5 544.2,479.9 545.2,479.3 546.3,478.6 547.3,478.0 548.3,477.3 549.4,476.7 550.4,476.0 551.4,475.3 552.5,474.6 553.5,473.9 554.5,473.2 555.6,472.5 556.6,471.8 557.6,471.1 558.7,470.3 559.7,469.6 560.7,468.8 561.7,468.0 562.8,467.3 563.8,466.5 564.8,465.7 565.9,464.8 566.9,464.0 567.9,463.2 569.0,462.3 570.0,461.4 571.0,460.5 572.1,459.6 573.1,458.7 574.1,457.7 575.2,456.7 576.2,455.7 577.2,454.7 578.3,453.6 579.3,452.5 580.3,451.4 581.4,450.3 582.4,449.1 583.4,447.9 584.5,446.6 585.5,445.3 586.5,444.0 587.6,442.6 588.6,441.2 589.6,439.7 590.7,438.2 591.7,436.6 592.7,435.0 593.7,433.3 594.8,431.6 595.8,429.8 596.8,428.0 597.9,426.1 598.9,424.1 599.9,422.1 601.0,420.0 602.0,417.9 603.0,415.7 604.1,413.4 605.1,411.1 606.1,408.6 607.2,406.2 608.2,403.6 609.2,401.0 610.3,398.3 611.3,395.6 612.3,392.8 613.4,389.9 614.4,386.9 615.4,383.9 616.5,380.8 617.5,377.7 618.5,374.5 619.6,371.2 620.6,367.9 621.6,364.6 622.7,361.2 623.7,357.7 624.7,354.2 625.8,350.6 626.8,347.1 627.8,343.4 628.8,339.8 629.9,336.1 630.9,332.4 631.9,328.7 633.0,325.0 634.0,321.3 635.0,317.5 636.1,313.8 637.1,310.1 638.1,306.4 639.2,302.7 640.2,299.1 641.2,295.5 642.3,291.9 643.3,288.4 644.3,284.9 645.4,281.5 646.4,278.1 647.4,274.9 648.5,271.7 649.5,268.5 650.5,265.5 651.6,262.6 652.6,259.7 653.6,257.0 654.7,254.4 655.7,251.9 656.7,249.5 657.8,247.3 658.8,245.2 659.8,243.3 660.8,241.4 661.9,239.8 662.9,238.3 663.9,236.9 665.0,235.7 666.0,234.7 667.0,233.8 668.1,233.1 669.1,232.6 670.1,232.3 671.2,232.1 672.2,232.1 673.2,232.3 674.3,232.7 675.3,233.2 676.3,234.0 677.4,234.9 678.4,235.9 679.4,237.2 680.5,238.6 681.5,240.3 682.5,242.0 683.6,244.0 684.6,246.1 685.6,248.4 686.7,250.8 687.7,253.4 688.7,256.2 689.8,259.1 690.8,262.1 691.8,265.3 692.9,268.6 693.9,272.0 694.9,275.6 695.9,279.2 697.0,283.0 698.0,286.9 699.0,290.9 700.1,295.0 701.1,299.1 702.1,303.4 703.2,307.7 704.2,312.1 705.2,316.5 706.3,321.0 707.3,325.6 708.3,330.1 709.4,334.8 710.4,339.4 711.4,344.1 712.5,348.7 713.5,353.4 714.5,358.1 715.6,362.8 716.6,367.5 717.6,372.2 718.7,376.8 719.7,381.5 720.7,386.0 721.8,390.6 722.8,395.1 723.8,399.6 724.9,404.0 725.9,408.4 726.9,412.7 727.9,417.0 729.0,421.2 730.0,425.3 731.0,429.4 732.1,433.4 733.1,437.3 734.1,441.2 735.2,444.9 736.2,448.6 737.2,452.2 738.3,455.7 739.3,459.2 740.3,462.5 741.4,465.8 742.4,469.0 743.4,472.1 744.5,475.1 745.5,478.0 746.5,480.9 747.6,483.6 748.6,486.3 749.6,488.8 750.7,491.3 751.7,493.7 752.7,496.1 753.8,498.3 754.8,500.5 755.8,502.6 756.9,504.6 757.9,506.5 758.9,508.3 759.9,510.1 761.0,511.8 762.0,513.5 763.0,515.0 764.1,516.5 765.1,518.0 766.1,519.3 767.2,520.6 768.2,521.9 769.2,523.1 770.3,524.2 771.3,525.3 772.3,526.3 773.4,527.3 774.4,528.2 775.4,529.1 776.5,530.0 777.5,530.8 778.5,531.5 779.6,532.2 780.6,532.9 781.6,533.5 782.7,534.1 783.7,534.7 784.7,535.2 785.8,535.7 786.8,536.2 787.8,536.7 788.9,537.1 789.9,537.5 790.9,537.8 792.0,538.2 793.0,538.5 794.0,538.8 795.0,539.1 796.1,539.4 797.1,539.6 798.1,539.9 799.2,540.1 800.2,540.3 801.2,540.5 802.3,540.7 803.3,540.8 804.3,541.0 805.4,541.1 806.4,541.3 807.4,541.4 808.5,541.5 809.5,541.6 810.5,541.7 811.6,541.8 812.6,541.9 813.6,542.0 814.7,542.1 815.7,542.1 816.7,542.2 817.8,542.2 818.8,542.3 819.8,542.4 820.9,542.4 821.9,542.4 822.9,542.5 824.0,542.5 825.0,542.6 826.0,542.6 827.0,542.6 828.1,542.6 829.1,542.7 830.1,542.7 831.2,542.7 832.2,542.7 833.2,542.8 834.3,542.8 835.3,542.8 836.3,542.8 837.4,542.8 838.4,542.8 839.4,542.9 840.5,542.9 841.5,542.9 842.5,542.9 843.6,542.9 844.6,542.9 845.6,542.9 846.7,542.9 847.7,542.9 848.7,542.9 849.8,542.9 850.8,543.0 851.8,543.0 852.9,543.0 853.9,543.0 854.9,543.0 856.0,543.0 857.0,543.0 858.0,543.0 859.1,543.0 860.1,543.0 861.1,543.0 862.1,543.0 863.2,543.0 864.2,543.0 865.2,543.0 866.3,543.0 867.3,543.0 868.3,543.1 869.4,543.1 870.4,543.1 871.4,543.1 872.5,543.1 873.5,543.1 874.5,543.1 875.6,543.1 876.6,543.1 877.6,543.1 878.7,543.1 879.7,543.1 880.7,543.1 881.8,543.1 882.8,543.1 883.8,543.1 884.9,543.1 885.9,543.1 886.9,543.1 888.0,543.1 889.0,543.1 890.0,543.1 891.1,543.2 892.1,543.2 893.1,543.2 894.1,543.2 895.2,543.2 896.2,543.2 897.2,543.2 898.3,543.2 899.3,543.2 900.3,543.2 901.4,543.2 902.4,543.2 903.4,543.2" fill="none" stroke="#ee1111" stroke-width="5.5" stroke-linejoin="round"/>
</g>
<clipPath id="clip1"><rect x="857.2" y="115.8" width="628.4" height="441.6"/></clipPath>
<g clip-path="url(#clip1)">
<path d="M810.3,531.2 L811.3,531.2 L812.3,531.2 L813.4,531.2 L814.4,531.2 L815.4,531.2 L816.5,531.2 L817.5,531.1 L818.5,531.1 L819.6,531.1 L820.6,531.1 L821.6,531.1 L822.6,531.1 L823.7,531.1 L824.7,531.1 L825.7,531.1 L826.8,531.1 L827.8,531.1 L828.8,531.1 L829.9,531.0 L830.9,531.0 L831.9,531.0 L833.0,531.0 L834.0,531.0 L835.0,531.0 L836.1,531.0 L837.1,531.0 L838.1,531.0 L839.2,531.0 L840.2,531.0 L841.2,530.9 L842.3,530.9 L843.3,530.9 L844.3,530.9 L845.4,530.9 L846.4,530.9 L847.4,530.9 L848.5,530.9 L849.5,530.9 L850.5,530.9 L851.6,530.9 L852.6,530.9 L853.6,530.8 L854.6,530.8 L855.7,530.8 L856.7,530.8 L857.7,530.8 L858.8,530.8 L859.8,530.8 L860.8,530.8 L861.9,530.8 L862.9,530.8 L863.9,530.8 L865.0,530.8 L866.0,530.7 L867.0,530.7 L868.1,530.7 L869.1,530.7 L870.1,530.7 L871.2,530.7 L872.2,530.7 L873.2,530.7 L874.3,530.7 L875.3,530.7 L876.3,530.7 L877.4,530.7 L878.4,530.6 L879.4,530.6 L880.5,530.6 L881.5,530.6 L882.5,530.6 L883.6,530.6 L884.6,530.6 L885.6,530.6 L886.7,530.6 L887.7,530.6 L888.7,530.6 L889.7,530.5 L890.8,530.5 L891.8,530.5 L892.8,530.5 L893.9,530.5 L894.9,530.5 L895.9,530.5 L897.0,530.5 L898.0,530.5 L899.0,530.5 L900.1,530.5 L901.1,530.5 L902.1,530.4 L903.2,530.4 L904.2,530.4 L905.2,530.4 L906.3,530.4 L907.3,530.4 L908.3,530.4 L909.4,530.4 L910.4,530.4 L911.4,530.4 L912.5,530.4 L913.5,530.4 L914.5,530.3 L915.6,530.3 L916.6,530.3 L917.6,530.3 L918.7,530.3 L919.7,530.3 L920.7,530.3 L921.7,530.3 L922.8,530.3 L923.8,530.3 L924.8,530.3 L925.9,530.3 L926.9,530.2 L927.9,530.2 L929.0,530.2 L930.0,530.2 L931.0,530.2 L932.1,530.2 L933.1,530.2 L934.1,530.2 L935.2,530.2 L936.2,530.2 L937.2,530.2 L938.3,530.2 L939.3,530.1 L940.3,530.1 L941.4,530.1 L942.4,530.1 L943.4,530.1 L944.5,530.1 L945.5,530.1 L946.5,530.1 L947.6,530.1 L948.6,530.1 L949.6,530.1 L950.7,530.1 L951.7,530.0 L952.7,530.0 L953.8,530.0 L954.8,530.0 L955.8,530.0 L956.8,530.0 L957.9,530.0 L958.9,530.0 L959.9,530.0 L961.0,530.0 L962.0,530.0 L963.0,530.0 L964.1,529.9 L965.1,529.9 L966.1,529.9 L967.2,529.9 L968.2,529.9 L969.2,529.9 L970.3,529.9 L971.3,529.9 L972.3,529.9 L973.4,529.9 L974.4,529.9 L975.4,529.9 L976.5,529.9 L977.5,529.8 L978.5,529.8 L979.6,529.8 L980.6,529.8 L981.6,529.8 L982.7,529.8 L983.7,529.8 L984.7,529.8 L985.8,529.8 L986.8,529.8 L987.8,529.8 L988.8,529.8 L989.9,529.7 L990.9,529.7 L991.9,529.7 L993.0,529.7 L994.0,529.7 L995.0,529.7 L996.1,529.7 L997.1,529.7 L998.1,529.7 L999.2,529.7 L1000.2,529.7 L1001.2,529.7 L1002.3,529.7 L1003.3,529.6 L1004.3,529.6 L1005.4,529.6 L1006.4,529.6 L1007.4,529.6 L1008.5,529.6 L1009.5,529.6 L1010.5,529.6 L1011.6,529.6 L1012.6,529.6 L1013.6,529.6 L1014.7,529.6 L1015.7,529.6 L1016.7,529.6 L1017.8,529.5 L1018.8,529.5 L1019.8,529.5 L1020.8,529.5 L1021.9,529.5 L1022.9,529.5 L1023.9,529.5 L1025.0,529.5 L1026.0,529.5 L1027.0,529.5 L1028.1,529.5 L1029.1,529.5 L1030.1,529.5 L1031.2,529.5 L1032.2,529.5 L1033.2,529.4 L1034.3,529.4 L1035.3,529.4 L1036.3,529.4 L1037.4,529.4 L1038.4,529.4 L1039.4,529.4 L1040.5,529.4 L1041.5,529.4 L1042.5,529.4 L1043.6,529.4 L1044.6,529.4 L1045.6,529.4 L1046.7,529.3 L1047.7,529.3 L1048.7,529.3 L1049.8,529.3 L1050.8,529.3 L1051.8,529.3 L1052.9,529.3 L1053.9,529.3 L1054.9,529.2 L1055.9,529.2 L1057.0,529.2 L1058.0,529.2 L1059.0,529.2 L1060.1,529.2 L1061.1,529.1 L1062.1,529.1 L1063.2,529.1 L1064.2,529.1 L1065.2,529.0 L1066.3,529.0 L1067.3,529.0 L1068.3,528.9 L1069.4,528.9 L1070.4,528.9 L1071.4,528.8 L1072.5,528.8 L1073.5,528.7 L1074.5,528.7 L1075.6,528.6 L1076.6,528.6 L1077.6,528.5 L1078.7,528.4 L1079.7,528.4 L1080.7,528.3 L1081.8,528.2 L1082.8,528.1 L1083.8,528.0 L1084.9,527.9 L1085.9,527.8 L1086.9,527.7 L1087.9,527.6 L1089.0,527.5 L1090.0,527.4 L1091.0,527.3 L1092.1,527.1 L1093.1,527.0 L1094.1,526.8 L1095.2,526.7 L1096.2,526.5 L1097.2,526.3 L1098.3,526.1 L1099.3,525.9 L1100.3,525.7 L1101.4,525.5 L1102.4,525.3 L1103.4,525.1 L1104.5,524.8 L1105.5,524.6 L1106.5,524.3 L1107.6,524.0 L1108.6,523.7 L1109.6,523.4 L1110.7,523.1 L1111.7,522.8 L1112.7,522.5 L1113.8,522.1 L1114.8,521.8 L1115.8,521.4 L1116.9,521.0 L1117.9,520.6 L1118.9,520.2 L1120.0,519.8 L1121.0,519.4 L1122.0,518.9 L1123.0,518.5 L1124.1,518.0 L1125.1,517.5 L1126.1,517.0 L1127.2,516.5 L1128.2,516.0 L1129.2,515.5 L1130.3,514.9 L1131.3,514.4 L1132.3,513.8 L1133.4,513.2 L1134.4,512.6 L1135.4,512.0 L1136.5,511.4 L1137.5,510.8 L1138.5,510.2 L1139.6,509.6 L1140.6,508.9 L1141.6,508.3 L1142.7,507.6 L1143.7,507.0 L1144.7,506.3 L1145.8,505.6 L1146.8,504.9 L1147.8,504.3 L1148.9,503.6 L1149.9,502.9 L1150.9,502.2 L1152.0,501.5 L1153.0,500.8 L1154.0,500.2 L1155.0,499.5 L1156.1,498.8 L1157.1,498.1 L1158.1,497.5 L1159.2,496.8 L1160.2,496.2 L1161.2,495.5 L1162.3,494.9 L1163.3,494.3 L1164.3,493.6 L1165.4,493.0 L1166.4,492.5 L1167.4,491.9 L1168.5,491.3 L1169.5,490.8 L1170.5,490.3 L1171.6,489.7 L1172.6,489.3 L1173.6,488.8 L1174.7,488.3 L1175.7,487.9 L1176.7,487.5 L1177.8,487.1 L1178.8,486.8 L1179.8,486.4 L1180.9,486.1 L1181.9,485.8 L1182.9,485.6 L1184.0,485.3 L1185.0,485.1 L1186.0,484.9 L1187.1,484.8 L1188.1,484.7 L1189.1,484.6 L1190.1,484.5 L1191.2,484.4 L1192.2,484.4 L1193.2,484.4 L1194.3,484.5 L1195.3,484.6 L1196.3,484.7 L1197.4,484.8 L1198.4,485.0 L1199.4,485.1 L1200.5,485.4 L1201.5,485.6 L1202.5,485.9 L1203.6,486.2 L1204.6,486.5 L1205.6,486.8 L1206.7,487.2 L1207.7,487.6 L1208.7,488.0 L1209.8,488.5 L1210.8,489.0 L1211.8,489.5 L1212.9,490.0 L1213.9,490.5 L1214.9,491.1 L1216.0,491.6 L1217.0,492.2 L1218.0,492.8 L1219.1,493.4 L1220.1,494.1 L1221.1,494.7 L1222.1,495.4 L1223.2,496.1 L1224.2,496.8 L1225.2,497.5 L1226.3,498.2 L1227.3,498.9 L1228.3,499.6 L1229.4,500.3 L1230.4,501.1 L1231.4,501.8 L1232.5,502.6 L1233.5,503.3 L1234.5,504.1 L1235.6,504.8 L1236.6,505.6 L1237.6,506.3 L1238.7,507.1 L1239.7,507.8 L1240.7,508.6 L1241.8,509.3 L1242.8,510.1 L1243.8,510.8 L1244.9,511.5 L1245.9,512.3 L1246.9,513.0 L1248.0,513.7 L1249.0,514.4 L1250.0,515.1 L1251.1,515.8 L1252.1,516.5 L1253.1,517.1 L1254.2,517.8 L1255.2,518.4 L1256.2,519.1 L1257.2,519.7 L1258.3,520.3 L1259.3,520.9 L1260.3,521.5 L1261.4,522.1 L1262.4,522.7 L1263.4,523.2 L1264.5,523.8 L1265.5,524.3 L1266.5,524.8 L1267.6,525.4 L1268.6,525.9 L1269.6,526.4 L1270.7,526.8 L1271.7,527.3 L1272.7,527.8 L1273.8,528.2 L1274.8,528.6 L1275.8,529.1 L1276.9,529.5 L1277.9,529.9 L1278.9,530.3 L1280.0,530.6 L1281.0,531.0 L1282.0,531.4 L1283.1,531.7 L1284.1,532.0 L1285.1,532.4 L1286.2,532.7 L1287.2,533.0 L1288.2,533.3 L1289.2,533.6 L1290.3,533.9 L1291.3,534.2 L1292.3,534.4 L1293.4,534.7 L1294.4,534.9 L1295.4,535.2 L1296.5,535.4 L1297.5,535.6 L1298.5,535.9 L1299.6,536.1 L1300.6,536.3 L1301.6,536.5 L1302.7,536.7 L1303.7,536.9 L1304.7,537.1 L1305.8,537.2 L1306.8,537.4 L1307.8,537.6 L1308.9,537.7 L1309.9,537.9 L1310.9,538.1 L1312.0,538.2 L1313.0,538.4 L1314.0,538.5 L1315.1,538.6 L1316.1,538.8 L1317.1,538.9 L1318.2,539.0 L1319.2,539.1 L1320.2,539.3 L1321.3,539.4 L1322.3,539.5 L1323.3,539.6 L1324.3,539.7 L1325.4,539.8 L1326.4,539.9 L1327.4,540.0 L1328.5,540.1 L1329.5,540.2 L1330.5,540.3 L1331.6,540.3 L1332.6,540.4 L1333.6,540.5 L1334.7,540.6 L1335.7,540.6 L1336.7,540.7 L1337.8,540.8 L1338.8,540.8 L1339.8,540.9 L1340.9,541.0 L1341.9,541.0 L1342.9,541.1 L1344.0,541.1 L1345.0,541.2 L1346.0,541.2 L1347.1,541.3 L1348.1,541.3 L1349.1,541.4 L1350.2,541.4 L1351.2,541.5 L1352.2,541.5 L1353.3,541.6 L1354.3,541.6 L1355.3,541.6 L1356.3,541.7 L1357.4,541.7 L1358.4,541.7 L1359.4,541.8 L1360.5,541.8 L1361.5,541.8 L1362.5,541.8 L1363.6,541.9 L1364.6,541.9 L1365.6,541.9 L1366.7,541.9 L1367.7,541.9 L1368.7,542.0 L1369.8,542.0 L1370.8,542.0 L1371.8,542.0 L1372.9,542.0 L1373.9,542.0 L1374.9,542.1 L1376.0,542.1 L1377.0,542.1 L1378.0,542.1 L1379.1,542.1 L1380.1,542.1 L1381.1,542.1 L1382.2,542.1 L1383.2,542.1 L1384.2,542.1 L1385.3,542.1 L1386.3,542.1 L1387.3,542.1 L1388.3,542.1 L1389.4,542.1 L1390.4,542.1 L1391.4,542.1 L1392.5,542.1 L1393.5,542.1 L1394.5,542.1 L1395.6,542.1 L1396.6,542.1 L1397.6,542.1 L1398.7,542.1 L1399.7,542.1 L1400.7,542.1 L1401.8,542.1 L1402.8,542.1 L1403.8,542.1 L1404.9,542.1 L1405.9,542.1 L1406.9,542.1 L1408.0,542.1 L1409.0,542.1 L1410.0,542.1 L1411.1,542.1 L1412.1,542.1 L1413.1,542.1 L1414.2,542.1 L1415.2,542.1 L1416.2,542.1 L1417.3,542.1 L1418.3,542.0 L1419.3,542.0 L1420.4,542.0 L1421.4,542.0 L1422.4,542.0 L1423.4,542.0 L1424.5,542.0 L1425.5,542.0 L1426.5,542.0 L1427.6,542.0 L1428.6,542.0 L1429.6,542.0 L1430.7,542.0 L1431.7,542.0 L1432.7,541.9 L1433.8,541.9 L1434.8,541.9 L1435.8,541.9 L1436.9,541.9 L1437.9,541.9 L1438.9,541.9 L1440.0,541.9 L1441.0,541.9 L1442.0,541.9 L1443.1,541.9 L1444.1,541.9 L1445.1,541.8 L1446.2,541.8 L1447.2,541.8 L1448.2,541.8 L1449.3,541.8 L1450.3,541.8 L1451.3,541.8 L1452.4,541.8 L1453.4,541.8 L1454.4,541.8 L1455.4,541.8 L1456.5,541.8 L1457.5,541.7 L1458.5,541.7 L1459.6,541.7 L1460.6,541.7 L1461.6,541.7 L1462.7,541.7 L1463.7,541.7 L1464.7,541.7 L1465.8,541.7 L1466.8,541.7 L1467.8,541.7 L1468.9,541.7 L1469.9,541.6 L1470.9,541.6 L1472.0,541.6 L1473.0,541.6 L1474.0,541.6 L1475.1,541.6 L1476.1,541.6 L1477.1,541.6 L1478.2,541.6 L1479.2,541.6 L1480.2,541.6 L1481.3,541.5 L1482.3,541.5 L1483.3,541.5 L1484.4,541.5 L1485.4,541.5 L1486.4,541.5 L1487.5,541.5 L1488.5,541.5 L1489.5,541.5 L1490.5,541.5 L1491.6,541.5 L1492.6,541.5 L1493.6,541.4 L1494.7,541.4 L1495.7,541.4 L1496.7,541.4 L1497.8,541.4 L1498.8,541.4 L1499.8,541.4 L1500.9,541.4 L1501.9,541.4 L1502.9,541.4 L1504.0,541.4 L1505.0,541.4 L1506.0,541.3 L1507.1,541.3 L1508.1,541.3 L1509.1,541.3 L1510.2,541.3 L1511.2,541.3 L1512.2,541.3 L1513.3,541.3 L1514.3,541.3 L1515.3,541.3 L1516.4,541.3 L1517.4,541.2 L1518.4,541.2 L1519.5,541.2 L1520.5,541.2 L1521.5,541.2 L1522.5,541.2 L1523.6,541.2 L1524.6,541.2 L1525.6,541.2 L1526.7,541.2 L1527.7,541.2 L1528.7,541.2 L1529.8,541.1 L1530.8,541.1 L1531.8,541.1 L1531.8,541.1 L1530.8,541.1 L1529.8,541.1 L1528.7,541.2 L1527.7,541.2 L1526.7,541.2 L1525.6,541.2 L1524.6,541.2 L1523.6,541.2 L1522.5,541.2 L1521.5,541.2 L1520.5,541.2 L1519.5,541.2 L1518.4,541.2 L1517.4,541.2 L1516.4,541.3 L1515.3,541.3 L1514.3,541.3 L1513.3,541.3 L1512.2,541.3 L1511.2,541.3 L1510.2,541.3 L1509.1,541.3 L1508.1,541.3 L1507.1,541.3 L1506.0,541.3 L1505.0,541.3 L1504.0,541.4 L1502.9,541.4 L1501.9,541.4 L1500.9,541.4 L1499.8,541.4 L1498.8,541.4 L1497.8,541.4 L1496.7,541.4 L1495.7,541.4 L1494.7,541.4 L1493.6,541.4 L1492.6,541.4 L1491.6,541.5 L1490.5,541.5 L1489.5,541.5 L1488.5,541.5 L1487.5,541.5 L1486.4,541.5 L1485.4,541.5 L1484.4,541.5 L1483.3,541.5 L1482.3,541.5 L1481.3,541.5 L1480.2,541.5 L1479.2,541.5 L1478.2,541.6 L1477.1,541.6 L1476.1,541.6 L1475.1,541.6 L1474.0,541.6 L1473.0,541.6 L1472.0,541.6 L1470.9,541.6 L1469.9,541.6 L1468.9,541.6 L1467.8,541.6 L1466.8,541.6 L1465.8,541.6 L1464.7,541.6 L1463.7,541.6 L1462.7,541.6 L1461.6,541.6 L1460.6,541.6 L1459.6,541.6 L1458.5,541.6 L1457.5,541.6 L1456.5,541.6 L1455.4,541.6 L1454.4,541.6 L1453.4,541.6 L1452.4,541.6 L1451.3,541.6 L1450.3,541.6 L1449.3,541.6 L1448.2,541.6 L1447.2,541.5 L1446.2,541.5 L1445.1,541.5 L1444.1,541.5 L1443.1,541.5 L1442.0,541.4 L1441.0,541.4 L1440.0,541.4 L1438.9,541.3 L1437.9,541.3 L1436.9,541.3 L1435.8,541.2 L1434.8,541.2 L1433.8,541.1 L1432.7,541.0 L1431.7,541.0 L1430.7,540.9 L1429.6,540.8 L1428.6,540.8 L1427.6,540.7 L1426.5,540.6 L1425.5,540.5 L1424.5,540.4 L1423.4,540.2 L1422.4,540.1 L1421.4,540.0 L1420.4,539.9 L1419.3,539.7 L1418.3,539.5 L1417.3,539.4 L1416.2,539.2 L1415.2,539.0 L1414.2,538.8 L1413.1,538.6 L1412.1,538.3 L1411.1,538.1 L1410.0,537.8 L1409.0,537.6 L1408.0,537.3 L1406.9,537.0 L1405.9,536.6 L1404.9,536.3 L1403.8,535.9 L1402.8,535.5 L1401.8,535.1 L1400.7,534.7 L1399.7,534.3 L1398.7,533.8 L1397.6,533.3 L1396.6,532.8 L1395.6,532.3 L1394.5,531.7 L1393.5,531.1 L1392.5,530.5 L1391.4,529.9 L1390.4,529.2 L1389.4,528.5 L1388.3,527.8 L1387.3,527.0 L1386.3,526.2 L1385.3,525.4 L1384.2,524.5 L1383.2,523.6 L1382.2,522.7 L1381.1,521.8 L1380.1,520.8 L1379.1,519.8 L1378.0,518.7 L1377.0,517.6 L1376.0,516.5 L1374.9,515.3 L1373.9,514.1 L1372.9,512.9 L1371.8,511.6 L1370.8,510.3 L1369.8,509.0 L1368.7,507.6 L1367.7,506.2 L1366.7,504.7 L1365.6,503.2 L1364.6,501.7 L1363.6,500.1 L1362.5,498.5 L1361.5,496.9 L1360.5,495.3 L1359.4,493.6 L1358.4,491.9 L1357.4,490.1 L1356.3,488.3 L1355.3,486.5 L1354.3,484.7 L1353.3,482.8 L1352.2,480.9 L1351.2,479.0 L1350.2,477.1 L1349.1,475.2 L1348.1,473.2 L1347.1,471.2 L1346.0,469.3 L1345.0,467.3 L1344.0,465.3 L1342.9,463.2 L1341.9,461.2 L1340.9,459.2 L1339.8,457.2 L1338.8,455.2 L1337.8,453.2 L1336.7,451.2 L1335.7,449.2 L1334.7,447.2 L1333.6,445.2 L1332.6,443.3 L1331.6,441.3 L1330.5,439.4 L1329.5,437.6 L1328.5,435.7 L1327.4,433.9 L1326.4,432.1 L1325.4,430.4 L1324.3,428.7 L1323.3,427.0 L1322.3,425.4 L1321.3,423.8 L1320.2,422.3 L1319.2,420.8 L1318.2,419.4 L1317.1,418.1 L1316.1,416.8 L1315.1,415.5 L1314.0,414.4 L1313.0,413.2 L1312.0,412.2 L1310.9,411.2 L1309.9,410.3 L1308.9,409.5 L1307.8,408.7 L1306.8,408.1 L1305.8,407.4 L1304.7,406.9 L1303.7,406.5 L1302.7,406.1 L1301.6,405.8 L1300.6,405.6 L1299.6,405.4 L1298.5,405.4 L1297.5,405.4 L1296.5,405.5 L1295.4,405.7 L1294.4,405.9 L1293.4,406.2 L1292.3,406.7 L1291.3,407.1 L1290.3,407.7 L1289.2,408.3 L1288.2,409.0 L1287.2,409.8 L1286.2,410.7 L1285.1,411.6 L1284.1,412.6 L1283.1,413.6 L1282.0,414.7 L1281.0,415.9 L1280.0,417.2 L1278.9,418.5 L1277.9,419.8 L1276.9,421.2 L1275.8,422.6 L1274.8,424.1 L1273.8,425.7 L1272.7,427.3 L1271.7,428.9 L1270.7,430.6 L1269.6,432.3 L1268.6,434.0 L1267.6,435.7 L1266.5,437.5 L1265.5,439.3 L1264.5,441.2 L1263.4,443.0 L1262.4,444.9 L1261.4,446.8 L1260.3,448.6 L1259.3,450.5 L1258.3,452.4 L1257.2,454.4 L1256.2,456.3 L1255.2,458.2 L1254.2,460.1 L1253.1,462.0 L1252.1,463.9 L1251.1,465.7 L1250.0,467.6 L1249.0,469.5 L1248.0,471.3 L1246.9,473.1 L1245.9,474.9 L1244.9,476.7 L1243.8,478.5 L1242.8,480.2 L1241.8,481.9 L1240.7,483.6 L1239.7,485.2 L1238.7,486.9 L1237.6,488.5 L1236.6,490.0 L1235.6,491.6 L1234.5,493.1 L1233.5,494.5 L1232.5,496.0 L1231.4,497.4 L1230.4,498.8 L1229.4,500.1 L1228.3,501.4 L1227.3,502.7 L1226.3,503.9 L1225.2,505.1 L1224.2,506.2 L1223.2,507.4 L1222.1,508.5 L1221.1,509.5 L1220.1,510.5 L1219.1,511.5 L1218.0,512.5 L1217.0,513.4 L1216.0,514.3 L1214.9,515.1 L1213.9,516.0 L1212.9,516.8 L1211.8,517.5 L1210.8,518.3 L1209.8,519.0 L1208.7,519.6 L1207.7,520.3 L1206.7,520.9 L1205.6,521.5 L1204.6,522.0 L1203.6,522.6 L1202.5,523.1 L1201.5,523.6 L1200.5,524.0 L1199.4,524.5 L1198.4,524.9 L1197.4,525.3 L1196.3,525.7 L1195.3,526.0 L1194.3,526.4 L1193.2,526.7 L1192.2,527.0 L1191.2,527.3 L1190.1,527.6 L1189.1,527.8 L1188.1,528.0 L1187.1,528.3 L1186.0,528.5 L1185.0,528.7 L1184.0,528.9 L1182.9,529.0 L1181.9,529.2 L1180.9,529.3 L1179.8,529.5 L1178.8,529.6 L1177.8,529.7 L1176.7,529.8 L1175.7,529.9 L1174.7,530.0 L1173.6,530.1 L1172.6,530.2 L1171.6,530.3 L1170.5,530.3 L1169.5,530.4 L1168.5,530.5 L1167.4,530.5 L1166.4,530.6 L1165.4,530.6 L1164.3,530.6 L1163.3,530.7 L1162.3,530.7 L1161.2,530.7 L1160.2,530.7 L1159.2,530.8 L1158.1,530.8 L1157.1,530.8 L1156.1,530.8 L1155.0,530.8 L1154.0,530.8 L1153.0,530.8 L1152.0,530.8 L1150.9,530.8 L1149.9,530.8 L1148.9,530.8 L1147.8,530.8 L1146.8,530.8 L1145.8,530.8 L1144.7,530.8 L1143.7,530.7 L1142.7,530.7 L1141.6,530.7 L1140.6,530.7 L1139.6,530.7 L1138.5,530.7 L1137.5,530.7 L1136.5,530.6 L1135.4,530.6 L1134.4,530.6 L1133.4,530.6 L1132.3,530.6 L1131.3,530.5 L1130.3,530.5 L1129.2,530.5 L1128.2,530.5 L1127.2,530.5 L1126.1,530.4 L1125.1,530.4 L1124.1,530.4 L1123.0,530.4 L1122.0,530.4 L1121.0,530.3 L1120.0,530.3 L1118.9,530.3 L1117.9,530.3 L1116.9,530.3 L1115.8,530.2 L1114.8,530.2 L1113.8,530.2 L1112.7,530.2 L1111.7,530.2 L1110.7,530.1 L1109.6,530.1 L1108.6,530.1 L1107.6,530.1 L1106.5,530.1 L1105.5,530.0 L1104.5,530.0 L1103.4,530.0 L1102.4,530.0 L1101.4,530.0 L1100.3,529.9 L1099.3,529.9 L1098.3,529.9 L1097.2,529.9 L1096.2,529.9 L1095.2,529.8 L1094.1,529.8 L1093.1,529.8 L1092.1,529.8 L1091.0,529.8 L1090.0,529.8 L1089.0,529.7 L1087.9,529.7 L1086.9,529.7 L1085.9,529.7 L1084.9,529.7 L1083.8,529.7 L1082.8,529.7 L1081.8,529.6 L1080.7,529.6 L1079.7,529.6 L1078.7,529.6 L1077.6,529.6 L1076.6,529.6 L1075.6,529.6 L1074.5,529.6 L1073.5,529.6 L1072.5,529.6 L1071.4,529.5 L1070.4,529.5 L1069.4,529.5 L1068.3,529.5 L1067.3,529.5 L1066.3,529.5 L1065.2,529.5 L1064.2,529.5 L1063.2,529.5 L1062.1,529.5 L1061.1,529.5 L1060.1,529.5 L1059.0,529.5 L1058.0,529.5 L1057.0,529.5 L1055.9,529.5 L1054.9,529.5 L1053.9,529.5 L1052.9,529.5 L1051.8,529.5 L1050.8,529.5 L1049.8,529.5 L1048.7,529.5 L1047.7,529.5 L1046.7,529.5 L1045.6,529.5 L1044.6,529.5 L1043.6,529.5 L1042.5,529.5 L1041.5,529.5 L1040.5,529.5 L1039.4,529.5 L1038.4,529.5 L1037.4,529.5 L1036.3,529.5 L1035.3,529.5 L1034.3,529.5 L1033.2,529.5 L1032.2,529.5 L1031.2,529.5 L1030.1,529.5 L1029.1,529.5 L1028.1,529.5 L1027.0,529.5 L1026.0,529.5 L1025.0,529.5 L1023.9,529.5 L1022.9,529.5 L1021.9,529.5 L1020.8,529.5 L1019.8,529.5 L1018.8,529.6 L1017.8,529.6 L1016.7,529.6 L1015.7,529.6 L1014.7,529.6 L1013.6,529.6 L1012.6,529.6 L1011.6,529.6 L1010.5,529.6 L1009.5,529.6 L1008.5,529.6 L1007.4,529.6 L1006.4,529.6 L1005.4,529.6 L1004.3,529.6 L1003.3,529.7 L1002.3,529.7 L1001.2,529.7 L1000.2,529.7 L999.2,529.7 L998.1,529.7 L997.1,529.7 L996.1,529.7 L995.0,529.7 L994.0,529.7 L993.0,529.7 L991.9,529.7 L990.9,529.7 L989.9,529.7 L988.8,529.8 L987.8,529.8 L986.8,529.8 L985.8,529.8 L984.7,529.8 L983.7,529.8 L982.7,529.8 L981.6,529.8 L980.6,529.8 L979.6,529.8 L978.5,529.8 L977.5,529.8 L976.5,529.9 L975.4,529.9 L974.4,529.9 L973.4,529.9 L972.3,529.9 L971.3,529.9 L970.3,529.9 L969.2,529.9 L968.2,529.9 L967.2,529.9 L966.1,529.9 L965.1,529.9 L964.1,529.9 L963.0,530.0 L962.0,530.0 L961.0,530.0 L959.9,530.0 L958.9,530.0 L957.9,530.0 L956.8,530.0 L955.8,530.0 L954.8,530.0 L953.8,530.0 L952.7,530.0 L951.7,530.0 L950.7,530.1 L949.6,530.1 L948.6,530.1 L947.6,530.1 L946.5,530.1 L945.5,530.1 L944.5,530.1 L943.4,530.1 L942.4,530.1 L941.4,530.1 L940.3,530.1 L939.3,530.1 L938.3,530.2 L937.2,530.2 L936.2,530.2 L935.2,530.2 L934.1,530.2 L933.1,530.2 L932.1,530.2 L931.0,530.2 L930.0,530.2 L929.0,530.2 L927.9,530.2 L926.9,530.2 L925.9,530.3 L924.8,530.3 L923.8,530.3 L922.8,530.3 L921.7,530.3 L920.7,530.3 L919.7,530.3 L918.7,530.3 L917.6,530.3 L916.6,530.3 L915.6,530.3 L914.5,530.3 L913.5,530.4 L912.5,530.4 L911.4,530.4 L910.4,530.4 L909.4,530.4 L908.3,530.4 L907.3,530.4 L906.3,530.4 L905.2,530.4 L904.2,530.4 L903.2,530.4 L902.1,530.4 L901.1,530.5 L900.1,530.5 L899.0,530.5 L898.0,530.5 L897.0,530.5 L895.9,530.5 L894.9,530.5 L893.9,530.5 L892.8,530.5 L891.8,530.5 L890.8,530.5 L889.7,530.6 L888.7,530.6 L887.7,530.6 L886.7,530.6 L885.6,530.6 L884.6,530.6 L883.6,530.6 L882.5,530.6 L881.5,530.6 L880.5,530.6 L879.4,530.6 L878.4,530.6 L877.4,530.7 L876.3,530.7 L875.3,530.7 L874.3,530.7 L873.2,530.7 L872.2,530.7 L871.2,530.7 L870.1,530.7 L869.1,530.7 L868.1,530.7 L867.0,530.7 L866.0,530.7 L865.0,530.8 L863.9,530.8 L862.9,530.8 L861.9,530.8 L860.8,530.8 L859.8,530.8 L858.8,530.8 L857.7,530.8 L856.7,530.8 L855.7,530.8 L854.6,530.8 L853.6,530.8 L852.6,530.9 L851.6,530.9 L850.5,530.9 L849.5,530.9 L848.5,530.9 L847.4,530.9 L846.4,530.9 L845.4,530.9 L844.3,530.9 L843.3,530.9 L842.3,530.9 L841.2,530.9 L840.2,531.0 L839.2,531.0 L838.1,531.0 L837.1,531.0 L836.1,531.0 L835.0,531.0 L834.0,531.0 L833.0,531.0 L831.9,531.0 L830.9,531.0 L829.9,531.0 L828.8,531.1 L827.8,531.1 L826.8,531.1 L825.7,531.1 L824.7,531.1 L823.7,531.1 L822.6,531.1 L821.6,531.1 L820.6,531.1 L819.6,531.1 L818.5,531.1 L817.5,531.1 L816.5,531.2 L815.4,531.2 L814.4,531.2 L813.4,531.2 L812.3,531.2 L811.3,531.2 L810.3,531.2Z" fill="#0000ff"/>
<path d="M810.3,531.1 L811.3,531.0 L812.3,531.0 L813.4,531.0 L814.4,531.0 L815.4,531.0 L816.5,531.0 L817.5,531.0 L818.5,531.0 L819.6,531.0 L820.6,531.0 L821.6,530.9 L822.6,530.9 L823.7,530.9 L824.7,530.9 L825.7,530.9 L826.8,530.9 L827.8,530.9 L828.8,530.9 L829.9,530.9 L830.9,530.9 L831.9,530.8 L833.0,530.8 L834.0,530.8 L835.0,530.8 L836.1,530.8 L837.1,530.8 L838.1,530.8 L839.2,530.8 L840.2,530.8 L841.2,530.8 L842.3,530.7 L843.3,530.7 L844.3,530.7 L845.4,530.7 L846.4,530.7 L847.4,530.7 L848.5,530.7 L849.5,530.7 L850.5,530.7 L851.6,530.7 L852.6,530.6 L853.6,530.6 L854.6,530.6 L855.7,530.6 L856.7,530.6 L857.7,530.6 L858.8,530.6 L859.8,530.6 L860.8,530.6 L861.9,530.6 L862.9,530.5 L863.9,530.5 L865.0,530.5 L866.0,530.5 L867.0,530.5 L868.1,530.5 L869.1,530.5 L870.1,530.5 L871.2,530.5 L872.2,530.5 L873.2,530.4 L874.3,530.4 L875.3,530.4 L876.3,530.4 L877.4,530.4 L878.4,530.4 L879.4,530.4 L880.5,530.4 L881.5,530.4 L882.5,530.3 L883.6,530.3 L884.6,530.3 L885.6,530.3 L886.7,530.3 L887.7,530.3 L888.7,530.3 L889.7,530.3 L890.8,530.3 L891.8,530.2 L892.8,530.2 L893.9,530.2 L894.9,530.2 L895.9,530.2 L897.0,530.2 L898.0,530.2 L899.0,530.2 L900.1,530.2 L901.1,530.1 L902.1,530.1 L903.2,530.1 L904.2,530.1 L905.2,530.1 L906.3,530.1 L907.3,530.1 L908.3,530.1 L909.4,530.1 L910.4,530.0 L911.4,530.0 L912.5,530.0 L913.5,530.0 L914.5,530.0 L915.6,530.0 L916.6,530.0 L917.6,530.0 L918.7,529.9 L919.7,529.9 L920.7,529.9 L921.7,529.9 L922.8,529.9 L923.8,529.9 L924.8,529.9 L925.9,529.9 L926.9,529.8 L927.9,529.8 L929.0,529.8 L930.0,529.8 L931.0,529.8 L932.1,529.8 L933.1,529.8 L934.1,529.8 L935.2,529.7 L936.2,529.7 L937.2,529.7 L938.3,529.7 L939.3,529.7 L940.3,529.7 L941.4,529.7 L942.4,529.6 L943.4,529.6 L944.5,529.6 L945.5,529.6 L946.5,529.6 L947.6,529.6 L948.6,529.6 L949.6,529.5 L950.7,529.5 L951.7,529.5 L952.7,529.5 L953.8,529.5 L954.8,529.5 L955.8,529.4 L956.8,529.4 L957.9,529.4 L958.9,529.4 L959.9,529.4 L961.0,529.3 L962.0,529.3 L963.0,529.3 L964.1,529.3 L965.1,529.3 L966.1,529.2 L967.2,529.2 L968.2,529.2 L969.2,529.2 L970.3,529.2 L971.3,529.1 L972.3,529.1 L973.4,529.1 L974.4,529.1 L975.4,529.0 L976.5,529.0 L977.5,529.0 L978.5,528.9 L979.6,528.9 L980.6,528.9 L981.6,528.8 L982.7,528.8 L983.7,528.8 L984.7,528.7 L985.8,528.7 L986.8,528.6 L987.8,528.6 L988.8,528.5 L989.9,528.5 L990.9,528.4 L991.9,528.4 L993.0,528.3 L994.0,528.3 L995.0,528.2 L996.1,528.1 L997.1,528.1 L998.1,528.0 L999.2,527.9 L1000.2,527.9 L1001.2,527.8 L1002.3,527.7 L1003.3,527.6 L1004.3,527.5 L1005.4,527.4 L1006.4,527.3 L1007.4,527.2 L1008.5,527.1 L1009.5,527.0 L1010.5,526.9 L1011.6,526.7 L1012.6,526.6 L1013.6,526.5 L1014.7,526.3 L1015.7,526.2 L1016.7,526.0 L1017.8,525.9 L1018.8,525.7 L1019.8,525.5 L1020.8,525.3 L1021.9,525.1 L1022.9,524.9 L1023.9,524.7 L1025.0,524.5 L1026.0,524.3 L1027.0,524.1 L1028.1,523.8 L1029.1,523.6 L1030.1,523.3 L1031.2,523.1 L1032.2,522.8 L1033.2,522.5 L1034.3,522.2 L1035.3,521.9 L1036.3,521.6 L1037.4,521.3 L1038.4,521.0 L1039.4,520.6 L1040.5,520.3 L1041.5,519.9 L1042.5,519.6 L1043.6,519.2 L1044.6,518.8 L1045.6,518.4 L1046.7,518.0 L1047.7,517.6 L1048.7,517.2 L1049.8,516.8 L1050.8,516.3 L1051.8,515.9 L1052.9,515.4 L1053.9,515.0 L1054.9,514.5 L1055.9,514.0 L1057.0,513.6 L1058.0,513.1 L1059.0,512.6 L1060.1,512.1 L1061.1,511.6 L1062.1,511.1 L1063.2,510.6 L1064.2,510.1 L1065.2,509.6 L1066.3,509.0 L1067.3,508.5 L1068.3,508.0 L1069.4,507.5 L1070.4,507.0 L1071.4,506.4 L1072.5,505.9 L1073.5,505.4 L1074.5,504.9 L1075.6,504.4 L1076.6,503.9 L1077.6,503.4 L1078.7,502.9 L1079.7,502.4 L1080.7,502.0 L1081.8,501.5 L1082.8,501.0 L1083.8,500.6 L1084.9,500.2 L1085.9,499.8 L1086.9,499.3 L1087.9,499.0 L1089.0,498.6 L1090.0,498.2 L1091.0,497.9 L1092.1,497.6 L1093.1,497.2 L1094.1,497.0 L1095.2,496.7 L1096.2,496.5 L1097.2,496.2 L1098.3,496.0 L1099.3,495.8 L1100.3,495.7 L1101.4,495.6 L1102.4,495.5 L1103.4,495.4 L1104.5,495.3 L1105.5,495.3 L1106.5,495.3 L1107.6,495.3 L1108.6,495.3 L1109.6,495.4 L1110.7,495.5 L1111.7,495.6 L1112.7,495.7 L1113.8,495.9 L1114.8,496.1 L1115.8,496.3 L1116.9,496.6 L1117.9,496.8 L1118.9,497.1 L1120.0,497.4 L1121.0,497.7 L1122.0,498.0 L1123.0,498.4 L1124.1,498.8 L1125.1,499.2 L1126.1,499.6 L1127.2,500.0 L1128.2,500.4 L1129.2,500.9 L1130.3,501.4 L1131.3,501.8 L1132.3,502.3 L1133.4,502.8 L1134.4,503.3 L1135.4,503.8 L1136.5,504.4 L1137.5,504.9 L1138.5,505.4 L1139.6,506.0 L1140.6,506.5 L1141.6,507.1 L1142.7,507.6 L1143.7,508.2 L1144.7,508.7 L1145.8,509.3 L1146.8,509.8 L1147.8,510.4 L1148.9,510.9 L1149.9,511.5 L1150.9,512.0 L1152.0,512.5 L1153.0,513.1 L1154.0,513.6 L1155.0,514.1 L1156.1,514.7 L1157.1,515.2 L1158.1,515.7 L1159.2,516.2 L1160.2,516.7 L1161.2,517.2 L1162.3,517.7 L1163.3,518.1 L1164.3,518.6 L1165.4,519.1 L1166.4,519.5 L1167.4,520.0 L1168.5,520.4 L1169.5,520.8 L1170.5,521.2 L1171.6,521.6 L1172.6,522.0 L1173.6,522.4 L1174.7,522.8 L1175.7,523.2 L1176.7,523.5 L1177.8,523.9 L1178.8,524.2 L1179.8,524.5 L1180.9,524.8 L1181.9,525.2 L1182.9,525.5 L1184.0,525.8 L1185.0,526.0 L1186.0,526.3 L1187.1,526.6 L1188.1,526.8 L1189.1,527.1 L1190.1,527.3 L1191.2,527.6 L1192.2,527.8 L1193.2,528.0 L1194.3,528.2 L1195.3,528.4 L1196.3,528.6 L1197.4,528.8 L1198.4,529.0 L1199.4,529.2 L1200.5,529.4 L1201.5,529.5 L1202.5,529.7 L1203.6,529.8 L1204.6,530.0 L1205.6,530.1 L1206.7,530.3 L1207.7,530.4 L1208.7,530.5 L1209.8,530.7 L1210.8,530.8 L1211.8,530.9 L1212.9,531.0 L1213.9,531.1 L1214.9,531.2 L1216.0,531.3 L1217.0,531.4 L1218.0,531.5 L1219.1,531.6 L1220.1,531.7 L1221.1,531.8 L1222.1,531.9 L1223.2,532.0 L1224.2,532.1 L1225.2,532.2 L1226.3,532.2 L1227.3,532.3 L1228.3,532.4 L1229.4,532.5 L1230.4,532.5 L1231.4,532.6 L1232.5,532.7 L1233.5,532.7 L1234.5,532.8 L1235.6,532.9 L1236.6,532.9 L1237.6,533.0 L1238.7,533.1 L1239.7,533.1 L1240.7,533.2 L1241.8,533.3 L1242.8,533.3 L1243.8,533.4 L1244.9,533.5 L1245.9,533.5 L1246.9,533.6 L1248.0,533.7 L1249.0,533.7 L1250.0,533.8 L1251.1,533.9 L1252.1,533.9 L1253.1,534.0 L1254.2,534.1 L1255.2,534.1 L1256.2,534.2 L1257.2,534.3 L1258.3,534.3 L1259.3,534.4 L1260.3,534.5 L1261.4,534.6 L1262.4,534.6 L1263.4,534.7 L1264.5,534.8 L1265.5,534.9 L1266.5,534.9 L1267.6,535.0 L1268.6,535.1 L1269.6,535.2 L1270.7,535.2 L1271.7,535.3 L1272.7,535.4 L1273.8,535.5 L1274.8,535.6 L1275.8,535.7 L1276.9,535.7 L1277.9,535.8 L1278.9,535.9 L1280.0,536.0 L1281.0,536.1 L1282.0,536.2 L1283.1,536.3 L1284.1,536.3 L1285.1,536.4 L1286.2,536.5 L1287.2,536.6 L1288.2,536.7 L1289.2,536.8 L1290.3,536.9 L1291.3,537.0 L1292.3,537.1 L1293.4,537.2 L1294.4,537.3 L1295.4,537.4 L1296.5,537.4 L1297.5,537.5 L1298.5,537.6 L1299.6,537.7 L1300.6,537.8 L1301.6,537.9 L1302.7,538.0 L1303.7,538.1 L1304.7,538.2 L1305.8,538.3 L1306.8,538.4 L1307.8,538.5 L1308.9,538.5 L1309.9,538.6 L1310.9,538.7 L1312.0,538.8 L1313.0,538.9 L1314.0,539.0 L1315.1,539.1 L1316.1,539.2 L1317.1,539.2 L1318.2,539.3 L1319.2,539.4 L1320.2,539.5 L1321.3,539.6 L1322.3,539.6 L1323.3,539.7 L1324.3,539.8 L1325.4,539.9 L1326.4,539.9 L1327.4,540.0 L1328.5,540.1 L1329.5,540.2 L1330.5,540.2 L1331.6,540.3 L1332.6,540.4 L1333.6,540.4 L1334.7,540.5 L1335.7,540.5 L1336.7,540.6 L1337.8,540.7 L1338.8,540.7 L1339.8,540.8 L1340.9,540.8 L1341.9,540.9 L1342.9,540.9 L1344.0,541.0 L1345.0,541.0 L1346.0,541.1 L1347.1,541.1 L1348.1,541.2 L1349.1,541.2 L1350.2,541.3 L1351.2,541.3 L1352.2,541.3 L1353.3,541.4 L1354.3,541.4 L1355.3,541.4 L1356.3,541.5 L1357.4,541.5 L1358.4,541.5 L1359.4,541.6 L1360.5,541.6 L1361.5,541.6 L1362.5,541.6 L1363.6,541.7 L1364.6,541.7 L1365.6,541.7 L1366.7,541.7 L1367.7,541.8 L1368.7,541.8 L1369.8,541.8 L1370.8,541.8 L1371.8,541.8 L1372.9,541.8 L1373.9,541.9 L1374.9,541.9 L1376.0,541.9 L1377.0,541.9 L1378.0,541.9 L1379.1,541.9 L1380.1,541.9 L1381.1,541.9 L1382.2,541.9 L1383.2,541.9 L1384.2,542.0 L1385.3,542.0 L1386.3,542.0 L1387.3,542.0 L1388.3,542.0 L1389.4,542.0 L1390.4,542.0 L1391.4,542.0 L1392.5,542.0 L1393.5,542.0 L1394.5,542.0 L1395.6,542.0 L1396.6,542.0 L1397.6,542.0 L1398.7,542.0 L1399.7,542.0 L1400.7,542.0 L1401.8,542.0 L1402.8,542.0 L1403.8,542.0 L1404.9,542.0 L1405.9,542.0 L1406.9,542.0 L1408.0,542.0 L1409.0,542.0 L1410.0,541.9 L1411.1,541.9 L1412.1,541.9 L1413.1,541.9 L1414.2,541.9 L1415.2,541.9 L1416.2,541.9 L1417.3,541.9 L1418.3,541.9 L1419.3,541.9 L1420.4,541.9 L1421.4,541.9 L1422.4,541.9 L1423.4,541.9 L1424.5,541.9 L1425.5,541.9 L1426.5,541.9 L1427.6,541.8 L1428.6,541.8 L1429.6,541.8 L1430.7,541.8 L1431.7,541.8 L1432.7,541.8 L1433.8,541.8 L1434.8,541.8 L1435.8,541.8 L1436.9,541.8 L1437.9,541.8 L1438.9,541.8 L1440.0,541.8 L1441.0,541.8 L1442.0,541.7 L1443.1,541.7 L1444.1,541.7 L1445.1,541.7 L1446.2,541.7 L1447.2,541.7 L1448.2,541.7 L1449.3,541.7 L1450.3,541.7 L1451.3,541.7 L1452.4,541.7 L1453.4,541.7 L1454.4,541.7 L1455.4,541.6 L1456.5,541.6 L1457.5,541.6 L1458.5,541.6 L1459.6,541.6 L1460.6,541.6 L1461.6,541.6 L1462.7,541.6 L1463.7,541.6 L1464.7,541.6 L1465.8,541.6 L1466.8,541.6 L1467.8,541.6 L1468.9,541.5 L1469.9,541.5 L1470.9,541.5 L1472.0,541.5 L1473.0,541.5 L1474.0,541.5 L1475.1,541.5 L1476.1,541.5 L1477.1,541.5 L1478.2,541.5 L1479.2,541.5 L1480.2,541.5 L1481.3,541.5 L1482.3,541.4 L1483.3,541.4 L1484.4,541.4 L1485.4,541.4 L1486.4,541.4 L1487.5,541.4 L1488.5,541.4 L1489.5,541.4 L1490.5,541.4 L1491.6,541.4 L1492.6,541.4 L1493.6,541.4 L1494.7,541.3 L1495.7,541.3 L1496.7,541.3 L1497.8,541.3 L1498.8,541.3 L1499.8,541.3 L1500.9,541.3 L1501.9,541.3 L1502.9,541.3 L1504.0,541.3 L1505.0,541.3 L1506.0,541.3 L1507.1,541.2 L1508.1,541.2 L1509.1,541.2 L1510.2,541.2 L1511.2,541.2 L1512.2,541.2 L1513.3,541.2 L1514.3,541.2 L1515.3,541.2 L1516.4,541.2 L1517.4,541.2 L1518.4,541.2 L1519.5,541.1 L1520.5,541.1 L1521.5,541.1 L1522.5,541.1 L1523.6,541.1 L1524.6,541.1 L1525.6,541.1 L1526.7,541.1 L1527.7,541.1 L1528.7,541.1 L1529.8,541.1 L1530.8,541.1 L1531.8,541.1 L1531.8,541.1 L1530.8,541.1 L1529.8,541.1 L1528.7,541.2 L1527.7,541.2 L1526.7,541.2 L1525.6,541.2 L1524.6,541.2 L1523.6,541.2 L1522.5,541.2 L1521.5,541.2 L1520.5,541.2 L1519.5,541.2 L1518.4,541.2 L1517.4,541.2 L1516.4,541.3 L1515.3,541.3 L1514.3,541.3 L1513.3,541.3 L1512.2,541.3 L1511.2,541.3 L1510.2,541.3 L1509.1,541.3 L1508.1,541.3 L1507.1,541.3 L1506.0,541.3 L1505.0,541.4 L1504.0,541.4 L1502.9,541.4 L1501.9,541.4 L1500.9,541.4 L1499.8,541.4 L1498.8,541.4 L1497.8,541.4 L1496.7,541.4 L1495.7,541.4 L1494.7,541.4 L1493.6,541.4 L1492.6,541.5 L1491.6,541.5 L1490.5,541.5 L1489.5,541.5 L1488.5,541.5 L1487.5,541.5 L1486.4,541.5 L1485.4,541.5 L1484.4,541.5 L1483.3,541.5 L1482.3,541.5 L1481.3,541.5 L1480.2,541.6 L1479.2,541.6 L1478.2,541.6 L1477.1,541.6 L1476.1,541.6 L1475.1,541.6 L1474.0,541.6 L1473.0,541.6 L1472.0,541.6 L1470.9,541.6 L1469.9,541.6 L1468.9,541.7 L1467.8,541.7 L1466.8,541.7 L1465.8,541.7 L1464.7,541.7 L1463.7,541.7 L1462.7,541.7 L1461.6,541.7 L1460.6,541.7 L1459.6,541.7 L1458.5,541.7 L1457.5,541.7 L1456.5,541.8 L1455.4,541.8 L1454.4,541.8 L1453.4,541.8 L1452.4,541.8 L1451.3,541.8 L1450.3,541.8 L1449.3,541.8 L1448.2,541.8 L1447.2,541.8 L1446.2,541.8 L1445.1,541.8 L1444.1,541.9 L1443.1,541.9 L1442.0,541.9 L1441.0,541.9 L1440.0,541.9 L1438.9,541.9 L1437.9,541.9 L1436.9,541.9 L1435.8,541.9 L1434.8,541.9 L1433.8,541.9 L1432.7,541.9 L1431.7,542.0 L1430.7,542.0 L1429.6,542.0 L1428.6,542.0 L1427.6,542.0 L1426.5,542.0 L1425.5,542.0 L1424.5,542.0 L1423.4,542.0 L1422.4,542.0 L1421.4,542.0 L1420.4,542.0 L1419.3,542.0 L1418.3,542.0 L1417.3,542.1 L1416.2,542.1 L1415.2,542.1 L1414.2,542.1 L1413.1,542.1 L1412.1,542.1 L1411.1,542.1 L1410.0,542.1 L1409.0,542.1 L1408.0,542.1 L1406.9,542.1 L1405.9,542.1 L1404.9,542.1 L1403.8,542.1 L1402.8,542.1 L1401.8,542.1 L1400.7,542.1 L1399.7,542.1 L1398.7,542.1 L1397.6,542.1 L1396.6,542.1 L1395.6,542.1 L1394.5,542.1 L1393.5,542.1 L1392.5,542.1 L1391.4,542.1 L1390.4,542.1 L1389.4,542.1 L1388.3,542.1 L1387.3,542.1 L1386.3,542.1 L1385.3,542.1 L1384.2,542.1 L1383.2,542.1 L1382.2,542.1 L1381.1,542.1 L1380.1,542.1 L1379.1,542.1 L1378.0,542.1 L1377.0,542.1 L1376.0,542.1 L1374.9,542.1 L1373.9,542.0 L1372.9,542.0 L1371.8,542.0 L1370.8,542.0 L1369.8,542.0 L1368.7,542.0 L1367.7,541.9 L1366.7,541.9 L1365.6,541.9 L1364.6,541.9 L1363.6,541.9 L1362.5,541.8 L1361.5,541.8 L1360.5,541.8 L1359.4,541.8 L1358.4,541.7 L1357.4,541.7 L1356.3,541.7 L1355.3,541.6 L1354.3,541.6 L1353.3,541.6 L1352.2,541.5 L1351.2,541.5 L1350.2,541.4 L1349.1,541.4 L1348.1,541.3 L1347.1,541.3 L1346.0,541.2 L1345.0,541.2 L1344.0,541.1 L1342.9,541.1 L1341.9,541.0 L1340.9,541.0 L1339.8,540.9 L1338.8,540.8 L1337.8,540.8 L1336.7,540.7 L1335.7,540.6 L1334.7,540.6 L1333.6,540.5 L1332.6,540.4 L1331.6,540.3 L1330.5,540.3 L1329.5,540.2 L1328.5,540.1 L1327.4,540.0 L1326.4,539.9 L1325.4,539.8 L1324.3,539.7 L1323.3,539.6 L1322.3,539.5 L1321.3,539.4 L1320.2,539.3 L1319.2,539.1 L1318.2,539.0 L1317.1,538.9 L1316.1,538.8 L1315.1,538.6 L1314.0,538.5 L1313.0,538.4 L1312.0,538.2 L1310.9,538.1 L1309.9,537.9 L1308.9,537.7 L1307.8,537.6 L1306.8,537.4 L1305.8,537.2 L1304.7,537.1 L1303.7,536.9 L1302.7,536.7 L1301.6,536.5 L1300.6,536.3 L1299.6,536.1 L1298.5,535.9 L1297.5,535.6 L1296.5,535.4 L1295.4,535.2 L1294.4,534.9 L1293.4,534.7 L1292.3,534.4 L1291.3,534.2 L1290.3,533.9 L1289.2,533.6 L1288.2,533.3 L1287.2,533.0 L1286.2,532.7 L1285.1,532.4 L1284.1,532.0 L1283.1,531.7 L1282.0,531.4 L1281.0,531.0 L1280.0,530.6 L1278.9,530.3 L1277.9,529.9 L1276.9,529.5 L1275.8,529.1 L1274.8,528.6 L1273.8,528.2 L1272.7,527.8 L1271.7,527.3 L1270.7,526.8 L1269.6,526.4 L1268.6,525.9 L1267.6,525.4 L1266.5,524.8 L1265.5,524.3 L1264.5,523.8 L1263.4,523.2 L1262.4,522.7 L1261.4,522.1 L1260.3,521.5 L1259.3,520.9 L1258.3,520.3 L1257.2,519.7 L1256.2,519.1 L1255.2,518.4 L1254.2,517.8 L1253.1,517.1 L1252.1,516.5 L1251.1,515.8 L1250.0,515.1 L1249.0,514.4 L1248.0,513.7 L1246.9,513.0 L1245.9,512.3 L1244.9,511.5 L1243.8,510.8 L1242.8,510.1 L1241.8,509.3 L1240.7,508.6 L1239.7,507.8 L1238.7,507.1 L1237.6,506.3 L1236.6,505.6 L1235.6,504.8 L1234.5,504.1 L1233.5,503.3 L1232.5,502.6 L1231.4,501.8 L1230.4,501.1 L1229.4,500.3 L1228.3,499.6 L1227.3,498.9 L1226.3,498.2 L1225.2,497.5 L1224.2,496.8 L1223.2,496.1 L1222.1,495.4 L1221.1,494.7 L1220.1,494.1 L1219.1,493.4 L1218.0,492.8 L1217.0,492.2 L1216.0,491.6 L1214.9,491.1 L1213.9,490.5 L1212.9,490.0 L1211.8,489.5 L1210.8,489.0 L1209.8,488.5 L1208.7,488.0 L1207.7,487.6 L1206.7,487.2 L1205.6,486.8 L1204.6,486.5 L1203.6,486.2 L1202.5,485.9 L1201.5,485.6 L1200.5,485.4 L1199.4,485.1 L1198.4,485.0 L1197.4,484.8 L1196.3,484.7 L1195.3,484.6 L1194.3,484.5 L1193.2,484.4 L1192.2,484.4 L1191.2,484.4 L1190.1,484.5 L1189.1,484.6 L1188.1,484.7 L1187.1,484.8 L1186.0,484.9 L1185.0,485.1 L1184.0,485.3 L1182.9,485.6 L1181.9,485.8 L1180.9,486.1 L1179.8,486.4 L1178.8,486.8 L1177.8,487.1 L1176.7,487.5 L1175.7,487.9 L1174.7,488.3 L1173.6,488.8 L1172.6,489.3 L1171.6,489.7 L1170.5,490.3 L1169.5,490.8 L1168.5,491.3 L1167.4,491.9 L1166.4,492.5 L1165.4,493.0 L1164.3,493.6 L1163.3,494.3 L1162.3,494.9 L1161.2,495.5 L1160.2,496.2 L1159.2,496.8 L1158.1,497.5 L1157.1,498.1 L1156.1,498.8 L1155.0,499.5 L1154.0,500.2 L1153.0,500.8 L1152.0,501.5 L1150.9,502.2 L1149.9,502.9 L1148.9,503.6 L1147.8,504.3 L1146.8,504.9 L1145.8,505.6 L1144.7,506.3 L1143.7,507.0 L1142.7,507.6 L1141.6,508.3 L1140.6,508.9 L1139.6,509.6 L1138.5,510.2 L1137.5,510.8 L1136.5,511.4 L1135.4,512.0 L1134.4,512.6 L1133.4,513.2 L1132.3,513.8 L1131.3,514.4 L1130.3,514.9 L1129.2,515.5 L1128.2,516.0 L1127.2,516.5 L1126.1,517.0 L1125.1,517.5 L1124.1,518.0 L1123.0,518.5 L1122.0,518.9 L1121.0,519.4 L1120.0,519.8 L1118.9,520.2 L1117.9,520.6 L1116.9,521.0 L1115.8,521.4 L1114.8,521.8 L1113.8,522.1 L1112.7,522.5 L1111.7,522.8 L1110.7,523.1 L1109.6,523.4 L1108.6,523.7 L1107.6,524.0 L1106.5,524.3 L1105.5,524.6 L1104.5,524.8 L1103.4,525.1 L1102.4,525.3 L1101.4,525.5 L1100.3,525.7 L1099.3,525.9 L1098.3,526.1 L1097.2,526.3 L1096.2,526.5 L1095.2,526.7 L1094.1,526.8 L1093.1,527.0 L1092.1,527.1 L1091.0,527.3 L1090.0,527.4 L1089.0,527.5 L1087.9,527.6 L1086.9,527.7 L1085.9,527.8 L1084.9,527.9 L1083.8,528.0 L1082.8,528.1 L1081.8,528.2 L1080.7,528.3 L1079.7,528.4 L1078.7,528.4 L1077.6,528.5 L1076.6,528.6 L1075.6,528.6 L1074.5,528.7 L1073.5,528.7 L1072.5,528.8 L1071.4,528.8 L1070.4,528.9 L1069.4,528.9 L1068.3,528.9 L1067.3,529.0 L1066.3,529.0 L1065.2,529.0 L1064.2,529.1 L1063.2,529.1 L1062.1,529.1 L1061.1,529.1 L1060.1,529.2 L1059.0,529.2 L1058.0,529.2 L1057.0,529.2 L1055.9,529.2 L1054.9,529.2 L1053.9,529.3 L1052.9,529.3 L1051.8,529.3 L1050.8,529.3 L1049.8,529.3 L1048.7,529.3 L1047.7,529.3 L1046.7,529.3 L1045.6,529.4 L1044.6,529.4 L1043.6,529.4 L1042.5,529.4 L1041.5,529.4 L1040.5,529.4 L1039.4,529.4 L1038.4,529.4 L1037.4,529.4 L1036.3,529.4 L1035.3,529.4 L1034.3,529.4 L1033.2,529.4 L1032.2,529.5 L1031.2,529.5 L1030.1,529.5 L1029.1,529.5 L1028.1,529.5 L1027.0,529.5 L1026.0,529.5 L1025.0,529.5 L1023.9,529.5 L1022.9,529.5 L1021.9,529.5 L1020.8,529.5 L1019.8,529.5 L1018.8,529.5 L1017.8,529.5 L1016.7,529.6 L1015.7,529.6 L1014.7,529.6 L1013.6,529.6 L1012.6,529.6 L1011.6,529.6 L1010.5,529.6 L1009.5,529.6 L1008.5,529.6 L1007.4,529.6 L1006.4,529.6 L1005.4,529.6 L1004.3,529.6 L1003.3,529.6 L1002.3,529.7 L1001.2,529.7 L1000.2,529.7 L999.2,529.7 L998.1,529.7 L997.1,529.7 L996.1,529.7 L995.0,529.7 L994.0,529.7 L993.0,529.7 L991.9,529.7 L990.9,529.7 L989.9,529.7 L988.8,529.8 L987.8,529.8 L986.8,529.8 L985.8,529.8 L984.7,529.8 L983.7,529.8 L982.7,529.8 L981.6,529.8 L980.6,529.8 L979.6,529.8 L978.5,529.8 L977.5,529.8 L976.5,529.9 L975.4,529.9 L974.4,529.9 L973.4,529.9 L972.3,529.9 L971.3,529.9 L970.3,529.9 L969.2,529.9 L968.2,529.9 L967.2,529.9 L966.1,529.9 L965.1,529.9 L964.1,529.9 L963.0,530.0 L962.0,530.0 L961.0,530.0 L959.9,530.0 L958.9,530.0 L957.9,530.0 L956.8,530.0 L955.8,530.0 L954.8,530.0 L953.8,530.0 L952.7,530.0 L951.7,530.0 L950.7,530.1 L949.6,530.1 L948.6,530.1 L947.6,530.1 L946.5,530.1 L945.5,530.1 L944.5,530.1 L943.4,530.1 L942.4,530.1 L941.4,530.1 L940.3,530.1 L939.3,530.1 L938.3,530.2 L937.2,530.2 L936.2,530.2 L935.2,530.2 L934.1,530.2 L933.1,530.2 L932.1,530.2 L931.0,530.2 L930.0,530.2 L929.0,530.2 L927.9,530.2 L926.9,530.2 L925.9,530.3 L924.8,530.3 L923.8,530.3 L922.8,530.3 L921.7,530.3 L920.7,530.3 L919.7,530.3 L918.7,530.3 L917.6,530.3 L916.6,530.3 L915.6,530.3 L914.5,530.3 L913.5,530.4 L912.5,530.4 L911.4,530.4 L910.4,530.4 L909.4,530.4 L908.3,530.4 L907.3,530.4 L906.3,530.4 L905.2,530.4 L904.2,530.4 L903.2,530.4 L902.1,530.4 L901.1,530.5 L900.1,530.5 L899.0,530.5 L898.0,530.5 L897.0,530.5 L895.9,530.5 L894.9,530.5 L893.9,530.5 L892.8,530.5 L891.8,530.5 L890.8,530.5 L889.7,530.5 L888.7,530.6 L887.7,530.6 L886.7,530.6 L885.6,530.6 L884.6,530.6 L883.6,530.6 L882.5,530.6 L881.5,530.6 L880.5,530.6 L879.4,530.6 L878.4,530.6 L877.4,530.7 L876.3,530.7 L875.3,530.7 L874.3,530.7 L873.2,530.7 L872.2,530.7 L871.2,530.7 L870.1,530.7 L869.1,530.7 L868.1,530.7 L867.0,530.7 L866.0,530.7 L865.0,530.8 L863.9,530.8 L862.9,530.8 L861.9,530.8 L860.8,530.8 L859.8,530.8 L858.8,530.8 L857.7,530.8 L856.7,530.8 L855.7,530.8 L854.6,530.8 L853.6,530.8 L852.6,530.9 L851.6,530.9 L850.5,530.9 L849.5,530.9 L848.5,530.9 L847.4,530.9 L846.4,530.9 L845.4,530.9 L844.3,530.9 L843.3,530.9 L842.3,530.9 L841.2,530.9 L840.2,531.0 L839.2,531.0 L838.1,531.0 L837.1,531.0 L836.1,531.0 L835.0,531.0 L834.0,531.0 L833.0,531.0 L831.9,531.0 L830.9,531.0 L829.9,531.0 L828.8,531.1 L827.8,531.1 L826.8,531.1 L825.7,531.1 L824.7,531.1 L823.7,531.1 L822.6,531.1 L821.6,531.1 L820.6,531.1 L819.6,531.1 L818.5,531.1 L817.5,531.1 L816.5,531.2 L815.4,531.2 L814.4,531.2 L813.4,531.2 L812.3,531.2 L811.3,531.2 L810.3,531.2Z" fill="#008000"/>
<path d="M958.9,529.4L959.9,529.4L961.0,529.3L962.0,529.3L963.0,529.3L964.1,529.3L965.1,529.3L966.1,529.2L967.2,529.2L968.2,529.2L969.2,529.2L970.3,529.2L971.3,529.1L972.3,529.1L973.4,529.1L974.4,529.1L975.4,529.0L976.5,529.0L977.5,529.0L978.5,528.9L979.6,528.9L980.6,528.9L981.6,528.8L982.7,528.8L983.7,528.8L984.7,528.7L985.8,528.7L986.8,528.6L987.8,528.6L988.8,528.5L989.9,528.5L990.9,528.4L991.9,528.4L993.0,528.3L994.0,528.3L995.0,528.2L996.1,528.1L997.1,528.1L998.1,528.0L999.2,527.9L1000.2,527.9L1001.2,527.8L1002.3,527.7L1003.3,527.6L1004.3,527.5L1005.4,527.4L1006.4,527.3L1007.4,527.2L1008.5,527.1L1009.5,527.0L1010.5,526.9L1011.6,526.7L1012.6,526.6L1013.6,526.5L1014.7,526.3L1015.7,526.2L1016.7,526.0L1017.8,525.9L1018.8,525.7L1019.8,525.5L1020.8,525.3L1021.9,525.1L1022.9,524.9L1023.9,524.7L1025.0,524.5L1026.0,524.3L1027.0,524.1L1028.1,523.8L1029.1,523.6L1030.1,523.3L1031.2,523.1L1032.2,522.8L1033.2,522.5L1034.3,522.2L1035.3,521.9L1036.3,521.6L1037.4,521.3L1038.4,521.0L1039.4,520.6L1040.5,520.3L1041.5,519.9L1042.5,519.6L1043.6,519.2L1044.6,518.8L1045.6,518.4L1046.7,518.0L1047.7,517.6L1048.7,517.2L1049.8,516.8L1050.8,516.3L1051.8,515.9L1052.9,515.4L1053.9,515.0L1054.9,514.5L1055.9,514.0L1057.0,513.6L1058.0,513.1L1059.0,512.6L1060.1,512.1L1061.1,511.6L1062.1,511.1L1063.2,510.6L1064.2,510.1L1065.2,509.6L1066.3,509.0L1067.3,508.5L1068.3,508.0L1069.4,507.5L1070.4,507.0L1071.4,506.4L1072.5,505.9L1073.5,505.4L1074.5,504.9L1075.6,504.4L1076.6,503.9L1077.6,503.4L1078.7,502.9L1079.7,502.4L1080.7,502.0L1081.8,501.5L1082.8,501.0L1083.8,500.6L1084.9,500.2L1085.9,499.8L1086.9,499.3L1087.9,499.0L1089.0,498.6L1090.0,498.2L1091.0,497.9L1092.1,497.6L1093.1,497.2L1094.1,497.0L1095.2,496.7L1096.2,496.5L1097.2,496.2L1098.3,496.0L1099.3,495.8L1100.3,495.7L1101.4,495.6L1102.4,495.5L1103.4,495.4L1104.5,495.3L1105.5,495.3L1106.5,495.3L1107.6,495.3L1108.6,495.3L1109.6,495.4L1110.7,495.5L1111.7,495.6L1112.7,495.7L1113.8,495.9L1114.8,496.1L1115.8,496.3L1116.9,496.6L1117.9,496.8L1118.9,497.1L1120.0,497.4L1121.0,497.7L1122.0,498.0L1123.0,498.4L1124.1,498.8L1125.1,499.2L1126.1,499.6L1127.2,500.0L1128.2,500.4L1129.2,500.9L1130.3,501.4L1131.3,501.8L1132.3,502.3L1133.4,502.8L1134.4,503.3L1135.4,503.8L1136.5,504.4L1137.5,504.9L1138.5,505.4L1139.6,506.0L1140.6,506.5L1141.6,507.1L1142.7,507.6L1143.7,508.2L1144.7,508.7L1145.8,509.3L1146.8,509.8L1147.8,510.4L1148.9,510.9L1149.9,511.5L1150.9,512.0L1152.0,512.5L1153.0,513.1L1154.0,513.6L1155.0,514.1L1156.1,514.7L1157.1,515.2L1158.1,515.7L1159.2,516.2L1160.2,516.7L1161.2,517.2L1162.3,517.7L1163.3,518.1L1164.3,518.6L1165.4,519.1L1166.4,519.5L1167.4,520.0L1168.5,520.4L1169.5,520.8L1170.5,521.2L1171.6,521.6L1172.6,522.0L1173.6,522.4L1174.7,522.8L1175.7,523.2L1176.7,523.5L1177.8,523.9L1178.8,524.2L1179.8,524.5L1180.9,524.8L1181.9,525.2L1182.9,525.5L1184.0,525.8L1185.0,526.0L1186.0,526.3L1187.1,526.6L1188.1,526.8L1189.1,527.1L1190.1,527.3L1191.2,527.6L1192.2,527.8L1193.2,528.0L1194.3,528.2L1195.3,528.4L1196.3,528.6L1197.4,528.8L1198.4,529.0L1199.4,529.2L1200.5,529.4L1201.5,529.5L1202.5,529.7L1203.6,529.8L1204.6,530.0L1205.6,530.1L1206.7,530.3L1207.7,530.4L1208.7,530.5L1209.8,530.7L1210.8,530.8L1211.8,530.9L1212.9,531.0L1213.9,531.1L1214.9,531.2L1216.0,531.3L1217.0,531.4L1218.0,531.5L1219.1,531.6L1220.1,531.7L1221.1,531.8L1222.1,531.9L1223.2,532.0L1224.2,532.1L1225.2,532.2L1226.3,532.2L1227.3,532.3L1228.3,532.4L1229.4,532.5L1230.4,532.5L1231.4,532.6L1232.5,532.7L1233.5,532.7L1234.5,532.8L1235.6,532.9L1236.6,532.9L1237.6,533.0L1238.7,533.1L1239.7,533.1L1240.7,533.2L1241.8,533.3L1242.8,533.3L1243.8,533.4L1244.9,533.5L1245.9,533.5L1246.9,533.6L1248.0,533.7L1249.0,533.7L1250.0,533.8L1251.1,533.9L1252.1,533.9L1253.1,534.0L1254.2,534.1L1255.2,534.1" fill="none" stroke="#8000ff" stroke-width="4.2"/>
<polyline points="810.3,531.2 811.3,531.2 812.3,531.2 813.4,531.2 814.4,531.2 815.4,531.2 816.5,531.2 817.5,531.1 818.5,531.1 819.6,531.1 820.6,531.1 821.6,531.1 822.6,531.1 823.7,531.1 824.7,531.1 825.7,531.1 826.8,531.1 827.8,531.1 828.8,531.1 829.9,531.0 830.9,531.0 831.9,531.0 833.0,531.0 834.0,531.0 835.0,531.0 836.1,531.0 837.1,531.0 838.1,531.0 839.2,531.0 840.2,531.0 841.2,530.9 842.3,530.9 843.3,530.9 844.3,530.9 845.4,530.9 846.4,530.9 847.4,530.9 848.5,530.9 849.5,530.9 850.5,530.9 851.6,530.9 852.6,530.9 853.6,530.8 854.6,530.8 855.7,530.8 856.7,530.8 857.7,530.8 858.8,530.8 859.8,530.8 860.8,530.8 861.9,530.8 862.9,530.8 863.9,530.8 865.0,530.8 866.0,530.7 867.0,530.7 868.1,530.7 869.1,530.7 870.1,530.7 871.2,530.7 872.2,530.7 873.2,530.7 874.3,530.7 875.3,530.7 876.3,530.7 877.4,530.7 878.4,530.6 879.4,530.6 880.5,530.6 881.5,530.6 882.5,530.6 883.6,530.6 884.6,530.6 885.6,530.6 886.7,530.6 887.7,530.6 888.7,530.6 889.7,530.6 890.8,530.5 891.8,530.5 892.8,530.5 893.9,530.5 894.9,530.5 895.9,530.5 897.0,530.5 898.0,530.5 899.0,530.5 900.1,530.5 901.1,530.5 902.1,530.4 903.2,530.4 904.2,530.4 905.2,530.4 906.3,530.4 907.3,530.4 908.3,530.4 909.4,530.4 910.4,530.4 911.4,530.4 912.5,530.4 913.5,530.4 914.5,530.3 915.6,530.3 916.6,530.3 917.6,530.3 918.7,530.3 919.7,530.3 920.7,530.3 921.7,530.3 922.8,530.3 923.8,530.3 924.8,530.3 925.9,530.3 926.9,530.2 927.9,530.2 929.0,530.2 930.0,530.2 931.0,530.2 932.1,530.2 933.1,530.2 934.1,530.2 935.2,530.2 936.2,530.2 937.2,530.2 938.3,530.2 939.3,530.1 940.3,530.1 941.4,530.1 942.4,530.1 943.4,530.1 944.5,530.1 945.5,530.1 946.5,530.1 947.6,530.1 948.6,530.1 949.6,530.1 950.7,530.1 951.7,530.0 952.7,530.0 953.8,530.0 954.8,530.0 955.8,530.0 956.8,530.0 957.9,530.0 958.9,530.0 959.9,530.0 961.0,530.0 962.0,530.0 963.0,530.0 964.1,529.9 965.1,529.9 966.1,529.9 967.2,529.9 968.2,529.9 969.2,529.9 970.3,529.9 971.3,529.9 972.3,529.9 973.4,529.9 974.4,529.9 975.4,529.9 976.5,529.9 977.5,529.8 978.5,529.8 979.6,529.8 980.6,529.8 981.6,529.8 982.7,529.8 983.7,529.8 984.7,529.8 985.8,529.8 986.8,529.8 987.8,529.8 988.8,529.8 989.9,529.7 990.9,529.7 991.9,529.7 993.0,529.7 994.0,529.7 995.0,529.7 996.1,529.7 997.1,529.7 998.1,529.7 999.2,529.7 1000.2,529.7 1001.2,529.7 1002.3,529.7 1003.3,529.7 1004.3,529.6 1005.4,529.6 1006.4,529.6 1007.4,529.6 1008.5,529.6 1009.5,529.6 1010.5,529.6 1011.6,529.6 1012.6,529.6 1013.6,529.6 1014.7,529.6 1015.7,529.6 1016.7,529.6 1017.8,529.6 1018.8,529.6 1019.8,529.5 1020.8,529.5 1021.9,529.5 1022.9,529.5 1023.9,529.5 1025.0,529.5 1026.0,529.5 1027.0,529.5 1028.1,529.5 1029.1,529.5 1030.1,529.5 1031.2,529.5 1032.2,529.5 1033.2,529.5 1034.3,529.5 1035.3,529.5 1036.3,529.5 1037.4,529.5 1038.4,529.5 1039.4,529.5 1040.5,529.5 1041.5,529.5 1042.5,529.5 1043.6,529.5 1044.6,529.5 1045.6,529.5 1046.7,529.5 1047.7,529.5 1048.7,529.5 1049.8,529.5 1050.8,529.5 1051.8,529.5 1052.9,529.5 1053.9,529.5 1054.9,529.5 1055.9,529.5 1057.0,529.5 1058.0,529.5 1059.0,529.5 1060.1,529.5 1061.1,529.5 1062.1,529.5 1063.2,529.5 1064.2,529.5 1065.2,529.5 1066.3,529.5 1067.3,529.5 1068.3,529.5 1069.4,529.5 1070.4,529.5 1071.4,529.5 1072.5,529.6 1073.5,529.6 1074.5,529.6 1075.6,529.6 1076.6,529.6 1077.6,529.6 1078.7,529.6 1079.7,529.6 1080.7,529.6 1081.8,529.6 1082.8,529.7 1083.8,529.7 1084.9,529.7 1085.9,529.7 1086.9,529.7 1087.9,529.7 1089.0,529.7 1090.0,529.8 1091.0,529.8 1092.1,529.8 1093.1,529.8 1094.1,529.8 1095.2,529.8 1096.2,529.9 1097.2,529.9 1098.3,529.9 1099.3,529.9 1100.3,529.9 1101.4,530.0 1102.4,530.0 1103.4,530.0 1104.5,530.0 1105.5,530.0 1106.5,530.1 1107.6,530.1 1108.6,530.1 1109.6,530.1 1110.7,530.1 1111.7,530.2 1112.7,530.2 1113.8,530.2 1114.8,530.2 1115.8,530.2 1116.9,530.3 1117.9,530.3 1118.9,530.3 1120.0,530.3 1121.0,530.4 1122.0,530.4 1123.0,530.4 1124.1,530.4 1125.1,530.5 1126.1,530.5 1127.2,530.5 1128.2,530.5 1129.2,530.5 1130.3,530.6 1131.3,530.6 1132.3,530.6 1133.4,530.6 1134.4,530.7 1135.4,530.7 1136.5,530.7 1137.5,530.7 1138.5,530.8 1139.6,530.8 1140.6,530.8 1141.6,530.8 1142.7,530.9 1143.7,530.9 1144.7,530.9 1145.8,530.9 1146.8,531.0 1147.8,531.0 1148.9,531.0 1149.9,531.0 1150.9,531.1 1152.0,531.1 1153.0,531.1 1154.0,531.1 1155.0,531.2 1156.1,531.2 1157.1,531.2 1158.1,531.3 1159.2,531.3 1160.2,531.3 1161.2,531.3 1162.3,531.4 1163.3,531.4 1164.3,531.4 1165.4,531.5 1166.4,531.5 1167.4,531.5 1168.5,531.5 1169.5,531.6 1170.5,531.6 1171.6,531.6 1172.6,531.7 1173.6,531.7 1174.7,531.7 1175.7,531.7 1176.7,531.8 1177.8,531.8 1178.8,531.8 1179.8,531.9 1180.9,531.9 1181.9,531.9 1182.9,532.0 1184.0,532.0 1185.0,532.0 1186.0,532.1 1187.1,532.1 1188.1,532.1 1189.1,532.2 1190.1,532.2 1191.2,532.2 1192.2,532.3 1193.2,532.3 1194.3,532.3 1195.3,532.4 1196.3,532.4 1197.4,532.4 1198.4,532.5 1199.4,532.5 1200.5,532.5 1201.5,532.6 1202.5,532.6 1203.6,532.6 1204.6,532.7 1205.6,532.7 1206.7,532.7 1207.7,532.8 1208.7,532.8 1209.8,532.8 1210.8,532.9 1211.8,532.9 1212.9,532.9 1213.9,533.0 1214.9,533.0 1216.0,533.0 1217.0,533.1 1218.0,533.1 1219.1,533.2 1220.1,533.2 1221.1,533.2 1222.1,533.3 1223.2,533.3 1224.2,533.3 1225.2,533.4 1226.3,533.4 1227.3,533.5 1228.3,533.5 1229.4,533.5 1230.4,533.6 1231.4,533.6 1232.5,533.7 1233.5,533.7 1234.5,533.7 1235.6,533.8 1236.6,533.8 1237.6,533.9 1238.7,533.9 1239.7,534.0 1240.7,534.0 1241.8,534.1 1242.8,534.1 1243.8,534.1 1244.9,534.2 1245.9,534.2 1246.9,534.3 1248.0,534.4 1249.0,534.4 1250.0,534.5 1251.1,534.5 1252.1,534.6 1253.1,534.6 1254.2,534.7 1255.2,534.7 1256.2,534.8 1257.2,534.9 1258.3,534.9 1259.3,535.0 1260.3,535.0 1261.4,535.1 1262.4,535.2 1263.4,535.2 1264.5,535.3 1265.5,535.4 1266.5,535.4 1267.6,535.5 1268.6,535.6 1269.6,535.7 1270.7,535.7 1271.7,535.8 1272.7,535.9 1273.8,536.0 1274.8,536.0 1275.8,536.1 1276.9,536.2 1277.9,536.3 1278.9,536.3 1280.0,536.4 1281.0,536.5 1282.0,536.6 1283.1,536.7 1284.1,536.8 1285.1,536.8 1286.2,536.9 1287.2,537.0 1288.2,537.1 1289.2,537.2 1290.3,537.3 1291.3,537.4 1292.3,537.5 1293.4,537.5 1294.4,537.6 1295.4,537.7 1296.5,537.8 1297.5,537.9 1298.5,538.0 1299.6,538.1 1300.6,538.2 1301.6,538.3 1302.7,538.3 1303.7,538.4 1304.7,538.5 1305.8,538.6 1306.8,538.7 1307.8,538.8 1308.9,538.9 1309.9,539.0 1310.9,539.0 1312.0,539.1 1313.0,539.2 1314.0,539.3 1315.1,539.4 1316.1,539.5 1317.1,539.5 1318.2,539.6 1319.2,539.7 1320.2,539.8 1321.3,539.9 1322.3,539.9 1323.3,540.0 1324.3,540.1 1325.4,540.1 1326.4,540.2 1327.4,540.3 1328.5,540.4 1329.5,540.4 1330.5,540.5 1331.6,540.6 1332.6,540.6 1333.6,540.7 1334.7,540.7 1335.7,540.8 1336.7,540.9 1337.8,540.9 1338.8,541.0 1339.8,541.0 1340.9,541.1 1341.9,541.1 1342.9,541.2 1344.0,541.2 1345.0,541.3 1346.0,541.3 1347.1,541.4 1348.1,541.4 1349.1,541.4 1350.2,541.5 1351.2,541.5 1352.2,541.6 1353.3,541.6 1354.3,541.6 1355.3,541.7 1356.3,541.7 1357.4,541.7 1358.4,541.8 1359.4,541.8 1360.5,541.8 1361.5,541.8 1362.5,541.9 1363.6,541.9 1364.6,541.9 1365.6,541.9 1366.7,541.9 1367.7,542.0 1368.7,542.0 1369.8,542.0 1370.8,542.0 1371.8,542.0 1372.9,542.0 1373.9,542.0 1374.9,542.1 1376.0,542.1 1377.0,542.1 1378.0,542.1 1379.1,542.1 1380.1,542.1 1381.1,542.1 1382.2,542.1 1383.2,542.1 1384.2,542.1 1385.3,542.1 1386.3,542.1 1387.3,542.1 1388.3,542.1 1389.4,542.1 1390.4,542.1 1391.4,542.1 1392.5,542.1 1393.5,542.1 1394.5,542.1 1395.6,542.1 1396.6,542.1 1397.6,542.1 1398.7,542.1 1399.7,542.1 1400.7,542.1 1401.8,542.1 1402.8,542.1 1403.8,542.1 1404.9,542.1 1405.9,542.1 1406.9,542.1 1408.0,542.1 1409.0,542.1 1410.0,542.1 1411.1,542.1 1412.1,542.1 1413.1,542.1 1414.2,542.1 1415.2,542.1 1416.2,542.1 1417.3,542.1 1418.3,542.0 1419.3,542.0 1420.4,542.0 1421.4,542.0 1422.4,542.0 1423.4,542.0 1424.5,542.0 1425.5,542.0 1426.5,542.0 1427.6,542.0 1428.6,542.0 1429.6,542.0 1430.7,542.0 1431.7,542.0 1432.7,541.9 1433.8,541.9 1434.8,541.9 1435.8,541.9 1436.9,541.9 1437.9,541.9 1438.9,541.9 1440.0,541.9 1441.0,541.9 1442.0,541.9 1443.1,541.9 1444.1,541.9 1445.1,541.8 1446.2,541.8 1447.2,541.8 1448.2,541.8 1449.3,541.8 1450.3,541.8 1451.3,541.8 1452.4,541.8 1453.4,541.8 1454.4,541.8 1455.4,541.8 1456.5,541.8 1457.5,541.7 1458.5,541.7 1459.6,541.7 1460.6,541.7 1461.6,541.7 1462.7,541.7 1463.7,541.7 1464.7,541.7 1465.8,541.7 1466.8,541.7 1467.8,541.7 1468.9,541.7 1469.9,541.6 1470.9,541.6 1472.0,541.6 1473.0,541.6 1474.0,541.6 1475.1,541.6 1476.1,541.6 1477.1,541.6 1478.2,541.6 1479.2,541.6 1480.2,541.6 1481.3,541.5 1482.3,541.5 1483.3,541.5 1484.4,541.5 1485.4,541.5 1486.4,541.5 1487.5,541.5 1488.5,541.5 1489.5,541.5 1490.5,541.5 1491.6,541.5 1492.6,541.5 1493.6,541.4 1494.7,541.4 1495.7,541.4 1496.7,541.4 1497.8,541.4 1498.8,541.4 1499.8,541.4 1500.9,541.4 1501.9,541.4 1502.9,541.4 1504.0,541.4 1505.0,541.4 1506.0,541.3 1507.1,541.3 1508.1,541.3 1509.1,541.3 1510.2,541.3 1511.2,541.3 1512.2,541.3 1513.3,541.3 1514.3,541.3 1515.3,541.3 1516.4,541.3 1517.4,541.2 1518.4,541.2 1519.5,541.2 1520.5,541.2 1521.5,541.2 1522.5,541.2 1523.6,541.2 1524.6,541.2 1525.6,541.2 1526.7,541.2 1527.7,541.2 1528.7,541.2 1529.8,541.1 1530.8,541.1 1531.8,541.1" fill="none" stroke="#c0c0c0" stroke-width="4.8"/>
<path d="M859.9,533.1L859.9,527.9 M873.1,528.0L873.0,522.8 M886.3,527.7L886.2,522.5 M899.6,527.4L899.4,522.2 M912.8,526.9L912.5,521.7 M925.9,526.1L925.6,520.9 M939.1,524.9L938.6,519.8 M952.3,523.5L951.7,518.3 M965.5,521.9L964.9,516.7 M978.8,520.2L978.1,515.0 M992.0,518.6L991.5,513.4 M1005.8,522.2L1005.3,517.0 M1019.1,520.7L1018.5,515.6 M1032.5,518.8L1031.6,513.6 M1046.0,515.7L1044.6,510.7 M1059.5,511.1L1057.6,506.3 M1072.8,505.3L1070.7,500.6 M1086.1,499.2L1083.9,494.4 M1099.1,493.9L1097.4,488.9 M1112.0,490.4L1111.0,485.3 M1125.0,488.6L1124.5,483.5 M1138.2,487.3L1137.7,482.2 M1151.7,485.4L1150.7,480.2 M1165.0,482.5L1163.9,477.5 M1178.2,479.7L1177.2,474.6 M1191.3,477.5L1190.6,472.3 M1204.5,475.9L1203.8,470.7 M1218.1,473.3L1216.7,468.3 M1232.0,467.3L1229.3,462.9 M1245.7,456.2L1242.0,452.5 M1259.2,440.4L1255.1,437.2 M1272.4,423.2L1268.3,419.9 M1285.2,409.9L1282.0,405.8 M1296.7,405.3L1296.9,400.1 M1308.3,411.0L1311.8,407.2 M1321.1,427.7L1325.5,424.9 M1334.2,451.6L1338.9,449.2 M1347.5,477.4L1352.1,474.9 M1360.8,500.5L1365.2,497.7 M1374.3,518.4L1378.2,514.9 M1388.0,530.5L1391.0,526.3 M1403.6,533.1L1405.5,528.3 M1416.4,536.6L1417.4,531.5 M1429.4,538.3L1429.8,533.1 M1442.5,538.9L1442.7,533.7 M1455.7,539.1L1455.7,533.9 M1468.9,539.1L1468.9,533.9 M1482.2,539.0L1482.1,533.8" stroke="#555" stroke-width="1.0" fill="none"/>
<polyline points="810.3,531.1 811.3,531.0 812.3,531.0 813.4,531.0 814.4,531.0 815.4,531.0 816.5,531.0 817.5,531.0 818.5,531.0 819.6,531.0 820.6,531.0 821.6,530.9 822.6,530.9 823.7,530.9 824.7,530.9 825.7,530.9 826.8,530.9 827.8,530.9 828.8,530.9 829.9,530.9 830.9,530.9 831.9,530.8 833.0,530.8 834.0,530.8 835.0,530.8 836.1,530.8 837.1,530.8 838.1,530.8 839.2,530.8 840.2,530.8 841.2,530.8 842.3,530.7 843.3,530.7 844.3,530.7 845.4,530.7 846.4,530.7 847.4,530.7 848.5,530.7 849.5,530.7 850.5,530.7 851.6,530.6 852.6,530.6 853.6,530.6 854.6,530.6 855.7,530.6 856.7,530.6 857.7,530.6 858.8,530.6 859.8,530.6 860.8,530.5 861.9,530.5 862.9,530.5 863.9,530.5 865.0,530.5 866.0,530.5 867.0,530.5 868.1,530.4 869.1,530.4 870.1,530.4 871.2,530.4 872.2,530.4 873.2,530.4 874.3,530.4 875.3,530.3 876.3,530.3 877.4,530.3 878.4,530.3 879.4,530.3 880.5,530.3 881.5,530.2 882.5,530.2 883.6,530.2 884.6,530.2 885.6,530.2 886.7,530.1 887.7,530.1 888.7,530.1 889.7,530.1 890.8,530.0 891.8,530.0 892.8,530.0 893.9,530.0 894.9,529.9 895.9,529.9 897.0,529.9 898.0,529.8 899.0,529.8 900.1,529.8 901.1,529.7 902.1,529.7 903.2,529.7 904.2,529.6 905.2,529.6 906.3,529.5 907.3,529.5 908.3,529.5 909.4,529.4 910.4,529.4 911.4,529.3 912.5,529.3 913.5,529.2 914.5,529.2 915.6,529.1 916.6,529.1 917.6,529.0 918.7,528.9 919.7,528.9 920.7,528.8 921.7,528.7 922.8,528.7 923.8,528.6 924.8,528.5 925.9,528.5 926.9,528.4 927.9,528.3 929.0,528.2 930.0,528.2 931.0,528.1 932.1,528.0 933.1,527.9 934.1,527.8 935.2,527.7 936.2,527.6 937.2,527.5 938.3,527.4 939.3,527.3 940.3,527.2 941.4,527.1 942.4,527.0 943.4,526.9 944.5,526.8 945.5,526.7 946.5,526.6 947.6,526.5 948.6,526.4 949.6,526.2 950.7,526.1 951.7,526.0 952.7,525.9 953.8,525.8 954.8,525.6 955.8,525.5 956.8,525.4 957.9,525.3 958.9,525.1 959.9,525.0 961.0,524.9 962.0,524.7 963.0,524.6 964.1,524.5 965.1,524.3 966.1,524.2 967.2,524.1 968.2,523.9 969.2,523.8 970.3,523.7 971.3,523.5 972.3,523.4 973.4,523.3 974.4,523.1 975.4,523.0 976.5,522.9 977.5,522.7 978.5,522.6 979.6,522.5 980.6,522.4 981.6,522.2 982.7,522.1 983.7,522.0 984.7,521.9 985.8,521.7 986.8,521.6 987.8,521.5 988.8,521.4 989.9,521.3 990.9,521.1 991.9,521.0 993.0,520.9 994.0,520.8 995.0,520.7 996.1,520.6 997.1,520.5 998.1,520.4 999.2,520.3 1000.2,520.1 1001.2,520.0 1002.3,519.9 1003.3,519.8 1004.3,519.7 1005.4,519.6 1006.4,519.5 1007.4,519.4 1008.5,519.3 1009.5,519.2 1010.5,519.1 1011.6,519.0 1012.6,518.9 1013.6,518.8 1014.7,518.6 1015.7,518.5 1016.7,518.4 1017.8,518.3 1018.8,518.2 1019.8,518.0 1020.8,517.9 1021.9,517.8 1022.9,517.6 1023.9,517.5 1025.0,517.3 1026.0,517.2 1027.0,517.0 1028.1,516.9 1029.1,516.7 1030.1,516.5 1031.2,516.4 1032.2,516.2 1033.2,516.0 1034.3,515.8 1035.3,515.6 1036.3,515.4 1037.4,515.1 1038.4,514.9 1039.4,514.7 1040.5,514.4 1041.5,514.2 1042.5,513.9 1043.6,513.6 1044.6,513.4 1045.6,513.1 1046.7,512.8 1047.7,512.5 1048.7,512.1 1049.8,511.8 1050.8,511.5 1051.8,511.1 1052.9,510.8 1053.9,510.4 1054.9,510.0 1055.9,509.7 1057.0,509.3 1058.0,508.9 1059.0,508.5 1060.1,508.1 1061.1,507.6 1062.1,507.2 1063.2,506.8 1064.2,506.3 1065.2,505.9 1066.3,505.4 1067.3,505.0 1068.3,504.5 1069.4,504.1 1070.4,503.6 1071.4,503.1 1072.5,502.6 1073.5,502.1 1074.5,501.7 1075.6,501.2 1076.6,500.7 1077.6,500.2 1078.7,499.7 1079.7,499.2 1080.7,498.8 1081.8,498.3 1082.8,497.8 1083.8,497.3 1084.9,496.8 1085.9,496.4 1086.9,495.9 1087.9,495.5 1089.0,495.0 1090.0,494.6 1091.0,494.1 1092.1,493.7 1093.1,493.3 1094.1,492.9 1095.2,492.5 1096.2,492.1 1097.2,491.8 1098.3,491.4 1099.3,491.0 1100.3,490.7 1101.4,490.4 1102.4,490.1 1103.4,489.8 1104.5,489.5 1105.5,489.2 1106.5,488.9 1107.6,488.7 1108.6,488.5 1109.6,488.2 1110.7,488.0 1111.7,487.8 1112.7,487.6 1113.8,487.5 1114.8,487.3 1115.8,487.1 1116.9,487.0 1117.9,486.8 1118.9,486.7 1120.0,486.6 1121.0,486.5 1122.0,486.3 1123.0,486.2 1124.1,486.1 1125.1,486.0 1126.1,485.9 1127.2,485.8 1128.2,485.7 1129.2,485.6 1130.3,485.5 1131.3,485.4 1132.3,485.3 1133.4,485.2 1134.4,485.1 1135.4,485.0 1136.5,484.9 1137.5,484.8 1138.5,484.7 1139.6,484.6 1140.6,484.4 1141.6,484.3 1142.7,484.2 1143.7,484.0 1144.7,483.9 1145.8,483.7 1146.8,483.6 1147.8,483.4 1148.9,483.2 1149.9,483.0 1150.9,482.8 1152.0,482.7 1153.0,482.5 1154.0,482.3 1155.0,482.0 1156.1,481.8 1157.1,481.6 1158.1,481.4 1159.2,481.2 1160.2,481.0 1161.2,480.7 1162.3,480.5 1163.3,480.3 1164.3,480.0 1165.4,479.8 1166.4,479.6 1167.4,479.3 1168.5,479.1 1169.5,478.9 1170.5,478.6 1171.6,478.4 1172.6,478.2 1173.6,477.9 1174.7,477.7 1175.7,477.5 1176.7,477.3 1177.8,477.1 1178.8,476.9 1179.8,476.7 1180.9,476.5 1181.9,476.3 1182.9,476.1 1184.0,475.9 1185.0,475.8 1186.0,475.6 1187.1,475.4 1188.1,475.3 1189.1,475.1 1190.1,475.0 1191.2,474.9 1192.2,474.7 1193.2,474.6 1194.3,474.5 1195.3,474.3 1196.3,474.2 1197.4,474.1 1198.4,474.0 1199.4,473.9 1200.5,473.7 1201.5,473.6 1202.5,473.5 1203.6,473.4 1204.6,473.2 1205.6,473.1 1206.7,472.9 1207.7,472.8 1208.7,472.6 1209.8,472.5 1210.8,472.3 1211.8,472.1 1212.9,471.9 1213.9,471.7 1214.9,471.4 1216.0,471.2 1217.0,470.9 1218.0,470.6 1219.1,470.3 1220.1,470.0 1221.1,469.6 1222.1,469.2 1223.2,468.8 1224.2,468.4 1225.2,467.9 1226.3,467.5 1227.3,466.9 1228.3,466.4 1229.4,465.8 1230.4,465.2 1231.4,464.6 1232.5,463.9 1233.5,463.2 1234.5,462.5 1235.6,461.7 1236.6,460.9 1237.6,460.1 1238.7,459.2 1239.7,458.3 1240.7,457.4 1241.8,456.4 1242.8,455.4 1243.8,454.4 1244.9,453.3 1245.9,452.2 1246.9,451.1 1248.0,450.0 1249.0,448.8 1250.0,447.6 1251.1,446.4 1252.1,445.1 1253.1,443.8 1254.2,442.6 1255.2,441.3 1256.2,439.9 1257.2,438.6 1258.3,437.3 1259.3,435.9 1260.3,434.6 1261.4,433.2 1262.4,431.8 1263.4,430.5 1264.5,429.1 1265.5,427.8 1266.5,426.4 1267.6,425.1 1268.6,423.8 1269.6,422.5 1270.7,421.2 1271.7,419.9 1272.7,418.7 1273.8,417.5 1274.8,416.3 1275.8,415.1 1276.9,414.0 1277.9,413.0 1278.9,411.9 1280.0,410.9 1281.0,410.0 1282.0,409.1 1283.1,408.2 1284.1,407.5 1285.1,406.7 1286.2,406.0 1287.2,405.4 1288.2,404.8 1289.2,404.3 1290.3,403.9 1291.3,403.5 1292.3,403.2 1293.4,403.0 1294.4,402.8 1295.4,402.7 1296.5,402.7 1297.5,402.8 1298.5,402.9 1299.6,403.1 1300.6,403.3 1301.6,403.7 1302.7,404.1 1303.7,404.6 1304.7,405.1 1305.8,405.7 1306.8,406.4 1307.8,407.2 1308.9,408.1 1309.9,409.0 1310.9,409.9 1312.0,411.0 1313.0,412.1 1314.0,413.3 1315.1,414.5 1316.1,415.8 1317.1,417.1 1318.2,418.5 1319.2,420.0 1320.2,421.5 1321.3,423.1 1322.3,424.7 1323.3,426.3 1324.3,428.0 1325.4,429.7 1326.4,431.5 1327.4,433.3 1328.5,435.2 1329.5,437.0 1330.5,438.9 1331.6,440.9 1332.6,442.8 1333.6,444.8 1334.7,446.7 1335.7,448.7 1336.7,450.8 1337.8,452.8 1338.8,454.8 1339.8,456.8 1340.9,458.9 1341.9,460.9 1342.9,462.9 1344.0,464.9 1345.0,466.9 1346.0,469.0 1347.1,470.9 1348.1,472.9 1349.1,474.9 1350.2,476.8 1351.2,478.8 1352.2,480.7 1353.3,482.6 1354.3,484.4 1355.3,486.3 1356.3,488.1 1357.4,489.9 1358.4,491.6 1359.4,493.3 1360.5,495.0 1361.5,496.7 1362.5,498.3 1363.6,499.9 1364.6,501.5 1365.6,503.0 1366.7,504.5 1367.7,506.0 1368.7,507.4 1369.8,508.8 1370.8,510.1 1371.8,511.4 1372.9,512.7 1373.9,513.9 1374.9,515.1 1376.0,516.3 1377.0,517.4 1378.0,518.5 1379.1,519.6 1380.1,520.6 1381.1,521.6 1382.2,522.5 1383.2,523.5 1384.2,524.4 1385.3,525.2 1386.3,526.0 1387.3,526.8 1388.3,527.6 1389.4,528.3 1390.4,529.0 1391.4,529.7 1392.5,530.3 1393.5,530.9 1394.5,531.5 1395.6,532.1 1396.6,532.6 1397.6,533.2 1398.7,533.6 1399.7,534.1 1400.7,534.6 1401.8,535.0 1402.8,535.4 1403.8,535.8 1404.9,536.1 1405.9,536.5 1406.9,536.8 1408.0,537.1 1409.0,537.4 1410.0,537.7 1411.1,537.9 1412.1,538.2 1413.1,538.4 1414.2,538.6 1415.2,538.8 1416.2,539.0 1417.3,539.2 1418.3,539.4 1419.3,539.6 1420.4,539.7 1421.4,539.9 1422.4,540.0 1423.4,540.1 1424.5,540.2 1425.5,540.3 1426.5,540.4 1427.6,540.5 1428.6,540.6 1429.6,540.7 1430.7,540.8 1431.7,540.8 1432.7,540.9 1433.8,541.0 1434.8,541.0 1435.8,541.1 1436.9,541.1 1437.9,541.2 1438.9,541.2 1440.0,541.2 1441.0,541.3 1442.0,541.3 1443.1,541.3 1444.1,541.4 1445.1,541.4 1446.2,541.4 1447.2,541.4 1448.2,541.4 1449.3,541.5 1450.3,541.5 1451.3,541.5 1452.4,541.5 1453.4,541.5 1454.4,541.5 1455.4,541.5 1456.5,541.5 1457.5,541.5 1458.5,541.5 1459.6,541.5 1460.6,541.5 1461.6,541.5 1462.7,541.5 1463.7,541.5 1464.7,541.5 1465.8,541.5 1466.8,541.5 1467.8,541.5 1468.9,541.5 1469.9,541.5 1470.9,541.5 1472.0,541.5 1473.0,541.5 1474.0,541.5 1475.1,541.5 1476.1,541.5 1477.1,541.5 1478.2,541.5 1479.2,541.5 1480.2,541.4 1481.3,541.4 1482.3,541.4 1483.3,541.4 1484.4,541.4 1485.4,541.4 1486.4,541.4 1487.5,541.4 1488.5,541.4 1489.5,541.4 1490.5,541.4 1491.6,541.4 1492.6,541.4 1493.6,541.3 1494.7,541.3 1495.7,541.3 1496.7,541.3 1497.8,541.3 1498.8,541.3 1499.8,541.3 1500.9,541.3 1501.9,541.3 1502.9,541.3 1504.0,541.3 1505.0,541.3 1506.0,541.3 1507.1,541.2 1508.1,541.2 1509.1,541.2 1510.2,541.2 1511.2,541.2 1512.2,541.2 1513.3,541.2 1514.3,541.2 1515.3,541.2 1516.4,541.2 1517.4,541.2 1518.4,541.2 1519.5,541.1 1520.5,541.1 1521.5,541.1 1522.5,541.1 1523.6,541.1 1524.6,541.1 1525.6,541.1 1526.7,541.1 1527.7,541.1 1528.7,541.1 1529.8,541.1 1530.8,541.1 1531.8,541.1" fill="none" stroke="#ee1111" stroke-width="5.5" stroke-linejoin="round"/>
</g>
<clipPath id="clip2"><rect x="1485.6" y="115.8" width="628.4" height="441.6"/></clipPath>
<g clip-path="url(#clip2)">
<path d="M1438.7,504.8 L1439.7,504.8 L1440.7,504.8 L1441.8,504.8 L1442.8,504.8 L1443.8,504.8 L1444.9,504.8 L1445.9,504.8 L1446.9,504.7 L1448.0,504.7 L1449.0,504.7 L1450.0,504.7 L1451.0,504.7 L1452.1,504.7 L1453.1,504.7 L1454.1,504.7 L1455.2,504.7 L1456.2,504.7 L1457.2,504.6 L1458.3,504.6 L1459.3,504.6 L1460.3,504.6 L1461.4,504.6 L1462.4,504.6 L1463.4,504.6 L1464.5,504.6 L1465.5,504.6 L1466.5,504.6 L1467.6,504.5 L1468.6,504.5 L1469.6,504.5 L1470.7,504.5 L1471.7,504.5 L1472.7,504.5 L1473.8,504.5 L1474.8,504.5 L1475.8,504.5 L1476.9,504.5 L1477.9,504.4 L1478.9,504.4 L1480.0,504.4 L1481.0,504.4 L1482.0,504.4 L1483.0,504.4 L1484.1,504.4 L1485.1,504.4 L1486.1,504.4 L1487.2,504.4 L1488.2,504.3 L1489.2,504.3 L1490.3,504.3 L1491.3,504.3 L1492.3,504.3 L1493.4,504.3 L1494.4,504.3 L1495.4,504.3 L1496.5,504.3 L1497.5,504.3 L1498.5,504.2 L1499.6,504.2 L1500.6,504.2 L1501.6,504.2 L1502.7,504.2 L1503.7,504.2 L1504.7,504.2 L1505.8,504.2 L1506.8,504.2 L1507.8,504.2 L1508.9,504.1 L1509.9,504.1 L1510.9,504.1 L1512.0,504.1 L1513.0,504.1 L1514.0,504.1 L1515.1,504.1 L1516.1,504.1 L1517.1,504.1 L1518.1,504.1 L1519.2,504.0 L1520.2,504.0 L1521.2,504.0 L1522.3,504.0 L1523.3,504.0 L1524.3,504.0 L1525.4,504.0 L1526.4,504.0 L1527.4,504.0 L1528.5,504.0 L1529.5,503.9 L1530.5,503.9 L1531.6,503.9 L1532.6,503.9 L1533.6,503.9 L1534.7,503.9 L1535.7,503.9 L1536.7,503.9 L1537.8,503.9 L1538.8,503.9 L1539.8,503.8 L1540.9,503.8 L1541.9,503.8 L1542.9,503.8 L1544.0,503.8 L1545.0,503.8 L1546.0,503.8 L1547.1,503.8 L1548.1,503.8 L1549.1,503.8 L1550.1,503.7 L1551.2,503.7 L1552.2,503.7 L1553.2,503.7 L1554.3,503.7 L1555.3,503.7 L1556.3,503.7 L1557.4,503.7 L1558.4,503.7 L1559.4,503.6 L1560.5,503.6 L1561.5,503.6 L1562.5,503.6 L1563.6,503.6 L1564.6,503.6 L1565.6,503.6 L1566.7,503.6 L1567.7,503.6 L1568.7,503.6 L1569.8,503.5 L1570.8,503.5 L1571.8,503.5 L1572.9,503.5 L1573.9,503.5 L1574.9,503.5 L1576.0,503.5 L1577.0,503.5 L1578.0,503.5 L1579.1,503.5 L1580.1,503.4 L1581.1,503.4 L1582.2,503.4 L1583.2,503.4 L1584.2,503.4 L1585.2,503.4 L1586.3,503.4 L1587.3,503.4 L1588.3,503.4 L1589.4,503.3 L1590.4,503.3 L1591.4,503.3 L1592.5,503.3 L1593.5,503.3 L1594.5,503.3 L1595.6,503.3 L1596.6,503.3 L1597.6,503.3 L1598.7,503.3 L1599.7,503.2 L1600.7,503.2 L1601.8,503.2 L1602.8,503.2 L1603.8,503.2 L1604.9,503.2 L1605.9,503.2 L1606.9,503.2 L1608.0,503.2 L1609.0,503.1 L1610.0,503.1 L1611.1,503.1 L1612.1,503.1 L1613.1,503.1 L1614.2,503.1 L1615.2,503.1 L1616.2,503.1 L1617.2,503.1 L1618.3,503.0 L1619.3,503.0 L1620.3,503.0 L1621.4,503.0 L1622.4,503.0 L1623.4,503.0 L1624.5,503.0 L1625.5,503.0 L1626.5,503.0 L1627.6,502.9 L1628.6,502.9 L1629.6,502.9 L1630.7,502.9 L1631.7,502.9 L1632.7,502.9 L1633.8,502.9 L1634.8,502.9 L1635.8,502.9 L1636.9,502.8 L1637.9,502.8 L1638.9,502.8 L1640.0,502.8 L1641.0,502.8 L1642.0,502.8 L1643.1,502.8 L1644.1,502.8 L1645.1,502.8 L1646.2,502.7 L1647.2,502.7 L1648.2,502.7 L1649.2,502.7 L1650.3,502.7 L1651.3,502.7 L1652.3,502.7 L1653.4,502.7 L1654.4,502.6 L1655.4,502.6 L1656.5,502.6 L1657.5,502.6 L1658.5,502.6 L1659.6,502.6 L1660.6,502.6 L1661.6,502.6 L1662.7,502.6 L1663.7,502.5 L1664.7,502.5 L1665.8,502.5 L1666.8,502.5 L1667.8,502.5 L1668.9,502.5 L1669.9,502.5 L1670.9,502.4 L1672.0,502.4 L1673.0,502.4 L1674.0,502.4 L1675.1,502.4 L1676.1,502.4 L1677.1,502.4 L1678.2,502.4 L1679.2,502.3 L1680.2,502.3 L1681.3,502.3 L1682.3,502.3 L1683.3,502.3 L1684.3,502.3 L1685.4,502.3 L1686.4,502.2 L1687.4,502.2 L1688.5,502.2 L1689.5,502.2 L1690.5,502.2 L1691.6,502.2 L1692.6,502.1 L1693.6,502.1 L1694.7,502.1 L1695.7,502.1 L1696.7,502.1 L1697.8,502.0 L1698.8,502.0 L1699.8,502.0 L1700.9,502.0 L1701.9,502.0 L1702.9,501.9 L1704.0,501.9 L1705.0,501.9 L1706.0,501.9 L1707.1,501.8 L1708.1,501.8 L1709.1,501.8 L1710.2,501.7 L1711.2,501.7 L1712.2,501.7 L1713.3,501.6 L1714.3,501.6 L1715.3,501.6 L1716.3,501.5 L1717.4,501.5 L1718.4,501.4 L1719.4,501.4 L1720.5,501.3 L1721.5,501.3 L1722.5,501.2 L1723.6,501.1 L1724.6,501.1 L1725.6,501.0 L1726.7,500.9 L1727.7,500.9 L1728.7,500.8 L1729.8,500.7 L1730.8,500.6 L1731.8,500.5 L1732.9,500.4 L1733.9,500.3 L1734.9,500.2 L1736.0,500.1 L1737.0,499.9 L1738.0,499.8 L1739.1,499.7 L1740.1,499.5 L1741.1,499.4 L1742.2,499.2 L1743.2,499.0 L1744.2,498.8 L1745.3,498.7 L1746.3,498.4 L1747.3,498.2 L1748.4,498.0 L1749.4,497.8 L1750.4,497.5 L1751.4,497.3 L1752.5,497.0 L1753.5,496.7 L1754.5,496.4 L1755.6,496.1 L1756.6,495.8 L1757.6,495.4 L1758.7,495.1 L1759.7,494.7 L1760.7,494.3 L1761.8,493.9 L1762.8,493.5 L1763.8,493.1 L1764.9,492.6 L1765.9,492.2 L1766.9,491.7 L1768.0,491.2 L1769.0,490.7 L1770.0,490.1 L1771.1,489.6 L1772.1,489.0 L1773.1,488.4 L1774.2,487.8 L1775.2,487.1 L1776.2,486.5 L1777.3,485.8 L1778.3,485.1 L1779.3,484.4 L1780.4,483.7 L1781.4,482.9 L1782.4,482.2 L1783.4,481.4 L1784.5,480.6 L1785.5,479.8 L1786.5,478.9 L1787.6,478.1 L1788.6,477.2 L1789.6,476.3 L1790.7,475.4 L1791.7,474.5 L1792.7,473.6 L1793.8,472.7 L1794.8,471.7 L1795.8,470.7 L1796.9,469.8 L1797.9,468.8 L1798.9,467.8 L1800.0,466.8 L1801.0,465.8 L1802.0,464.8 L1803.1,463.8 L1804.1,462.8 L1805.1,461.8 L1806.2,460.8 L1807.2,459.8 L1808.2,458.8 L1809.3,457.8 L1810.3,456.8 L1811.3,455.8 L1812.4,454.8 L1813.4,453.9 L1814.4,452.9 L1815.5,452.0 L1816.5,451.1 L1817.5,450.2 L1818.5,449.3 L1819.6,448.4 L1820.6,447.6 L1821.6,446.8 L1822.7,446.0 L1823.7,445.2 L1824.7,444.5 L1825.8,443.8 L1826.8,443.1 L1827.8,442.5 L1828.9,441.9 L1829.9,441.4 L1830.9,440.8 L1832.0,440.4 L1833.0,439.9 L1834.0,439.5 L1835.1,439.2 L1836.1,438.8 L1837.1,438.6 L1838.2,438.4 L1839.2,438.2 L1840.2,438.0 L1841.3,438.0 L1842.3,437.9 L1843.3,437.9 L1844.4,438.0 L1845.4,438.1 L1846.4,438.3 L1847.5,438.5 L1848.5,438.7 L1849.5,439.0 L1850.5,439.4 L1851.6,439.8 L1852.6,440.2 L1853.6,440.7 L1854.7,441.3 L1855.7,441.8 L1856.7,442.5 L1857.8,443.1 L1858.8,443.8 L1859.8,444.6 L1860.9,445.4 L1861.9,446.2 L1862.9,447.0 L1864.0,447.9 L1865.0,448.8 L1866.0,449.8 L1867.1,450.8 L1868.1,451.8 L1869.1,452.8 L1870.2,453.9 L1871.2,455.0 L1872.2,456.1 L1873.3,457.2 L1874.3,458.3 L1875.3,459.5 L1876.4,460.7 L1877.4,461.9 L1878.4,463.1 L1879.5,464.3 L1880.5,465.5 L1881.5,466.8 L1882.6,468.0 L1883.6,469.3 L1884.6,470.5 L1885.6,471.8 L1886.7,473.0 L1887.7,474.3 L1888.7,475.6 L1889.8,476.8 L1890.8,478.1 L1891.8,479.3 L1892.9,480.6 L1893.9,481.8 L1894.9,483.0 L1896.0,484.2 L1897.0,485.4 L1898.0,486.7 L1899.1,487.8 L1900.1,489.0 L1901.1,490.2 L1902.2,491.3 L1903.2,492.5 L1904.2,493.6 L1905.3,494.7 L1906.3,495.8 L1907.3,496.9 L1908.4,498.0 L1909.4,499.0 L1910.4,500.1 L1911.5,501.1 L1912.5,502.1 L1913.5,503.1 L1914.6,504.0 L1915.6,505.0 L1916.6,505.9 L1917.6,506.9 L1918.7,507.8 L1919.7,508.6 L1920.7,509.5 L1921.8,510.3 L1922.8,511.2 L1923.8,512.0 L1924.9,512.8 L1925.9,513.6 L1926.9,514.3 L1928.0,515.1 L1929.0,515.8 L1930.0,516.5 L1931.1,517.2 L1932.1,517.9 L1933.1,518.6 L1934.2,519.2 L1935.2,519.8 L1936.2,520.4 L1937.3,521.0 L1938.3,521.6 L1939.3,522.2 L1940.4,522.8 L1941.4,523.3 L1942.4,523.8 L1943.5,524.4 L1944.5,524.9 L1945.5,525.3 L1946.6,525.8 L1947.6,526.3 L1948.6,526.7 L1949.7,527.2 L1950.7,527.6 L1951.7,528.0 L1952.7,528.4 L1953.8,528.8 L1954.8,529.2 L1955.8,529.5 L1956.9,529.9 L1957.9,530.2 L1958.9,530.6 L1960.0,530.9 L1961.0,531.2 L1962.0,531.5 L1963.1,531.8 L1964.1,532.1 L1965.1,532.4 L1966.2,532.6 L1967.2,532.9 L1968.2,533.2 L1969.3,533.4 L1970.3,533.6 L1971.3,533.9 L1972.4,534.1 L1973.4,534.3 L1974.4,534.5 L1975.5,534.7 L1976.5,534.9 L1977.5,535.1 L1978.6,535.2 L1979.6,535.4 L1980.6,535.6 L1981.7,535.7 L1982.7,535.9 L1983.7,536.0 L1984.7,536.1 L1985.8,536.3 L1986.8,536.4 L1987.8,536.5 L1988.9,536.6 L1989.9,536.7 L1990.9,536.9 L1992.0,537.0 L1993.0,537.1 L1994.0,537.1 L1995.1,537.2 L1996.1,537.3 L1997.1,537.4 L1998.2,537.5 L1999.2,537.6 L2000.2,537.6 L2001.3,537.7 L2002.3,537.7 L2003.3,537.8 L2004.4,537.9 L2005.4,537.9 L2006.4,538.0 L2007.5,538.0 L2008.5,538.1 L2009.5,538.1 L2010.6,538.1 L2011.6,538.2 L2012.6,538.2 L2013.7,538.2 L2014.7,538.3 L2015.7,538.3 L2016.7,538.3 L2017.8,538.4 L2018.8,538.4 L2019.8,538.4 L2020.9,538.4 L2021.9,538.4 L2022.9,538.5 L2024.0,538.5 L2025.0,538.5 L2026.0,538.5 L2027.1,538.5 L2028.1,538.5 L2029.1,538.5 L2030.2,538.6 L2031.2,538.6 L2032.2,538.6 L2033.3,538.6 L2034.3,538.6 L2035.3,538.6 L2036.4,538.6 L2037.4,538.6 L2038.4,538.6 L2039.5,538.6 L2040.5,538.6 L2041.5,538.6 L2042.6,538.6 L2043.6,538.6 L2044.6,538.6 L2045.7,538.6 L2046.7,538.6 L2047.7,538.6 L2048.8,538.6 L2049.8,538.6 L2050.8,538.6 L2051.8,538.6 L2052.9,538.6 L2053.9,538.6 L2054.9,538.6 L2056.0,538.6 L2057.0,538.6 L2058.0,538.6 L2059.1,538.6 L2060.1,538.6 L2061.1,538.6 L2062.2,538.6 L2063.2,538.6 L2064.2,538.6 L2065.3,538.5 L2066.3,538.5 L2067.3,538.5 L2068.4,538.5 L2069.4,538.5 L2070.4,538.5 L2071.5,538.5 L2072.5,538.5 L2073.5,538.5 L2074.6,538.5 L2075.6,538.5 L2076.6,538.5 L2077.7,538.5 L2078.7,538.5 L2079.7,538.5 L2080.8,538.5 L2081.8,538.5 L2082.8,538.4 L2083.8,538.4 L2084.9,538.4 L2085.9,538.4 L2086.9,538.4 L2088.0,538.4 L2089.0,538.4 L2090.0,538.4 L2091.1,538.4 L2092.1,538.4 L2093.1,538.4 L2094.2,538.4 L2095.2,538.4 L2096.2,538.4 L2097.3,538.3 L2098.3,538.3 L2099.3,538.3 L2100.4,538.3 L2101.4,538.3 L2102.4,538.3 L2103.5,538.3 L2104.5,538.3 L2105.5,538.3 L2106.6,538.3 L2107.6,538.3 L2108.6,538.3 L2109.7,538.3 L2110.7,538.3 L2111.7,538.2 L2112.8,538.2 L2113.8,538.2 L2114.8,538.2 L2115.9,538.2 L2116.9,538.2 L2117.9,538.2 L2118.9,538.2 L2120.0,538.2 L2121.0,538.2 L2122.0,538.2 L2123.1,538.2 L2124.1,538.2 L2125.1,538.1 L2126.2,538.1 L2127.2,538.1 L2128.2,538.1 L2129.3,538.1 L2130.3,538.1 L2131.3,538.1 L2132.4,538.1 L2133.4,538.1 L2134.4,538.1 L2135.5,538.1 L2136.5,538.1 L2137.5,538.0 L2138.6,538.0 L2139.6,538.0 L2140.6,538.0 L2141.7,538.0 L2142.7,538.0 L2143.7,538.0 L2144.8,538.0 L2145.8,538.0 L2146.8,538.0 L2147.9,538.0 L2148.9,538.0 L2149.9,538.0 L2150.9,537.9 L2152.0,537.9 L2153.0,537.9 L2154.0,537.9 L2155.1,537.9 L2156.1,537.9 L2157.1,537.9 L2158.2,537.9 L2159.2,537.9 L2160.2,537.9 L2160.2,537.3 L2159.2,537.4 L2158.2,537.4 L2157.1,537.4 L2156.1,537.4 L2155.1,537.4 L2154.0,537.4 L2153.0,537.4 L2152.0,537.4 L2150.9,537.4 L2149.9,537.4 L2148.9,537.4 L2147.9,537.4 L2146.8,537.4 L2145.8,537.4 L2144.8,537.4 L2143.7,537.4 L2142.7,537.4 L2141.7,537.4 L2140.6,537.4 L2139.6,537.4 L2138.6,537.4 L2137.5,537.4 L2136.5,537.4 L2135.5,537.4 L2134.4,537.4 L2133.4,537.4 L2132.4,537.4 L2131.3,537.4 L2130.3,537.4 L2129.3,537.4 L2128.2,537.4 L2127.2,537.4 L2126.2,537.4 L2125.1,537.4 L2124.1,537.4 L2123.1,537.4 L2122.0,537.4 L2121.0,537.4 L2120.0,537.4 L2118.9,537.4 L2117.9,537.4 L2116.9,537.4 L2115.9,537.4 L2114.8,537.4 L2113.8,537.4 L2112.8,537.4 L2111.7,537.4 L2110.7,537.4 L2109.7,537.4 L2108.6,537.4 L2107.6,537.4 L2106.6,537.4 L2105.5,537.4 L2104.5,537.4 L2103.5,537.4 L2102.4,537.4 L2101.4,537.4 L2100.4,537.4 L2099.3,537.3 L2098.3,537.3 L2097.3,537.3 L2096.2,537.3 L2095.2,537.3 L2094.2,537.3 L2093.1,537.3 L2092.1,537.3 L2091.1,537.3 L2090.0,537.2 L2089.0,537.2 L2088.0,537.2 L2086.9,537.2 L2085.9,537.2 L2084.9,537.1 L2083.8,537.1 L2082.8,537.1 L2081.8,537.1 L2080.8,537.0 L2079.7,537.0 L2078.7,537.0 L2077.7,536.9 L2076.6,536.9 L2075.6,536.8 L2074.6,536.8 L2073.5,536.7 L2072.5,536.7 L2071.5,536.6 L2070.4,536.5 L2069.4,536.4 L2068.4,536.4 L2067.3,536.3 L2066.3,536.2 L2065.3,536.1 L2064.2,536.0 L2063.2,535.9 L2062.2,535.7 L2061.1,535.6 L2060.1,535.4 L2059.1,535.3 L2058.0,535.1 L2057.0,534.9 L2056.0,534.7 L2054.9,534.5 L2053.9,534.3 L2052.9,534.1 L2051.8,533.8 L2050.8,533.5 L2049.8,533.3 L2048.8,532.9 L2047.7,532.6 L2046.7,532.2 L2045.7,531.9 L2044.6,531.5 L2043.6,531.0 L2042.6,530.6 L2041.5,530.1 L2040.5,529.5 L2039.5,529.0 L2038.4,528.4 L2037.4,527.8 L2036.4,527.1 L2035.3,526.4 L2034.3,525.6 L2033.3,524.8 L2032.2,524.0 L2031.2,523.1 L2030.2,522.2 L2029.1,521.2 L2028.1,520.1 L2027.1,519.0 L2026.0,517.8 L2025.0,516.6 L2024.0,515.3 L2022.9,514.0 L2021.9,512.5 L2020.9,511.0 L2019.8,509.5 L2018.8,507.8 L2017.8,506.1 L2016.7,504.3 L2015.7,502.4 L2014.7,500.4 L2013.7,498.3 L2012.6,496.2 L2011.6,493.9 L2010.6,491.6 L2009.5,489.1 L2008.5,486.6 L2007.5,483.9 L2006.4,481.2 L2005.4,478.3 L2004.4,475.4 L2003.3,472.3 L2002.3,469.2 L2001.3,465.9 L2000.2,462.5 L1999.2,459.0 L1998.2,455.4 L1997.1,451.6 L1996.1,447.8 L1995.1,443.8 L1994.0,439.8 L1993.0,435.6 L1992.0,431.3 L1990.9,426.9 L1989.9,422.4 L1988.9,417.8 L1987.8,413.1 L1986.8,408.3 L1985.8,403.3 L1984.7,398.3 L1983.7,393.2 L1982.7,388.0 L1981.7,382.7 L1980.6,377.3 L1979.6,371.8 L1978.6,366.3 L1977.5,360.7 L1976.5,355.0 L1975.5,349.3 L1974.4,343.5 L1973.4,337.6 L1972.4,331.7 L1971.3,325.8 L1970.3,319.8 L1969.3,313.9 L1968.2,307.9 L1967.2,301.9 L1966.2,295.8 L1965.1,289.8 L1964.1,283.9 L1963.1,277.9 L1962.0,272.0 L1961.0,266.1 L1960.0,260.2 L1958.9,254.4 L1957.9,248.7 L1956.9,243.1 L1955.8,237.5 L1954.8,232.1 L1953.8,226.7 L1952.7,221.4 L1951.7,216.3 L1950.7,211.3 L1949.7,206.4 L1948.6,201.7 L1947.6,197.2 L1946.6,192.8 L1945.5,188.5 L1944.5,184.5 L1943.5,180.6 L1942.4,176.9 L1941.4,173.5 L1940.4,170.2 L1939.3,167.2 L1938.3,164.4 L1937.3,161.8 L1936.2,159.4 L1935.2,157.3 L1934.2,155.4 L1933.1,153.7 L1932.1,152.3 L1931.1,151.2 L1930.0,150.2 L1929.0,149.6 L1928.0,149.2 L1926.9,149.1 L1925.9,149.2 L1924.9,149.5 L1923.8,150.1 L1922.8,151.0 L1921.8,152.1 L1920.7,153.5 L1919.7,155.1 L1918.7,156.9 L1917.6,158.9 L1916.6,161.2 L1915.6,163.7 L1914.6,166.5 L1913.5,169.4 L1912.5,172.6 L1911.5,175.9 L1910.4,179.4 L1909.4,183.1 L1908.4,187.0 L1907.3,191.1 L1906.3,195.3 L1905.3,199.6 L1904.2,204.1 L1903.2,208.8 L1902.2,213.5 L1901.1,218.4 L1900.1,223.4 L1899.1,228.5 L1898.0,233.6 L1897.0,238.9 L1896.0,244.2 L1894.9,249.6 L1893.9,255.0 L1892.9,260.5 L1891.8,266.0 L1890.8,271.6 L1889.8,277.2 L1888.7,282.7 L1887.7,288.3 L1886.7,293.9 L1885.6,299.5 L1884.6,305.0 L1883.6,310.6 L1882.6,316.1 L1881.5,321.5 L1880.5,326.9 L1879.5,332.3 L1878.4,337.6 L1877.4,342.9 L1876.4,348.1 L1875.3,353.2 L1874.3,358.2 L1873.3,363.2 L1872.2,368.1 L1871.2,372.9 L1870.2,377.6 L1869.1,382.2 L1868.1,386.7 L1867.1,391.2 L1866.0,395.5 L1865.0,399.7 L1864.0,403.8 L1862.9,407.9 L1861.9,411.8 L1860.9,415.6 L1859.8,419.3 L1858.8,422.9 L1857.8,426.4 L1856.7,429.8 L1855.7,433.0 L1854.7,436.2 L1853.6,439.3 L1852.6,442.2 L1851.6,445.1 L1850.5,447.9 L1849.5,450.5 L1848.5,453.1 L1847.5,455.5 L1846.4,457.9 L1845.4,460.2 L1844.4,462.4 L1843.3,464.4 L1842.3,466.5 L1841.3,468.4 L1840.2,470.2 L1839.2,472.0 L1838.2,473.6 L1837.1,475.2 L1836.1,476.7 L1835.1,478.2 L1834.0,479.6 L1833.0,480.9 L1832.0,482.1 L1830.9,483.3 L1829.9,484.4 L1828.9,485.5 L1827.8,486.5 L1826.8,487.5 L1825.8,488.4 L1824.7,489.2 L1823.7,490.0 L1822.7,490.8 L1821.6,491.5 L1820.6,492.2 L1819.6,492.8 L1818.5,493.4 L1817.5,494.0 L1816.5,494.5 L1815.5,495.0 L1814.4,495.5 L1813.4,495.9 L1812.4,496.3 L1811.3,496.7 L1810.3,497.0 L1809.3,497.4 L1808.2,497.7 L1807.2,498.0 L1806.2,498.2 L1805.1,498.5 L1804.1,498.7 L1803.1,498.9 L1802.0,499.1 L1801.0,499.3 L1800.0,499.5 L1798.9,499.6 L1797.9,499.8 L1796.9,499.9 L1795.8,500.1 L1794.8,500.2 L1793.8,500.3 L1792.7,500.4 L1791.7,500.5 L1790.7,500.6 L1789.6,500.6 L1788.6,500.7 L1787.6,500.8 L1786.5,500.8 L1785.5,500.9 L1784.5,500.9 L1783.4,501.0 L1782.4,501.0 L1781.4,501.1 L1780.4,501.1 L1779.3,501.1 L1778.3,501.2 L1777.3,501.2 L1776.2,501.2 L1775.2,501.2 L1774.2,501.3 L1773.1,501.3 L1772.1,501.3 L1771.1,501.3 L1770.0,501.3 L1769.0,501.3 L1768.0,501.4 L1766.9,501.4 L1765.9,501.4 L1764.9,501.4 L1763.8,501.4 L1762.8,501.4 L1761.8,501.4 L1760.7,501.4 L1759.7,501.4 L1758.7,501.4 L1757.6,501.4 L1756.6,501.4 L1755.6,501.4 L1754.5,501.5 L1753.5,501.5 L1752.5,501.5 L1751.4,501.5 L1750.4,501.5 L1749.4,501.5 L1748.4,501.5 L1747.3,501.5 L1746.3,501.5 L1745.3,501.5 L1744.2,501.5 L1743.2,501.5 L1742.2,501.5 L1741.1,501.5 L1740.1,501.5 L1739.1,501.5 L1738.0,501.6 L1737.0,501.6 L1736.0,501.6 L1734.9,501.6 L1733.9,501.6 L1732.9,501.6 L1731.8,501.6 L1730.8,501.6 L1729.8,501.6 L1728.7,501.6 L1727.7,501.6 L1726.7,501.6 L1725.6,501.7 L1724.6,501.7 L1723.6,501.7 L1722.5,501.7 L1721.5,501.7 L1720.5,501.7 L1719.4,501.7 L1718.4,501.7 L1717.4,501.7 L1716.3,501.7 L1715.3,501.8 L1714.3,501.8 L1713.3,501.8 L1712.2,501.8 L1711.2,501.8 L1710.2,501.8 L1709.1,501.8 L1708.1,501.8 L1707.1,501.8 L1706.0,501.9 L1705.0,501.9 L1704.0,501.9 L1702.9,501.9 L1701.9,501.9 L1700.9,501.9 L1699.8,501.9 L1698.8,501.9 L1697.8,502.0 L1696.7,502.0 L1695.7,502.0 L1694.7,502.0 L1693.6,502.0 L1692.6,502.0 L1691.6,502.0 L1690.5,502.0 L1689.5,502.1 L1688.5,502.1 L1687.4,502.1 L1686.4,502.1 L1685.4,502.1 L1684.3,502.1 L1683.3,502.1 L1682.3,502.1 L1681.3,502.2 L1680.2,502.2 L1679.2,502.2 L1678.2,502.2 L1677.1,502.2 L1676.1,502.2 L1675.1,502.2 L1674.0,502.2 L1673.0,502.3 L1672.0,502.3 L1670.9,502.3 L1669.9,502.3 L1668.9,502.3 L1667.8,502.3 L1666.8,502.3 L1665.8,502.3 L1664.7,502.4 L1663.7,502.4 L1662.7,502.4 L1661.6,502.4 L1660.6,502.4 L1659.6,502.4 L1658.5,502.4 L1657.5,502.4 L1656.5,502.5 L1655.4,502.5 L1654.4,502.5 L1653.4,502.5 L1652.3,502.5 L1651.3,502.5 L1650.3,502.5 L1649.2,502.5 L1648.2,502.6 L1647.2,502.6 L1646.2,502.6 L1645.1,502.6 L1644.1,502.6 L1643.1,502.6 L1642.0,502.6 L1641.0,502.6 L1640.0,502.6 L1638.9,502.7 L1637.9,502.7 L1636.9,502.7 L1635.8,502.7 L1634.8,502.7 L1633.8,502.7 L1632.7,502.7 L1631.7,502.7 L1630.7,502.8 L1629.6,502.8 L1628.6,502.8 L1627.6,502.8 L1626.5,502.8 L1625.5,502.8 L1624.5,502.8 L1623.4,502.8 L1622.4,502.8 L1621.4,502.9 L1620.3,502.9 L1619.3,502.9 L1618.3,502.9 L1617.2,502.9 L1616.2,502.9 L1615.2,502.9 L1614.2,502.9 L1613.1,503.0 L1612.1,503.0 L1611.1,503.0 L1610.0,503.0 L1609.0,503.0 L1608.0,503.0 L1606.9,503.0 L1605.9,503.0 L1604.9,503.0 L1603.8,503.1 L1602.8,503.1 L1601.8,503.1 L1600.7,503.1 L1599.7,503.1 L1598.7,503.1 L1597.6,503.1 L1596.6,503.1 L1595.6,503.1 L1594.5,503.2 L1593.5,503.2 L1592.5,503.2 L1591.4,503.2 L1590.4,503.2 L1589.4,503.2 L1588.3,503.2 L1587.3,503.2 L1586.3,503.2 L1585.2,503.3 L1584.2,503.3 L1583.2,503.3 L1582.2,503.3 L1581.1,503.3 L1580.1,503.3 L1579.1,503.3 L1578.0,503.3 L1577.0,503.3 L1576.0,503.4 L1574.9,503.4 L1573.9,503.4 L1572.9,503.4 L1571.8,503.4 L1570.8,503.4 L1569.8,503.4 L1568.7,503.4 L1567.7,503.4 L1566.7,503.5 L1565.6,503.5 L1564.6,503.5 L1563.6,503.5 L1562.5,503.5 L1561.5,503.5 L1560.5,503.5 L1559.4,503.5 L1558.4,503.5 L1557.4,503.5 L1556.3,503.6 L1555.3,503.6 L1554.3,503.6 L1553.2,503.6 L1552.2,503.6 L1551.2,503.6 L1550.1,503.6 L1549.1,503.6 L1548.1,503.6 L1547.1,503.7 L1546.0,503.7 L1545.0,503.7 L1544.0,503.7 L1542.9,503.7 L1541.9,503.7 L1540.9,503.7 L1539.8,503.7 L1538.8,503.7 L1537.8,503.8 L1536.7,503.8 L1535.7,503.8 L1534.7,503.8 L1533.6,503.8 L1532.6,503.8 L1531.6,503.8 L1530.5,503.8 L1529.5,503.8 L1528.5,503.8 L1527.4,503.9 L1526.4,503.9 L1525.4,503.9 L1524.3,503.9 L1523.3,503.9 L1522.3,503.9 L1521.2,503.9 L1520.2,503.9 L1519.2,503.9 L1518.1,504.0 L1517.1,504.0 L1516.1,504.0 L1515.1,504.0 L1514.0,504.0 L1513.0,504.0 L1512.0,504.0 L1510.9,504.0 L1509.9,504.0 L1508.9,504.0 L1507.8,504.1 L1506.8,504.1 L1505.8,504.1 L1504.7,504.1 L1503.7,504.1 L1502.7,504.1 L1501.6,504.1 L1500.6,504.1 L1499.6,504.1 L1498.5,504.1 L1497.5,504.2 L1496.5,504.2 L1495.4,504.2 L1494.4,504.2 L1493.4,504.2 L1492.3,504.2 L1491.3,504.2 L1490.3,504.2 L1489.2,504.2 L1488.2,504.3 L1487.2,504.3 L1486.1,504.3 L1485.1,504.3 L1484.1,504.3 L1483.0,504.3 L1482.0,504.3 L1481.0,504.3 L1480.0,504.3 L1478.9,504.3 L1477.9,504.4 L1476.9,504.4 L1475.8,504.4 L1474.8,504.4 L1473.8,504.4 L1472.7,504.4 L1471.7,504.4 L1470.7,504.4 L1469.6,504.4 L1468.6,504.4 L1467.6,504.5 L1466.5,504.5 L1465.5,504.5 L1464.5,504.5 L1463.4,504.5 L1462.4,504.5 L1461.4,504.5 L1460.3,504.5 L1459.3,504.5 L1458.3,504.5 L1457.2,504.6 L1456.2,504.6 L1455.2,504.6 L1454.1,504.6 L1453.1,504.6 L1452.1,504.6 L1451.0,504.6 L1450.0,504.6 L1449.0,504.6 L1448.0,504.7 L1446.9,504.7 L1445.9,504.7 L1444.9,504.7 L1443.8,504.7 L1442.8,504.7 L1441.8,504.7 L1440.7,504.7 L1439.7,504.7 L1438.7,504.7Z" fill="#0000ff"/>
<path d="M1438.7,504.9 L1439.7,504.9 L1440.7,504.9 L1441.8,504.8 L1442.8,504.8 L1443.8,504.8 L1444.9,504.8 L1445.9,504.8 L1446.9,504.8 L1448.0,504.8 L1449.0,504.8 L1450.0,504.8 L1451.0,504.8 L1452.1,504.7 L1453.1,504.7 L1454.1,504.7 L1455.2,504.7 L1456.2,504.7 L1457.2,504.7 L1458.3,504.7 L1459.3,504.7 L1460.3,504.7 L1461.4,504.7 L1462.4,504.6 L1463.4,504.6 L1464.5,504.6 L1465.5,504.6 L1466.5,504.6 L1467.6,504.6 L1468.6,504.6 L1469.6,504.6 L1470.7,504.6 L1471.7,504.6 L1472.7,504.6 L1473.8,504.5 L1474.8,504.5 L1475.8,504.5 L1476.9,504.5 L1477.9,504.5 L1478.9,504.5 L1480.0,504.5 L1481.0,504.5 L1482.0,504.5 L1483.0,504.5 L1484.1,504.4 L1485.1,504.4 L1486.1,504.4 L1487.2,504.4 L1488.2,504.4 L1489.2,504.4 L1490.3,504.4 L1491.3,504.4 L1492.3,504.4 L1493.4,504.4 L1494.4,504.3 L1495.4,504.3 L1496.5,504.3 L1497.5,504.3 L1498.5,504.3 L1499.6,504.3 L1500.6,504.3 L1501.6,504.3 L1502.7,504.3 L1503.7,504.3 L1504.7,504.3 L1505.8,504.2 L1506.8,504.2 L1507.8,504.2 L1508.9,504.2 L1509.9,504.2 L1510.9,504.2 L1512.0,504.2 L1513.0,504.2 L1514.0,504.2 L1515.1,504.2 L1516.1,504.1 L1517.1,504.1 L1518.1,504.1 L1519.2,504.1 L1520.2,504.1 L1521.2,504.1 L1522.3,504.1 L1523.3,504.1 L1524.3,504.1 L1525.4,504.1 L1526.4,504.0 L1527.4,504.0 L1528.5,504.0 L1529.5,504.0 L1530.5,504.0 L1531.6,504.0 L1532.6,504.0 L1533.6,504.0 L1534.7,504.0 L1535.7,504.0 L1536.7,504.0 L1537.8,503.9 L1538.8,503.9 L1539.8,503.9 L1540.9,503.9 L1541.9,503.9 L1542.9,503.9 L1544.0,503.9 L1545.0,503.9 L1546.0,503.9 L1547.1,503.9 L1548.1,503.8 L1549.1,503.8 L1550.1,503.8 L1551.2,503.8 L1552.2,503.8 L1553.2,503.8 L1554.3,503.8 L1555.3,503.8 L1556.3,503.8 L1557.4,503.8 L1558.4,503.7 L1559.4,503.7 L1560.5,503.7 L1561.5,503.7 L1562.5,503.7 L1563.6,503.7 L1564.6,503.7 L1565.6,503.7 L1566.7,503.7 L1567.7,503.7 L1568.7,503.7 L1569.8,503.6 L1570.8,503.6 L1571.8,503.6 L1572.9,503.6 L1573.9,503.6 L1574.9,503.6 L1576.0,503.6 L1577.0,503.6 L1578.0,503.6 L1579.1,503.6 L1580.1,503.5 L1581.1,503.5 L1582.2,503.5 L1583.2,503.5 L1584.2,503.5 L1585.2,503.5 L1586.3,503.5 L1587.3,503.5 L1588.3,503.5 L1589.4,503.5 L1590.4,503.4 L1591.4,503.4 L1592.5,503.4 L1593.5,503.4 L1594.5,503.4 L1595.6,503.4 L1596.6,503.4 L1597.6,503.4 L1598.7,503.4 L1599.7,503.4 L1600.7,503.3 L1601.8,503.3 L1602.8,503.3 L1603.8,503.3 L1604.9,503.3 L1605.9,503.3 L1606.9,503.3 L1608.0,503.3 L1609.0,503.3 L1610.0,503.3 L1611.1,503.2 L1612.1,503.2 L1613.1,503.2 L1614.2,503.2 L1615.2,503.2 L1616.2,503.2 L1617.2,503.2 L1618.3,503.2 L1619.3,503.2 L1620.3,503.2 L1621.4,503.1 L1622.4,503.1 L1623.4,503.1 L1624.5,503.1 L1625.5,503.1 L1626.5,503.1 L1627.6,503.1 L1628.6,503.1 L1629.6,503.1 L1630.7,503.0 L1631.7,503.0 L1632.7,503.0 L1633.8,503.0 L1634.8,503.0 L1635.8,503.0 L1636.9,503.0 L1637.9,503.0 L1638.9,503.0 L1640.0,502.9 L1641.0,502.9 L1642.0,502.9 L1643.1,502.9 L1644.1,502.9 L1645.1,502.9 L1646.2,502.9 L1647.2,502.9 L1648.2,502.8 L1649.2,502.8 L1650.3,502.8 L1651.3,502.8 L1652.3,502.8 L1653.4,502.8 L1654.4,502.8 L1655.4,502.7 L1656.5,502.7 L1657.5,502.7 L1658.5,502.7 L1659.6,502.7 L1660.6,502.6 L1661.6,502.6 L1662.7,502.6 L1663.7,502.6 L1664.7,502.6 L1665.8,502.5 L1666.8,502.5 L1667.8,502.5 L1668.9,502.4 L1669.9,502.4 L1670.9,502.4 L1672.0,502.3 L1673.0,502.3 L1674.0,502.3 L1675.1,502.2 L1676.1,502.2 L1677.1,502.1 L1678.2,502.1 L1679.2,502.1 L1680.2,502.0 L1681.3,501.9 L1682.3,501.9 L1683.3,501.8 L1684.3,501.8 L1685.4,501.7 L1686.4,501.6 L1687.4,501.6 L1688.5,501.5 L1689.5,501.4 L1690.5,501.3 L1691.6,501.2 L1692.6,501.1 L1693.6,501.0 L1694.7,500.9 L1695.7,500.8 L1696.7,500.7 L1697.8,500.6 L1698.8,500.4 L1699.8,500.3 L1700.9,500.2 L1701.9,500.0 L1702.9,499.9 L1704.0,499.7 L1705.0,499.6 L1706.0,499.4 L1707.1,499.2 L1708.1,499.0 L1709.1,498.9 L1710.2,498.7 L1711.2,498.5 L1712.2,498.3 L1713.3,498.1 L1714.3,497.8 L1715.3,497.6 L1716.3,497.4 L1717.4,497.2 L1718.4,496.9 L1719.4,496.7 L1720.5,496.4 L1721.5,496.2 L1722.5,495.9 L1723.6,495.7 L1724.6,495.4 L1725.6,495.1 L1726.7,494.8 L1727.7,494.6 L1728.7,494.3 L1729.8,494.0 L1730.8,493.7 L1731.8,493.4 L1732.9,493.2 L1733.9,492.9 L1734.9,492.6 L1736.0,492.3 L1737.0,492.0 L1738.0,491.7 L1739.1,491.5 L1740.1,491.2 L1741.1,490.9 L1742.2,490.6 L1743.2,490.4 L1744.2,490.1 L1745.3,489.9 L1746.3,489.6 L1747.3,489.4 L1748.4,489.2 L1749.4,489.0 L1750.4,488.8 L1751.4,488.6 L1752.5,488.4 L1753.5,488.2 L1754.5,488.0 L1755.6,487.9 L1756.6,487.8 L1757.6,487.6 L1758.7,487.5 L1759.7,487.4 L1760.7,487.4 L1761.8,487.3 L1762.8,487.2 L1763.8,487.2 L1764.9,487.2 L1765.9,487.2 L1766.9,487.2 L1768.0,487.2 L1769.0,487.3 L1770.0,487.3 L1771.1,487.4 L1772.1,487.5 L1773.1,487.6 L1774.2,487.7 L1775.2,487.9 L1776.2,488.0 L1777.3,488.2 L1778.3,488.3 L1779.3,488.5 L1780.4,488.7 L1781.4,488.9 L1782.4,489.2 L1783.4,489.4 L1784.5,489.6 L1785.5,489.9 L1786.5,490.2 L1787.6,490.4 L1788.6,490.7 L1789.6,491.0 L1790.7,491.3 L1791.7,491.6 L1792.7,491.9 L1793.8,492.2 L1794.8,492.5 L1795.8,492.8 L1796.9,493.1 L1797.9,493.4 L1798.9,493.8 L1800.0,494.1 L1801.0,494.4 L1802.0,494.7 L1803.1,495.0 L1804.1,495.4 L1805.1,495.7 L1806.2,496.0 L1807.2,496.3 L1808.2,496.6 L1809.3,496.9 L1810.3,497.2 L1811.3,497.5 L1812.4,497.8 L1813.4,498.1 L1814.4,498.4 L1815.5,498.7 L1816.5,499.0 L1817.5,499.3 L1818.5,499.5 L1819.6,499.8 L1820.6,500.1 L1821.6,500.3 L1822.7,500.6 L1823.7,500.8 L1824.7,501.1 L1825.8,501.3 L1826.8,501.5 L1827.8,501.7 L1828.9,502.0 L1829.9,502.2 L1830.9,502.4 L1832.0,502.6 L1833.0,502.8 L1834.0,503.0 L1835.1,503.2 L1836.1,503.4 L1837.1,503.6 L1838.2,503.7 L1839.2,503.9 L1840.2,504.1 L1841.3,504.3 L1842.3,504.4 L1843.3,504.6 L1844.4,504.8 L1845.4,504.9 L1846.4,505.1 L1847.5,505.3 L1848.5,505.4 L1849.5,505.6 L1850.5,505.7 L1851.6,505.9 L1852.6,506.0 L1853.6,506.2 L1854.7,506.3 L1855.7,506.5 L1856.7,506.6 L1857.8,506.8 L1858.8,506.9 L1859.8,507.1 L1860.9,507.2 L1861.9,507.4 L1862.9,507.5 L1864.0,507.7 L1865.0,507.9 L1866.0,508.0 L1867.1,508.2 L1868.1,508.3 L1869.1,508.5 L1870.2,508.7 L1871.2,508.8 L1872.2,509.0 L1873.3,509.2 L1874.3,509.4 L1875.3,509.5 L1876.4,509.7 L1877.4,509.9 L1878.4,510.1 L1879.5,510.3 L1880.5,510.5 L1881.5,510.7 L1882.6,510.9 L1883.6,511.1 L1884.6,511.3 L1885.6,511.5 L1886.7,511.7 L1887.7,512.0 L1888.7,512.2 L1889.8,512.4 L1890.8,512.7 L1891.8,512.9 L1892.9,513.1 L1893.9,513.4 L1894.9,513.6 L1896.0,513.9 L1897.0,514.1 L1898.0,514.4 L1899.1,514.7 L1900.1,514.9 L1901.1,515.2 L1902.2,515.5 L1903.2,515.8 L1904.2,516.1 L1905.3,516.4 L1906.3,516.6 L1907.3,516.9 L1908.4,517.2 L1909.4,517.5 L1910.4,517.8 L1911.5,518.2 L1912.5,518.5 L1913.5,518.8 L1914.6,519.1 L1915.6,519.4 L1916.6,519.7 L1917.6,520.1 L1918.7,520.4 L1919.7,520.7 L1920.7,521.0 L1921.8,521.4 L1922.8,521.7 L1923.8,522.0 L1924.9,522.4 L1925.9,522.7 L1926.9,523.0 L1928.0,523.3 L1929.0,523.7 L1930.0,524.0 L1931.1,524.3 L1932.1,524.7 L1933.1,525.0 L1934.2,525.3 L1935.2,525.6 L1936.2,526.0 L1937.3,526.3 L1938.3,526.6 L1939.3,526.9 L1940.4,527.2 L1941.4,527.5 L1942.4,527.9 L1943.5,528.2 L1944.5,528.5 L1945.5,528.8 L1946.6,529.1 L1947.6,529.4 L1948.6,529.6 L1949.7,529.9 L1950.7,530.2 L1951.7,530.5 L1952.7,530.8 L1953.8,531.0 L1954.8,531.3 L1955.8,531.5 L1956.9,531.8 L1957.9,532.1 L1958.9,532.3 L1960.0,532.5 L1961.0,532.8 L1962.0,533.0 L1963.1,533.2 L1964.1,533.4 L1965.1,533.7 L1966.2,533.9 L1967.2,534.1 L1968.2,534.3 L1969.3,534.5 L1970.3,534.6 L1971.3,534.8 L1972.4,535.0 L1973.4,535.2 L1974.4,535.3 L1975.5,535.5 L1976.5,535.7 L1977.5,535.8 L1978.6,536.0 L1979.6,536.1 L1980.6,536.2 L1981.7,536.4 L1982.7,536.5 L1983.7,536.6 L1984.7,536.7 L1985.8,536.9 L1986.8,537.0 L1987.8,537.1 L1988.9,537.2 L1989.9,537.3 L1990.9,537.4 L1992.0,537.5 L1993.0,537.5 L1994.0,537.6 L1995.1,537.7 L1996.1,537.8 L1997.1,537.8 L1998.2,537.9 L1999.2,538.0 L2000.2,538.0 L2001.3,538.1 L2002.3,538.1 L2003.3,538.2 L2004.4,538.2 L2005.4,538.3 L2006.4,538.3 L2007.5,538.4 L2008.5,538.4 L2009.5,538.5 L2010.6,538.5 L2011.6,538.5 L2012.6,538.6 L2013.7,538.6 L2014.7,538.6 L2015.7,538.6 L2016.7,538.7 L2017.8,538.7 L2018.8,538.7 L2019.8,538.7 L2020.9,538.7 L2021.9,538.7 L2022.9,538.8 L2024.0,538.8 L2025.0,538.8 L2026.0,538.8 L2027.1,538.8 L2028.1,538.8 L2029.1,538.8 L2030.2,538.8 L2031.2,538.8 L2032.2,538.8 L2033.3,538.8 L2034.3,538.8 L2035.3,538.9 L2036.4,538.9 L2037.4,538.9 L2038.4,538.9 L2039.5,538.9 L2040.5,538.9 L2041.5,538.9 L2042.6,538.9 L2043.6,538.8 L2044.6,538.8 L2045.7,538.8 L2046.7,538.8 L2047.7,538.8 L2048.8,538.8 L2049.8,538.8 L2050.8,538.8 L2051.8,538.8 L2052.9,538.8 L2053.9,538.8 L2054.9,538.8 L2056.0,538.8 L2057.0,538.8 L2058.0,538.8 L2059.1,538.8 L2060.1,538.8 L2061.1,538.8 L2062.2,538.8 L2063.2,538.8 L2064.2,538.7 L2065.3,538.7 L2066.3,538.7 L2067.3,538.7 L2068.4,538.7 L2069.4,538.7 L2070.4,538.7 L2071.5,538.7 L2072.5,538.7 L2073.5,538.7 L2074.6,538.7 L2075.6,538.7 L2076.6,538.7 L2077.7,538.7 L2078.7,538.6 L2079.7,538.6 L2080.8,538.6 L2081.8,538.6 L2082.8,538.6 L2083.8,538.6 L2084.9,538.6 L2085.9,538.6 L2086.9,538.6 L2088.0,538.6 L2089.0,538.6 L2090.0,538.6 L2091.1,538.5 L2092.1,538.5 L2093.1,538.5 L2094.2,538.5 L2095.2,538.5 L2096.2,538.5 L2097.3,538.5 L2098.3,538.5 L2099.3,538.5 L2100.4,538.5 L2101.4,538.5 L2102.4,538.5 L2103.5,538.4 L2104.5,538.4 L2105.5,538.4 L2106.6,538.4 L2107.6,538.4 L2108.6,538.4 L2109.7,538.4 L2110.7,538.4 L2111.7,538.4 L2112.8,538.4 L2113.8,538.4 L2114.8,538.4 L2115.9,538.3 L2116.9,538.3 L2117.9,538.3 L2118.9,538.3 L2120.0,538.3 L2121.0,538.3 L2122.0,538.3 L2123.1,538.3 L2124.1,538.3 L2125.1,538.3 L2126.2,538.3 L2127.2,538.2 L2128.2,538.2 L2129.3,538.2 L2130.3,538.2 L2131.3,538.2 L2132.4,538.2 L2133.4,538.2 L2134.4,538.2 L2135.5,538.2 L2136.5,538.2 L2137.5,538.2 L2138.6,538.2 L2139.6,538.1 L2140.6,538.1 L2141.7,538.1 L2142.7,538.1 L2143.7,538.1 L2144.8,538.1 L2145.8,538.1 L2146.8,538.1 L2147.9,538.1 L2148.9,538.1 L2149.9,538.1 L2150.9,538.0 L2152.0,538.0 L2153.0,538.0 L2154.0,538.0 L2155.1,538.0 L2156.1,538.0 L2157.1,538.0 L2158.2,538.0 L2159.2,538.0 L2160.2,538.0 L2160.2,537.9 L2159.2,537.9 L2158.2,537.9 L2157.1,537.9 L2156.1,537.9 L2155.1,537.9 L2154.0,537.9 L2153.0,537.9 L2152.0,537.9 L2150.9,537.9 L2149.9,538.0 L2148.9,538.0 L2147.9,538.0 L2146.8,538.0 L2145.8,538.0 L2144.8,538.0 L2143.7,538.0 L2142.7,538.0 L2141.7,538.0 L2140.6,538.0 L2139.6,538.0 L2138.6,538.0 L2137.5,538.0 L2136.5,538.1 L2135.5,538.1 L2134.4,538.1 L2133.4,538.1 L2132.4,538.1 L2131.3,538.1 L2130.3,538.1 L2129.3,538.1 L2128.2,538.1 L2127.2,538.1 L2126.2,538.1 L2125.1,538.1 L2124.1,538.2 L2123.1,538.2 L2122.0,538.2 L2121.0,538.2 L2120.0,538.2 L2118.9,538.2 L2117.9,538.2 L2116.9,538.2 L2115.9,538.2 L2114.8,538.2 L2113.8,538.2 L2112.8,538.2 L2111.7,538.2 L2110.7,538.3 L2109.7,538.3 L2108.6,538.3 L2107.6,538.3 L2106.6,538.3 L2105.5,538.3 L2104.5,538.3 L2103.5,538.3 L2102.4,538.3 L2101.4,538.3 L2100.4,538.3 L2099.3,538.3 L2098.3,538.3 L2097.3,538.3 L2096.2,538.4 L2095.2,538.4 L2094.2,538.4 L2093.1,538.4 L2092.1,538.4 L2091.1,538.4 L2090.0,538.4 L2089.0,538.4 L2088.0,538.4 L2086.9,538.4 L2085.9,538.4 L2084.9,538.4 L2083.8,538.4 L2082.8,538.4 L2081.8,538.5 L2080.8,538.5 L2079.7,538.5 L2078.7,538.5 L2077.7,538.5 L2076.6,538.5 L2075.6,538.5 L2074.6,538.5 L2073.5,538.5 L2072.5,538.5 L2071.5,538.5 L2070.4,538.5 L2069.4,538.5 L2068.4,538.5 L2067.3,538.5 L2066.3,538.5 L2065.3,538.5 L2064.2,538.6 L2063.2,538.6 L2062.2,538.6 L2061.1,538.6 L2060.1,538.6 L2059.1,538.6 L2058.0,538.6 L2057.0,538.6 L2056.0,538.6 L2054.9,538.6 L2053.9,538.6 L2052.9,538.6 L2051.8,538.6 L2050.8,538.6 L2049.8,538.6 L2048.8,538.6 L2047.7,538.6 L2046.7,538.6 L2045.7,538.6 L2044.6,538.6 L2043.6,538.6 L2042.6,538.6 L2041.5,538.6 L2040.5,538.6 L2039.5,538.6 L2038.4,538.6 L2037.4,538.6 L2036.4,538.6 L2035.3,538.6 L2034.3,538.6 L2033.3,538.6 L2032.2,538.6 L2031.2,538.6 L2030.2,538.6 L2029.1,538.5 L2028.1,538.5 L2027.1,538.5 L2026.0,538.5 L2025.0,538.5 L2024.0,538.5 L2022.9,538.5 L2021.9,538.4 L2020.9,538.4 L2019.8,538.4 L2018.8,538.4 L2017.8,538.4 L2016.7,538.3 L2015.7,538.3 L2014.7,538.3 L2013.7,538.2 L2012.6,538.2 L2011.6,538.2 L2010.6,538.1 L2009.5,538.1 L2008.5,538.1 L2007.5,538.0 L2006.4,538.0 L2005.4,537.9 L2004.4,537.9 L2003.3,537.8 L2002.3,537.7 L2001.3,537.7 L2000.2,537.6 L1999.2,537.6 L1998.2,537.5 L1997.1,537.4 L1996.1,537.3 L1995.1,537.2 L1994.0,537.1 L1993.0,537.1 L1992.0,537.0 L1990.9,536.9 L1989.9,536.7 L1988.9,536.6 L1987.8,536.5 L1986.8,536.4 L1985.8,536.3 L1984.7,536.1 L1983.7,536.0 L1982.7,535.9 L1981.7,535.7 L1980.6,535.6 L1979.6,535.4 L1978.6,535.2 L1977.5,535.1 L1976.5,534.9 L1975.5,534.7 L1974.4,534.5 L1973.4,534.3 L1972.4,534.1 L1971.3,533.9 L1970.3,533.6 L1969.3,533.4 L1968.2,533.2 L1967.2,532.9 L1966.2,532.6 L1965.1,532.4 L1964.1,532.1 L1963.1,531.8 L1962.0,531.5 L1961.0,531.2 L1960.0,530.9 L1958.9,530.6 L1957.9,530.2 L1956.9,529.9 L1955.8,529.5 L1954.8,529.2 L1953.8,528.8 L1952.7,528.4 L1951.7,528.0 L1950.7,527.6 L1949.7,527.2 L1948.6,526.7 L1947.6,526.3 L1946.6,525.8 L1945.5,525.3 L1944.5,524.9 L1943.5,524.4 L1942.4,523.8 L1941.4,523.3 L1940.4,522.8 L1939.3,522.2 L1938.3,521.6 L1937.3,521.0 L1936.2,520.4 L1935.2,519.8 L1934.2,519.2 L1933.1,518.6 L1932.1,517.9 L1931.1,517.2 L1930.0,516.5 L1929.0,515.8 L1928.0,515.1 L1926.9,514.3 L1925.9,513.6 L1924.9,512.8 L1923.8,512.0 L1922.8,511.2 L1921.8,510.3 L1920.7,509.5 L1919.7,508.6 L1918.7,507.8 L1917.6,506.9 L1916.6,505.9 L1915.6,505.0 L1914.6,504.0 L1913.5,503.1 L1912.5,502.1 L1911.5,501.1 L1910.4,500.1 L1909.4,499.0 L1908.4,498.0 L1907.3,496.9 L1906.3,495.8 L1905.3,494.7 L1904.2,493.6 L1903.2,492.5 L1902.2,491.3 L1901.1,490.2 L1900.1,489.0 L1899.1,487.8 L1898.0,486.7 L1897.0,485.4 L1896.0,484.2 L1894.9,483.0 L1893.9,481.8 L1892.9,480.6 L1891.8,479.3 L1890.8,478.1 L1889.8,476.8 L1888.7,475.6 L1887.7,474.3 L1886.7,473.0 L1885.6,471.8 L1884.6,470.5 L1883.6,469.3 L1882.6,468.0 L1881.5,466.8 L1880.5,465.5 L1879.5,464.3 L1878.4,463.1 L1877.4,461.9 L1876.4,460.7 L1875.3,459.5 L1874.3,458.3 L1873.3,457.2 L1872.2,456.1 L1871.2,455.0 L1870.2,453.9 L1869.1,452.8 L1868.1,451.8 L1867.1,450.8 L1866.0,449.8 L1865.0,448.8 L1864.0,447.9 L1862.9,447.0 L1861.9,446.2 L1860.9,445.4 L1859.8,444.6 L1858.8,443.8 L1857.8,443.1 L1856.7,442.5 L1855.7,441.8 L1854.7,441.3 L1853.6,440.7 L1852.6,440.2 L1851.6,439.8 L1850.5,439.4 L1849.5,439.0 L1848.5,438.7 L1847.5,438.5 L1846.4,438.3 L1845.4,438.1 L1844.4,438.0 L1843.3,437.9 L1842.3,437.9 L1841.3,438.0 L1840.2,438.0 L1839.2,438.2 L1838.2,438.4 L1837.1,438.6 L1836.1,438.8 L1835.1,439.2 L1834.0,439.5 L1833.0,439.9 L1832.0,440.4 L1830.9,440.8 L1829.9,441.4 L1828.9,441.9 L1827.8,442.5 L1826.8,443.1 L1825.8,443.8 L1824.7,444.5 L1823.7,445.2 L1822.7,446.0 L1821.6,446.8 L1820.6,447.6 L1819.6,448.4 L1818.5,449.3 L1817.5,450.2 L1816.5,451.1 L1815.5,452.0 L1814.4,452.9 L1813.4,453.9 L1812.4,454.8 L1811.3,455.8 L1810.3,456.8 L1809.3,457.8 L1808.2,458.8 L1807.2,459.8 L1806.2,460.8 L1805.1,461.8 L1804.1,462.8 L1803.1,463.8 L1802.0,464.8 L1801.0,465.8 L1800.0,466.8 L1798.9,467.8 L1797.9,468.8 L1796.9,469.8 L1795.8,470.7 L1794.8,471.7 L1793.8,472.7 L1792.7,473.6 L1791.7,474.5 L1790.7,475.4 L1789.6,476.3 L1788.6,477.2 L1787.6,478.1 L1786.5,478.9 L1785.5,479.8 L1784.5,480.6 L1783.4,481.4 L1782.4,482.2 L1781.4,482.9 L1780.4,483.7 L1779.3,484.4 L1778.3,485.1 L1777.3,485.8 L1776.2,486.5 L1775.2,487.1 L1774.2,487.8 L1773.1,488.4 L1772.1,489.0 L1771.1,489.6 L1770.0,490.1 L1769.0,490.7 L1768.0,491.2 L1766.9,491.7 L1765.9,492.2 L1764.9,492.6 L1763.8,493.1 L1762.8,493.5 L1761.8,493.9 L1760.7,494.3 L1759.7,494.7 L1758.7,495.1 L1757.6,495.4 L1756.6,495.8 L1755.6,496.1 L1754.5,496.4 L1753.5,496.7 L1752.5,497.0 L1751.4,497.3 L1750.4,497.5 L1749.4,497.8 L1748.4,498.0 L1747.3,498.2 L1746.3,498.4 L1745.3,498.7 L1744.2,498.8 L1743.2,499.0 L1742.2,499.2 L1741.1,499.4 L1740.1,499.5 L1739.1,499.7 L1738.0,499.8 L1737.0,499.9 L1736.0,500.1 L1734.9,500.2 L1733.9,500.3 L1732.9,500.4 L1731.8,500.5 L1730.8,500.6 L1729.8,500.7 L1728.7,500.8 L1727.7,500.9 L1726.7,500.9 L1725.6,501.0 L1724.6,501.1 L1723.6,501.1 L1722.5,501.2 L1721.5,501.3 L1720.5,501.3 L1719.4,501.4 L1718.4,501.4 L1717.4,501.5 L1716.3,501.5 L1715.3,501.6 L1714.3,501.6 L1713.3,501.6 L1712.2,501.7 L1711.2,501.7 L1710.2,501.7 L1709.1,501.8 L1708.1,501.8 L1707.1,501.8 L1706.0,501.9 L1705.0,501.9 L1704.0,501.9 L1702.9,501.9 L1701.9,502.0 L1700.9,502.0 L1699.8,502.0 L1698.8,502.0 L1697.8,502.0 L1696.7,502.1 L1695.7,502.1 L1694.7,502.1 L1693.6,502.1 L1692.6,502.1 L1691.6,502.2 L1690.5,502.2 L1689.5,502.2 L1688.5,502.2 L1687.4,502.2 L1686.4,502.2 L1685.4,502.3 L1684.3,502.3 L1683.3,502.3 L1682.3,502.3 L1681.3,502.3 L1680.2,502.3 L1679.2,502.3 L1678.2,502.4 L1677.1,502.4 L1676.1,502.4 L1675.1,502.4 L1674.0,502.4 L1673.0,502.4 L1672.0,502.4 L1670.9,502.4 L1669.9,502.5 L1668.9,502.5 L1667.8,502.5 L1666.8,502.5 L1665.8,502.5 L1664.7,502.5 L1663.7,502.5 L1662.7,502.6 L1661.6,502.6 L1660.6,502.6 L1659.6,502.6 L1658.5,502.6 L1657.5,502.6 L1656.5,502.6 L1655.4,502.6 L1654.4,502.6 L1653.4,502.7 L1652.3,502.7 L1651.3,502.7 L1650.3,502.7 L1649.2,502.7 L1648.2,502.7 L1647.2,502.7 L1646.2,502.7 L1645.1,502.8 L1644.1,502.8 L1643.1,502.8 L1642.0,502.8 L1641.0,502.8 L1640.0,502.8 L1638.9,502.8 L1637.9,502.8 L1636.9,502.8 L1635.8,502.9 L1634.8,502.9 L1633.8,502.9 L1632.7,502.9 L1631.7,502.9 L1630.7,502.9 L1629.6,502.9 L1628.6,502.9 L1627.6,502.9 L1626.5,503.0 L1625.5,503.0 L1624.5,503.0 L1623.4,503.0 L1622.4,503.0 L1621.4,503.0 L1620.3,503.0 L1619.3,503.0 L1618.3,503.0 L1617.2,503.1 L1616.2,503.1 L1615.2,503.1 L1614.2,503.1 L1613.1,503.1 L1612.1,503.1 L1611.1,503.1 L1610.0,503.1 L1609.0,503.1 L1608.0,503.2 L1606.9,503.2 L1605.9,503.2 L1604.9,503.2 L1603.8,503.2 L1602.8,503.2 L1601.8,503.2 L1600.7,503.2 L1599.7,503.2 L1598.7,503.3 L1597.6,503.3 L1596.6,503.3 L1595.6,503.3 L1594.5,503.3 L1593.5,503.3 L1592.5,503.3 L1591.4,503.3 L1590.4,503.3 L1589.4,503.3 L1588.3,503.4 L1587.3,503.4 L1586.3,503.4 L1585.2,503.4 L1584.2,503.4 L1583.2,503.4 L1582.2,503.4 L1581.1,503.4 L1580.1,503.4 L1579.1,503.5 L1578.0,503.5 L1577.0,503.5 L1576.0,503.5 L1574.9,503.5 L1573.9,503.5 L1572.9,503.5 L1571.8,503.5 L1570.8,503.5 L1569.8,503.5 L1568.7,503.6 L1567.7,503.6 L1566.7,503.6 L1565.6,503.6 L1564.6,503.6 L1563.6,503.6 L1562.5,503.6 L1561.5,503.6 L1560.5,503.6 L1559.4,503.6 L1558.4,503.7 L1557.4,503.7 L1556.3,503.7 L1555.3,503.7 L1554.3,503.7 L1553.2,503.7 L1552.2,503.7 L1551.2,503.7 L1550.1,503.7 L1549.1,503.8 L1548.1,503.8 L1547.1,503.8 L1546.0,503.8 L1545.0,503.8 L1544.0,503.8 L1542.9,503.8 L1541.9,503.8 L1540.9,503.8 L1539.8,503.8 L1538.8,503.9 L1537.8,503.9 L1536.7,503.9 L1535.7,503.9 L1534.7,503.9 L1533.6,503.9 L1532.6,503.9 L1531.6,503.9 L1530.5,503.9 L1529.5,503.9 L1528.5,504.0 L1527.4,504.0 L1526.4,504.0 L1525.4,504.0 L1524.3,504.0 L1523.3,504.0 L1522.3,504.0 L1521.2,504.0 L1520.2,504.0 L1519.2,504.0 L1518.1,504.1 L1517.1,504.1 L1516.1,504.1 L1515.1,504.1 L1514.0,504.1 L1513.0,504.1 L1512.0,504.1 L1510.9,504.1 L1509.9,504.1 L1508.9,504.1 L1507.8,504.2 L1506.8,504.2 L1505.8,504.2 L1504.7,504.2 L1503.7,504.2 L1502.7,504.2 L1501.6,504.2 L1500.6,504.2 L1499.6,504.2 L1498.5,504.2 L1497.5,504.3 L1496.5,504.3 L1495.4,504.3 L1494.4,504.3 L1493.4,504.3 L1492.3,504.3 L1491.3,504.3 L1490.3,504.3 L1489.2,504.3 L1488.2,504.3 L1487.2,504.4 L1486.1,504.4 L1485.1,504.4 L1484.1,504.4 L1483.0,504.4 L1482.0,504.4 L1481.0,504.4 L1480.0,504.4 L1478.9,504.4 L1477.9,504.4 L1476.9,504.5 L1475.8,504.5 L1474.8,504.5 L1473.8,504.5 L1472.7,504.5 L1471.7,504.5 L1470.7,504.5 L1469.6,504.5 L1468.6,504.5 L1467.6,504.5 L1466.5,504.6 L1465.5,504.6 L1464.5,504.6 L1463.4,504.6 L1462.4,504.6 L1461.4,504.6 L1460.3,504.6 L1459.3,504.6 L1458.3,504.6 L1457.2,504.6 L1456.2,504.7 L1455.2,504.7 L1454.1,504.7 L1453.1,504.7 L1452.1,504.7 L1451.0,504.7 L1450.0,504.7 L1449.0,504.7 L1448.0,504.7 L1446.9,504.7 L1445.9,504.8 L1444.9,504.8 L1443.8,504.8 L1442.8,504.8 L1441.8,504.8 L1440.7,504.8 L1439.7,504.8 L1438.7,504.8Z" fill="#008000"/>
<path d="M1678.2,502.1L1679.2,502.1L1680.2,502.0L1681.3,501.9L1682.3,501.9L1683.3,501.8L1684.3,501.8L1685.4,501.7L1686.4,501.6L1687.4,501.6L1688.5,501.5L1689.5,501.4L1690.5,501.3L1691.6,501.2L1692.6,501.1L1693.6,501.0L1694.7,500.9L1695.7,500.8L1696.7,500.7L1697.8,500.6L1698.8,500.4L1699.8,500.3L1700.9,500.2L1701.9,500.0L1702.9,499.9L1704.0,499.7L1705.0,499.6L1706.0,499.4L1707.1,499.2L1708.1,499.0L1709.1,498.9L1710.2,498.7L1711.2,498.5L1712.2,498.3L1713.3,498.1L1714.3,497.8L1715.3,497.6L1716.3,497.4L1717.4,497.2L1718.4,496.9L1719.4,496.7L1720.5,496.4L1721.5,496.2L1722.5,495.9L1723.6,495.7L1724.6,495.4L1725.6,495.1L1726.7,494.8L1727.7,494.6L1728.7,494.3L1729.8,494.0L1730.8,493.7L1731.8,493.4L1732.9,493.2L1733.9,492.9L1734.9,492.6L1736.0,492.3L1737.0,492.0L1738.0,491.7L1739.1,491.5L1740.1,491.2L1741.1,490.9L1742.2,490.6L1743.2,490.4L1744.2,490.1L1745.3,489.9L1746.3,489.6L1747.3,489.4L1748.4,489.2L1749.4,489.0L1750.4,488.8L1751.4,488.6L1752.5,488.4L1753.5,488.2L1754.5,488.0L1755.6,487.9L1756.6,487.8L1757.6,487.6L1758.7,487.5L1759.7,487.4L1760.7,487.4L1761.8,487.3L1762.8,487.2L1763.8,487.2L1764.9,487.2L1765.9,487.2L1766.9,487.2L1768.0,487.2L1769.0,487.3L1770.0,487.3L1771.1,487.4L1772.1,487.5L1773.1,487.6L1774.2,487.7L1775.2,487.9L1776.2,488.0L1777.3,488.2L1778.3,488.3L1779.3,488.5L1780.4,488.7L1781.4,488.9L1782.4,489.2L1783.4,489.4L1784.5,489.6L1785.5,489.9L1786.5,490.2L1787.6,490.4L1788.6,490.7L1789.6,491.0L1790.7,491.3L1791.7,491.6L1792.7,491.9L1793.8,492.2L1794.8,492.5L1795.8,492.8L1796.9,493.1L1797.9,493.4L1798.9,493.8L1800.0,494.1L1801.0,494.4L1802.0,494.7L1803.1,495.0L1804.1,495.4L1805.1,495.7L1806.2,496.0L1807.2,496.3L1808.2,496.6L1809.3,496.9L1810.3,497.2L1811.3,497.5L1812.4,497.8L1813.4,498.1L1814.4,498.4L1815.5,498.7L1816.5,499.0L1817.5,499.3L1818.5,499.5L1819.6,499.8L1820.6,500.1L1821.6,500.3L1822.7,500.6L1823.7,500.8L1824.7,501.1L1825.8,501.3L1826.8,501.5L1827.8,501.7L1828.9,502.0L1829.9,502.2L1830.9,502.4L1832.0,502.6L1833.0,502.8L1834.0,503.0L1835.1,503.2L1836.1,503.4L1837.1,503.6L1838.2,503.7L1839.2,503.9L1840.2,504.1L1841.3,504.3L1842.3,504.4L1843.3,504.6L1844.4,504.8L1845.4,504.9L1846.4,505.1L1847.5,505.3L1848.5,505.4L1849.5,505.6L1850.5,505.7L1851.6,505.9L1852.6,506.0L1853.6,506.2L1854.7,506.3L1855.7,506.5" fill="none" stroke="#8000ff" stroke-width="4.2"/>
<polyline points="1438.7,504.9 1439.7,504.9 1440.7,504.9 1441.8,504.9 1442.8,504.8 1443.8,504.8 1444.9,504.8 1445.9,504.8 1446.9,504.8 1448.0,504.8 1449.0,504.8 1450.0,504.8 1451.0,504.8 1452.1,504.8 1453.1,504.8 1454.1,504.7 1455.2,504.7 1456.2,504.7 1457.2,504.7 1458.3,504.7 1459.3,504.7 1460.3,504.7 1461.4,504.7 1462.4,504.7 1463.4,504.7 1464.5,504.6 1465.5,504.6 1466.5,504.6 1467.6,504.6 1468.6,504.6 1469.6,504.6 1470.7,504.6 1471.7,504.6 1472.7,504.6 1473.8,504.6 1474.8,504.6 1475.8,504.5 1476.9,504.5 1477.9,504.5 1478.9,504.5 1480.0,504.5 1481.0,504.5 1482.0,504.5 1483.0,504.5 1484.1,504.5 1485.1,504.5 1486.1,504.5 1487.2,504.4 1488.2,504.4 1489.2,504.4 1490.3,504.4 1491.3,504.4 1492.3,504.4 1493.4,504.4 1494.4,504.4 1495.4,504.4 1496.5,504.4 1497.5,504.3 1498.5,504.3 1499.6,504.3 1500.6,504.3 1501.6,504.3 1502.7,504.3 1503.7,504.3 1504.7,504.3 1505.8,504.3 1506.8,504.3 1507.8,504.3 1508.9,504.2 1509.9,504.2 1510.9,504.2 1512.0,504.2 1513.0,504.2 1514.0,504.2 1515.1,504.2 1516.1,504.2 1517.1,504.2 1518.1,504.2 1519.2,504.1 1520.2,504.1 1521.2,504.1 1522.3,504.1 1523.3,504.1 1524.3,504.1 1525.4,504.1 1526.4,504.1 1527.4,504.1 1528.5,504.1 1529.5,504.1 1530.5,504.0 1531.6,504.0 1532.6,504.0 1533.6,504.0 1534.7,504.0 1535.7,504.0 1536.7,504.0 1537.8,504.0 1538.8,504.0 1539.8,504.0 1540.9,503.9 1541.9,503.9 1542.9,503.9 1544.0,503.9 1545.0,503.9 1546.0,503.9 1547.1,503.9 1548.1,503.9 1549.1,503.9 1550.1,503.9 1551.2,503.9 1552.2,503.8 1553.2,503.8 1554.3,503.8 1555.3,503.8 1556.3,503.8 1557.4,503.8 1558.4,503.8 1559.4,503.8 1560.5,503.8 1561.5,503.8 1562.5,503.8 1563.6,503.7 1564.6,503.7 1565.6,503.7 1566.7,503.7 1567.7,503.7 1568.7,503.7 1569.8,503.7 1570.8,503.7 1571.8,503.7 1572.9,503.7 1573.9,503.7 1574.9,503.6 1576.0,503.6 1577.0,503.6 1578.0,503.6 1579.1,503.6 1580.1,503.6 1581.1,503.6 1582.2,503.6 1583.2,503.6 1584.2,503.6 1585.2,503.5 1586.3,503.5 1587.3,503.5 1588.3,503.5 1589.4,503.5 1590.4,503.5 1591.4,503.5 1592.5,503.5 1593.5,503.5 1594.5,503.5 1595.6,503.5 1596.6,503.4 1597.6,503.4 1598.7,503.4 1599.7,503.4 1600.7,503.4 1601.8,503.4 1602.8,503.4 1603.8,503.4 1604.9,503.4 1605.9,503.4 1606.9,503.4 1608.0,503.3 1609.0,503.3 1610.0,503.3 1611.1,503.3 1612.1,503.3 1613.1,503.3 1614.2,503.3 1615.2,503.3 1616.2,503.3 1617.2,503.3 1618.3,503.3 1619.3,503.2 1620.3,503.2 1621.4,503.2 1622.4,503.2 1623.4,503.2 1624.5,503.2 1625.5,503.2 1626.5,503.2 1627.6,503.2 1628.6,503.2 1629.6,503.2 1630.7,503.1 1631.7,503.1 1632.7,503.1 1633.8,503.1 1634.8,503.1 1635.8,503.1 1636.9,503.1 1637.9,503.1 1638.9,503.1 1640.0,503.1 1641.0,503.1 1642.0,503.0 1643.1,503.0 1644.1,503.0 1645.1,503.0 1646.2,503.0 1647.2,503.0 1648.2,503.0 1649.2,503.0 1650.3,503.0 1651.3,503.0 1652.3,503.0 1653.4,502.9 1654.4,502.9 1655.4,502.9 1656.5,502.9 1657.5,502.9 1658.5,502.9 1659.6,502.9 1660.6,502.9 1661.6,502.9 1662.7,502.9 1663.7,502.9 1664.7,502.8 1665.8,502.8 1666.8,502.8 1667.8,502.8 1668.9,502.8 1669.9,502.8 1670.9,502.8 1672.0,502.8 1673.0,502.8 1674.0,502.8 1675.1,502.8 1676.1,502.8 1677.1,502.7 1678.2,502.7 1679.2,502.7 1680.2,502.7 1681.3,502.7 1682.3,502.7 1683.3,502.7 1684.3,502.7 1685.4,502.7 1686.4,502.7 1687.4,502.7 1688.5,502.7 1689.5,502.6 1690.5,502.6 1691.6,502.6 1692.6,502.6 1693.6,502.6 1694.7,502.6 1695.7,502.6 1696.7,502.6 1697.8,502.6 1698.8,502.6 1699.8,502.6 1700.9,502.6 1701.9,502.6 1702.9,502.6 1704.0,502.5 1705.0,502.5 1706.0,502.5 1707.1,502.5 1708.1,502.5 1709.1,502.5 1710.2,502.5 1711.2,502.5 1712.2,502.5 1713.3,502.5 1714.3,502.5 1715.3,502.5 1716.3,502.5 1717.4,502.5 1718.4,502.5 1719.4,502.5 1720.5,502.5 1721.5,502.5 1722.5,502.5 1723.6,502.5 1724.6,502.5 1725.6,502.5 1726.7,502.5 1727.7,502.5 1728.7,502.5 1729.8,502.5 1730.8,502.5 1731.8,502.5 1732.9,502.5 1733.9,502.5 1734.9,502.5 1736.0,502.5 1737.0,502.5 1738.0,502.5 1739.1,502.5 1740.1,502.5 1741.1,502.5 1742.2,502.5 1743.2,502.5 1744.2,502.5 1745.3,502.5 1746.3,502.5 1747.3,502.5 1748.4,502.5 1749.4,502.5 1750.4,502.5 1751.4,502.5 1752.5,502.5 1753.5,502.6 1754.5,502.6 1755.6,502.6 1756.6,502.6 1757.6,502.6 1758.7,502.6 1759.7,502.6 1760.7,502.6 1761.8,502.6 1762.8,502.7 1763.8,502.7 1764.9,502.7 1765.9,502.7 1766.9,502.7 1768.0,502.7 1769.0,502.7 1770.0,502.8 1771.1,502.8 1772.1,502.8 1773.1,502.8 1774.2,502.8 1775.2,502.8 1776.2,502.9 1777.3,502.9 1778.3,502.9 1779.3,502.9 1780.4,502.9 1781.4,503.0 1782.4,503.0 1783.4,503.0 1784.5,503.0 1785.5,503.1 1786.5,503.1 1787.6,503.1 1788.6,503.1 1789.6,503.2 1790.7,503.2 1791.7,503.2 1792.7,503.2 1793.8,503.3 1794.8,503.3 1795.8,503.3 1796.9,503.4 1797.9,503.4 1798.9,503.4 1800.0,503.5 1801.0,503.5 1802.0,503.5 1803.1,503.6 1804.1,503.6 1805.1,503.6 1806.2,503.7 1807.2,503.7 1808.2,503.8 1809.3,503.8 1810.3,503.9 1811.3,503.9 1812.4,503.9 1813.4,504.0 1814.4,504.0 1815.5,504.1 1816.5,504.1 1817.5,504.2 1818.5,504.2 1819.6,504.3 1820.6,504.3 1821.6,504.4 1822.7,504.5 1823.7,504.5 1824.7,504.6 1825.8,504.6 1826.8,504.7 1827.8,504.8 1828.9,504.8 1829.9,504.9 1830.9,505.0 1832.0,505.0 1833.0,505.1 1834.0,505.2 1835.1,505.2 1836.1,505.3 1837.1,505.4 1838.2,505.5 1839.2,505.5 1840.2,505.6 1841.3,505.7 1842.3,505.8 1843.3,505.9 1844.4,506.0 1845.4,506.1 1846.4,506.2 1847.5,506.2 1848.5,506.3 1849.5,506.4 1850.5,506.5 1851.6,506.6 1852.6,506.7 1853.6,506.9 1854.7,507.0 1855.7,507.1 1856.7,507.2 1857.8,507.3 1858.8,507.4 1859.8,507.5 1860.9,507.7 1861.9,507.8 1862.9,507.9 1864.0,508.1 1865.0,508.2 1866.0,508.3 1867.1,508.5 1868.1,508.6 1869.1,508.8 1870.2,508.9 1871.2,509.1 1872.2,509.2 1873.3,509.4 1874.3,509.6 1875.3,509.7 1876.4,509.9 1877.4,510.1 1878.4,510.3 1879.5,510.5 1880.5,510.7 1881.5,510.9 1882.6,511.0 1883.6,511.2 1884.6,511.5 1885.6,511.7 1886.7,511.9 1887.7,512.1 1888.7,512.3 1889.8,512.5 1890.8,512.8 1891.8,513.0 1892.9,513.3 1893.9,513.5 1894.9,513.7 1896.0,514.0 1897.0,514.3 1898.0,514.5 1899.1,514.8 1900.1,515.0 1901.1,515.3 1902.2,515.6 1903.2,515.9 1904.2,516.2 1905.3,516.4 1906.3,516.7 1907.3,517.0 1908.4,517.3 1909.4,517.6 1910.4,517.9 1911.5,518.2 1912.5,518.6 1913.5,518.9 1914.6,519.2 1915.6,519.5 1916.6,519.8 1917.6,520.1 1918.7,520.5 1919.7,520.8 1920.7,521.1 1921.8,521.4 1922.8,521.8 1923.8,522.1 1924.9,522.4 1925.9,522.8 1926.9,523.1 1928.0,523.4 1929.0,523.7 1930.0,524.1 1931.1,524.4 1932.1,524.7 1933.1,525.1 1934.2,525.4 1935.2,525.7 1936.2,526.0 1937.3,526.3 1938.3,526.7 1939.3,527.0 1940.4,527.3 1941.4,527.6 1942.4,527.9 1943.5,528.2 1944.5,528.5 1945.5,528.8 1946.6,529.1 1947.6,529.4 1948.6,529.7 1949.7,530.0 1950.7,530.3 1951.7,530.5 1952.7,530.8 1953.8,531.1 1954.8,531.3 1955.8,531.6 1956.9,531.9 1957.9,532.1 1958.9,532.3 1960.0,532.6 1961.0,532.8 1962.0,533.0 1963.1,533.3 1964.1,533.5 1965.1,533.7 1966.2,533.9 1967.2,534.1 1968.2,534.3 1969.3,534.5 1970.3,534.7 1971.3,534.9 1972.4,535.0 1973.4,535.2 1974.4,535.4 1975.5,535.5 1976.5,535.7 1977.5,535.9 1978.6,536.0 1979.6,536.1 1980.6,536.3 1981.7,536.4 1982.7,536.5 1983.7,536.7 1984.7,536.8 1985.8,536.9 1986.8,537.0 1987.8,537.1 1988.9,537.2 1989.9,537.3 1990.9,537.4 1992.0,537.5 1993.0,537.6 1994.0,537.7 1995.1,537.7 1996.1,537.8 1997.1,537.9 1998.2,537.9 1999.2,538.0 2000.2,538.1 2001.3,538.1 2002.3,538.2 2003.3,538.2 2004.4,538.3 2005.4,538.3 2006.4,538.4 2007.5,538.4 2008.5,538.5 2009.5,538.5 2010.6,538.5 2011.6,538.6 2012.6,538.6 2013.7,538.6 2014.7,538.6 2015.7,538.7 2016.7,538.7 2017.8,538.7 2018.8,538.7 2019.8,538.7 2020.9,538.8 2021.9,538.8 2022.9,538.8 2024.0,538.8 2025.0,538.8 2026.0,538.8 2027.1,538.8 2028.1,538.8 2029.1,538.9 2030.2,538.9 2031.2,538.9 2032.2,538.9 2033.3,538.9 2034.3,538.9 2035.3,538.9 2036.4,538.9 2037.4,538.9 2038.4,538.9 2039.5,538.9 2040.5,538.9 2041.5,538.9 2042.6,538.9 2043.6,538.9 2044.6,538.9 2045.7,538.9 2046.7,538.9 2047.7,538.9 2048.8,538.9 2049.8,538.9 2050.8,538.8 2051.8,538.8 2052.9,538.8 2053.9,538.8 2054.9,538.8 2056.0,538.8 2057.0,538.8 2058.0,538.8 2059.1,538.8 2060.1,538.8 2061.1,538.8 2062.2,538.8 2063.2,538.8 2064.2,538.8 2065.3,538.8 2066.3,538.8 2067.3,538.7 2068.4,538.7 2069.4,538.7 2070.4,538.7 2071.5,538.7 2072.5,538.7 2073.5,538.7 2074.6,538.7 2075.6,538.7 2076.6,538.7 2077.7,538.7 2078.7,538.7 2079.7,538.7 2080.8,538.6 2081.8,538.6 2082.8,538.6 2083.8,538.6 2084.9,538.6 2085.9,538.6 2086.9,538.6 2088.0,538.6 2089.0,538.6 2090.0,538.6 2091.1,538.6 2092.1,538.6 2093.1,538.5 2094.2,538.5 2095.2,538.5 2096.2,538.5 2097.3,538.5 2098.3,538.5 2099.3,538.5 2100.4,538.5 2101.4,538.5 2102.4,538.5 2103.5,538.5 2104.5,538.5 2105.5,538.4 2106.6,538.4 2107.6,538.4 2108.6,538.4 2109.7,538.4 2110.7,538.4 2111.7,538.4 2112.8,538.4 2113.8,538.4 2114.8,538.4 2115.9,538.4 2116.9,538.3 2117.9,538.3 2118.9,538.3 2120.0,538.3 2121.0,538.3 2122.0,538.3 2123.1,538.3 2124.1,538.3 2125.1,538.3 2126.2,538.3 2127.2,538.3 2128.2,538.3 2129.3,538.2 2130.3,538.2 2131.3,538.2 2132.4,538.2 2133.4,538.2 2134.4,538.2 2135.5,538.2 2136.5,538.2 2137.5,538.2 2138.6,538.2 2139.6,538.2 2140.6,538.1 2141.7,538.1 2142.7,538.1 2143.7,538.1 2144.8,538.1 2145.8,538.1 2146.8,538.1 2147.9,538.1 2148.9,538.1 2149.9,538.1 2150.9,538.1 2152.0,538.0 2153.0,538.0 2154.0,538.0 2155.1,538.0 2156.1,538.0 2157.1,538.0 2158.2,538.0 2159.2,538.0 2160.2,538.0" fill="none" stroke="#c0c0c0" stroke-width="4.8"/>
<path d="M1488.3,506.5L1488.3,501.3 M1502.2,507.0L1500.9,502.0 M1514.2,506.7L1515.3,501.6 M1527.9,506.4L1528.2,501.2 M1541.0,506.8L1541.5,501.6 M1554.7,505.5L1554.4,500.3 M1567.2,505.7L1568.3,500.6 M1581.0,505.7L1581.0,500.5 M1594.3,505.5L1594.2,500.3 M1607.5,505.4L1607.4,500.2 M1620.7,505.2L1620.7,500.0 M1634.0,505.0L1633.9,499.8 M1647.2,504.8L1647.1,499.6 M1660.5,504.5L1660.4,499.3 M1673.8,504.0L1673.6,498.8 M1687.1,503.2L1686.7,498.0 M1700.5,501.6L1699.8,496.5 M1714.0,499.0L1712.8,493.9 M1727.5,495.0L1725.8,490.1 M1740.9,489.8L1738.9,485.0 M1754.2,483.8L1752.0,479.1 M1767.5,477.4L1765.2,472.8 M1780.9,470.3L1778.3,465.8 M1794.4,461.4L1791.3,457.2 M1807.9,449.6L1804.2,445.9 M1821.3,434.4L1817.3,431.2 M1834.7,415.5L1830.4,412.7 M1848.1,391.4L1843.4,389.1 M1861.5,359.0L1856.6,357.3 M1874.8,315.2L1869.8,313.8 M1888.0,260.6L1883.0,259.5 M1901.3,203.4L1896.2,202.1 M1914.4,158.2L1909.6,156.3 M1925.1,142.4L1925.4,137.3 M1936.0,160.6L1940.9,158.9 M1949.2,214.2L1954.3,213.2 M1962.4,287.8L1967.5,287.0 M1975.6,364.0L1980.7,363.0 M1988.9,429.0L1994.0,427.8 M2002.2,476.7L2007.1,475.0 M2015.7,507.2L2020.2,504.6 M2032.7,520.9L2036.2,517.1 M2045.3,528.9L2047.3,524.1 M2058.0,532.4L2058.9,527.3 M2071.0,533.9L2071.4,528.7 M2084.2,534.5L2084.3,529.3 M2097.4,534.7L2097.4,529.5 M2110.6,534.8L2110.6,529.6" stroke="#555" stroke-width="1.0" fill="none"/>
<polyline points="1438.7,503.8 1439.7,504.1 1440.7,504.3 1441.8,504.6 1442.8,504.9 1443.8,504.8 1444.9,504.7 1445.9,504.6 1446.9,504.6 1448.0,504.5 1449.0,504.4 1450.0,504.4 1451.0,504.3 1452.1,504.5 1453.1,504.6 1454.1,504.8 1455.2,504.9 1456.2,504.8 1457.2,504.7 1458.3,504.6 1459.3,504.4 1460.3,504.4 1461.4,504.4 1462.4,504.4 1463.4,504.4 1464.5,504.6 1465.5,504.8 1466.5,505.0 1467.6,505.3 1468.6,504.9 1469.6,504.5 1470.7,504.2 1471.7,503.8 1472.7,503.8 1473.8,503.9 1474.8,503.9 1475.8,504.0 1476.9,504.1 1477.9,504.3 1478.9,504.4 1480.0,504.6 1481.0,504.5 1482.0,504.4 1483.0,504.3 1484.1,504.3 1485.1,504.2 1486.1,504.1 1487.2,504.0 1488.2,503.9 1489.2,504.0 1490.3,504.1 1491.3,504.1 1492.3,504.2 1493.4,504.2 1494.4,504.2 1495.4,504.2 1496.5,504.2 1497.5,504.3 1498.5,504.5 1499.6,504.6 1500.6,504.8 1501.6,504.5 1502.7,504.2 1503.7,504.0 1504.7,503.7 1505.8,503.7 1506.8,503.8 1507.8,503.8 1508.9,503.9 1509.9,503.8 1510.9,503.8 1512.0,503.8 1513.0,503.7 1514.0,504.0 1515.1,504.2 1516.1,504.4 1517.1,504.6 1518.1,504.2 1519.2,503.8 1520.2,503.4 1521.2,502.9 1522.3,503.1 1523.3,503.3 1524.3,503.5 1525.4,503.7 1526.4,503.7 1527.4,503.8 1528.5,503.8 1529.5,503.9 1530.5,503.6 1531.6,503.3 1532.6,502.9 1533.6,502.6 1534.7,502.9 1535.7,503.1 1536.7,503.4 1537.8,503.6 1538.8,503.8 1539.8,504.0 1540.9,504.1 1541.9,504.3 1542.9,504.2 1544.0,504.0 1545.0,503.9 1546.0,503.7 1547.1,503.9 1548.1,504.2 1549.1,504.4 1550.1,504.6 1551.2,504.2 1552.2,503.8 1553.2,503.3 1554.3,502.9 1555.3,503.1 1556.3,503.2 1557.4,503.4 1558.4,503.6 1559.4,503.6 1560.5,503.6 1561.5,503.7 1562.5,503.7 1563.6,503.5 1564.6,503.2 1565.6,503.0 1566.7,502.8 1567.7,503.1 1568.7,503.3 1569.8,503.5 1570.8,503.5 1571.8,503.4 1572.9,503.2 1573.9,503.2 1574.9,503.2 1576.0,503.2 1577.0,503.1 1578.0,503.1 1579.1,503.1 1580.1,503.1 1581.1,503.1 1582.2,503.1 1583.2,503.1 1584.2,503.1 1585.2,503.0 1586.3,503.0 1587.3,503.0 1588.3,503.0 1589.4,503.0 1590.4,503.0 1591.4,503.0 1592.5,503.0 1593.5,502.9 1594.5,502.9 1595.6,502.9 1596.6,502.9 1597.6,502.9 1598.7,502.9 1599.7,502.9 1600.7,502.8 1601.8,502.8 1602.8,502.8 1603.8,502.8 1604.9,502.8 1605.9,502.8 1606.9,502.8 1608.0,502.8 1609.0,502.7 1610.0,502.7 1611.1,502.7 1612.1,502.7 1613.1,502.7 1614.2,502.7 1615.2,502.7 1616.2,502.6 1617.2,502.6 1618.3,502.6 1619.3,502.6 1620.3,502.6 1621.4,502.6 1622.4,502.6 1623.4,502.5 1624.5,502.5 1625.5,502.5 1626.5,502.5 1627.6,502.5 1628.6,502.5 1629.6,502.4 1630.7,502.4 1631.7,502.4 1632.7,502.4 1633.8,502.4 1634.8,502.4 1635.8,502.4 1636.9,502.3 1637.9,502.3 1638.9,502.3 1640.0,502.3 1641.0,502.3 1642.0,502.2 1643.1,502.2 1644.1,502.2 1645.1,502.2 1646.2,502.2 1647.2,502.2 1648.2,502.1 1649.2,502.1 1650.3,502.1 1651.3,502.1 1652.3,502.1 1653.4,502.0 1654.4,502.0 1655.4,502.0 1656.5,502.0 1657.5,501.9 1658.5,501.9 1659.6,501.9 1660.6,501.9 1661.6,501.8 1662.7,501.8 1663.7,501.8 1664.7,501.7 1665.8,501.7 1666.8,501.7 1667.8,501.6 1668.9,501.6 1669.9,501.6 1670.9,501.5 1672.0,501.5 1673.0,501.4 1674.0,501.4 1675.1,501.3 1676.1,501.3 1677.1,501.2 1678.2,501.2 1679.2,501.1 1680.2,501.1 1681.3,501.0 1682.3,500.9 1683.3,500.9 1684.3,500.8 1685.4,500.7 1686.4,500.6 1687.4,500.5 1688.5,500.4 1689.5,500.3 1690.5,500.2 1691.6,500.1 1692.6,500.0 1693.6,499.9 1694.7,499.8 1695.7,499.7 1696.7,499.5 1697.8,499.4 1698.8,499.3 1699.8,499.1 1700.9,498.9 1701.9,498.8 1702.9,498.6 1704.0,498.4 1705.0,498.2 1706.0,498.0 1707.1,497.8 1708.1,497.6 1709.1,497.4 1710.2,497.2 1711.2,497.0 1712.2,496.7 1713.3,496.5 1714.3,496.2 1715.3,496.0 1716.3,495.7 1717.4,495.4 1718.4,495.1 1719.4,494.8 1720.5,494.5 1721.5,494.2 1722.5,493.9 1723.6,493.5 1724.6,493.2 1725.6,492.9 1726.7,492.5 1727.7,492.1 1728.7,491.8 1729.8,491.4 1730.8,491.0 1731.8,490.6 1732.9,490.2 1733.9,489.8 1734.9,489.4 1736.0,489.0 1737.0,488.6 1738.0,488.2 1739.1,487.7 1740.1,487.3 1741.1,486.8 1742.2,486.4 1743.2,486.0 1744.2,485.5 1745.3,485.0 1746.3,484.6 1747.3,484.1 1748.4,483.6 1749.4,483.2 1750.4,482.7 1751.4,482.2 1752.5,481.8 1753.5,481.3 1754.5,480.8 1755.6,480.3 1756.6,479.8 1757.6,479.3 1758.7,478.8 1759.7,478.3 1760.7,477.8 1761.8,477.3 1762.8,476.8 1763.8,476.3 1764.9,475.8 1765.9,475.3 1766.9,474.8 1768.0,474.3 1769.0,473.8 1770.0,473.3 1771.1,472.7 1772.1,472.2 1773.1,471.6 1774.2,471.1 1775.2,470.5 1776.2,470.0 1777.3,469.4 1778.3,468.8 1779.3,468.2 1780.4,467.6 1781.4,467.0 1782.4,466.4 1783.4,465.7 1784.5,465.1 1785.5,464.4 1786.5,463.8 1787.6,463.1 1788.6,462.4 1789.6,461.6 1790.7,460.9 1791.7,460.1 1792.7,459.4 1793.8,458.6 1794.8,457.8 1795.8,456.9 1796.9,456.1 1797.9,455.2 1798.9,454.4 1800.0,453.5 1801.0,452.5 1802.0,451.6 1803.1,450.6 1804.1,449.7 1805.1,448.7 1806.2,447.6 1807.2,446.6 1808.2,445.5 1809.3,444.4 1810.3,443.3 1811.3,442.2 1812.4,441.1 1813.4,439.9 1814.4,438.7 1815.5,437.5 1816.5,436.3 1817.5,435.0 1818.5,433.8 1819.6,432.5 1820.6,431.1 1821.6,429.8 1822.7,428.4 1823.7,427.1 1824.7,425.6 1825.8,424.2 1826.8,422.7 1827.8,421.3 1828.9,419.7 1829.9,418.2 1830.9,416.6 1832.0,415.0 1833.0,413.4 1834.0,411.8 1835.1,410.1 1836.1,408.3 1837.1,406.6 1838.2,404.8 1839.2,403.0 1840.2,401.1 1841.3,399.2 1842.3,397.2 1843.3,395.2 1844.4,393.2 1845.4,391.1 1846.4,389.0 1847.5,386.8 1848.5,384.5 1849.5,382.2 1850.5,379.9 1851.6,377.5 1852.6,375.0 1853.6,372.5 1854.7,369.9 1855.7,367.2 1856.7,364.5 1857.8,361.7 1858.8,358.8 1859.8,355.8 1860.9,352.8 1861.9,349.7 1862.9,346.6 1864.0,343.3 1865.0,340.0 1866.0,336.6 1867.1,333.1 1868.1,329.6 1869.1,326.0 1870.2,322.3 1871.2,318.5 1872.2,314.7 1873.3,310.8 1874.3,306.8 1875.3,302.8 1876.4,298.6 1877.4,294.5 1878.4,290.3 1879.5,286.0 1880.5,281.7 1881.5,277.3 1882.6,272.9 1883.6,268.4 1884.6,264.0 1885.6,259.4 1886.7,254.9 1887.7,250.4 1888.7,245.8 1889.8,241.3 1890.8,236.7 1891.8,232.2 1892.9,227.7 1893.9,223.2 1894.9,218.8 1896.0,214.3 1897.0,210.0 1898.0,205.7 1899.1,201.4 1900.1,197.3 1901.1,193.2 1902.2,189.2 1903.2,185.3 1904.2,181.5 1905.3,177.8 1906.3,174.3 1907.3,170.9 1908.4,167.6 1909.4,164.5 1910.4,161.5 1911.5,158.7 1912.5,156.0 1913.5,153.5 1914.6,151.3 1915.6,149.2 1916.6,147.3 1917.6,145.6 1918.7,144.1 1919.7,142.8 1920.7,141.8 1921.8,140.9 1922.8,140.3 1923.8,140.0 1924.9,139.8 1925.9,139.9 1926.9,140.2 1928.0,140.8 1929.0,141.6 1930.0,142.6 1931.1,143.9 1932.1,145.4 1933.1,147.1 1934.2,149.1 1935.2,151.3 1936.2,153.7 1937.3,156.4 1938.3,159.3 1939.3,162.3 1940.4,165.6 1941.4,169.1 1942.4,172.8 1943.5,176.7 1944.5,180.8 1945.5,185.0 1946.6,189.4 1947.6,194.0 1948.6,198.7 1949.7,203.6 1950.7,208.6 1951.7,213.7 1952.7,219.0 1953.8,224.4 1954.8,229.8 1955.8,235.4 1956.9,241.1 1957.9,246.8 1958.9,252.6 1960.0,258.5 1961.0,264.4 1962.0,270.4 1963.1,276.4 1964.1,282.4 1965.1,288.5 1966.2,294.5 1967.2,300.6 1968.2,306.7 1969.3,312.7 1970.3,318.7 1971.3,324.7 1972.4,330.7 1973.4,336.6 1974.4,342.5 1975.5,348.4 1976.5,354.1 1977.5,359.8 1978.6,365.5 1979.6,371.1 1980.6,376.5 1981.7,382.0 1982.7,387.3 1983.7,392.5 1984.7,397.6 1985.8,402.7 1986.8,407.6 1987.8,412.5 1988.9,417.2 1989.9,421.8 1990.9,426.3 1992.0,430.8 1993.0,435.1 1994.0,439.2 1995.1,443.3 1996.1,447.3 1997.1,451.1 1998.2,454.9 1999.2,458.5 2000.2,462.0 2001.3,465.4 2002.3,468.7 2003.3,471.9 2004.4,474.9 2005.4,477.9 2006.4,480.8 2007.5,483.5 2008.5,486.2 2009.5,488.7 2010.6,491.2 2011.6,493.5 2012.6,495.8 2013.7,497.9 2014.7,500.0 2015.7,502.0 2016.7,503.9 2017.8,505.7 2018.8,507.4 2019.8,509.1 2020.9,510.7 2021.9,512.2 2022.9,513.6 2024.0,515.0 2025.0,516.3 2026.0,517.5 2027.1,518.7 2028.1,519.8 2029.1,520.8 2030.2,521.8 2031.2,522.8 2032.2,523.7 2033.3,524.5 2034.3,525.3 2035.3,526.1 2036.4,526.8 2037.4,527.5 2038.4,528.1 2039.5,528.7 2040.5,529.2 2041.5,529.8 2042.6,530.3 2043.6,530.7 2044.6,531.2 2045.7,531.6 2046.7,532.0 2047.7,532.3 2048.8,532.7 2049.8,533.0 2050.8,533.3 2051.8,533.6 2052.9,533.8 2053.9,534.1 2054.9,534.3 2056.0,534.5 2057.0,534.7 2058.0,534.9 2059.1,535.0 2060.1,535.2 2061.1,535.4 2062.2,535.5 2063.2,535.6 2064.2,535.7 2065.3,535.8 2066.3,535.9 2067.3,536.0 2068.4,536.1 2069.4,536.2 2070.4,536.3 2071.5,536.4 2072.5,536.4 2073.5,536.5 2074.6,536.5 2075.6,536.6 2076.6,536.7 2077.7,536.7 2078.7,536.7 2079.7,536.8 2080.8,536.8 2081.8,536.8 2082.8,536.9 2083.8,536.9 2084.9,536.9 2085.9,537.0 2086.9,537.0 2088.0,537.0 2089.0,537.0 2090.0,537.0 2091.1,537.1 2092.1,537.1 2093.1,537.1 2094.2,537.1 2095.2,537.1 2096.2,537.1 2097.3,537.1 2098.3,537.2 2099.3,537.2 2100.4,537.2 2101.4,537.2 2102.4,537.2 2103.5,537.2 2104.5,537.2 2105.5,537.2 2106.6,537.2 2107.6,537.2 2108.6,537.2 2109.7,537.2 2110.7,537.2 2111.7,537.2 2112.8,537.2 2113.8,537.3 2114.8,537.3 2115.9,537.3 2116.9,537.3 2117.9,537.3 2118.9,537.3 2120.0,537.3 2121.0,537.3 2122.0,537.3 2123.1,537.3 2124.1,537.3 2125.1,537.3 2126.2,537.3 2127.2,537.3 2128.2,537.3 2129.3,537.3 2130.3,537.3 2131.3,537.3 2132.4,537.3 2133.4,537.3 2134.4,537.3 2135.5,537.3 2136.5,537.3 2137.5,537.3 2138.6,537.3 2139.6,537.3 2140.6,537.3 2141.7,537.3 2142.7,537.3 2143.7,537.3 2144.8,537.3 2145.8,537.3 2146.8,537.3 2147.9,537.3 2148.9,537.3 2149.9,537.3 2150.9,537.3 2152.0,537.3 2153.0,537.2 2154.0,537.2 2155.1,537.2 2156.1,537.2 2157.1,537.2 2158.2,537.2 2159.2,537.2 2160.2,537.2" fill="none" stroke="#ee1111" stroke-width="5.5" stroke-linejoin="round"/>
</g>
<path d="M674.4,115.8V557.4" stroke="#000" stroke-width="5"/>
<path d="M1301.5,115.8V557.4" stroke="#000" stroke-width="5"/>
<path d="M1927.2,115.8V557.4" stroke="#000" stroke-width="5"/>
<path d="M1110.8,115.8V557.4" stroke="#e01010" stroke-width="4.6"/>
<path d="M1196.9,115.8V557.4" stroke="#e01010" stroke-width="4.6"/>
<path d="M260.2,150.9V157.6 M274.7,150.9V157.6 M289.2,150.9V157.6 M303.7,150.9V157.6 M318.2,150.9V157.6" stroke="#9a9a9a" stroke-width="1.3" fill="none"/>
<text x="329.2" y="162.8" class="lg">Data</text>
<rect x="258.2" y="170.6" width="65.4" height="34.3" rx="3" fill="#8000ff"/>
<text x="329.2" y="197.1" class="lg">Peak 1</text>
<rect x="258.2" y="204.9" width="65.4" height="34.0" rx="3" fill="#008000"/>
<text x="329.2" y="231.4" class="lg">Peak 2</text>
<rect x="258.2" y="238.9" width="65.4" height="34.3" rx="3" fill="#0000ff"/>
<text x="329.2" y="265.4" class="lg">Peak 3</text>
<path d="M260.0,283.7H322.0" stroke="#c0c0c0" stroke-width="5.2"/>
<text x="329.2" y="292.9" class="lg" letter-spacing="0.45">Background</text>
<path d="M260.0,317.6H322.0" stroke="#ee1111" stroke-width="5.4"/>
<text x="329.2" y="327.1" class="lg">Fit</text>
<path d="M888.6,150.9V157.6 M903.1,150.9V157.6 M917.6,150.9V157.6 M932.1,150.9V157.6 M946.6,150.9V157.6" stroke="#9a9a9a" stroke-width="1.3" fill="none"/>
<text x="957.6" y="162.8" class="lg">Data</text>
<rect x="886.6" y="170.6" width="65.4" height="34.3" rx="3" fill="#8000ff"/>
<text x="957.6" y="197.1" class="lg">Peak 1</text>
<rect x="886.6" y="204.9" width="65.4" height="34.0" rx="3" fill="#008000"/>
<text x="957.6" y="231.4" class="lg">Peak 2</text>
<rect x="886.6" y="238.9" width="65.4" height="34.3" rx="3" fill="#0000ff"/>
<text x="957.6" y="265.4" class="lg">Peak 3</text>
<path d="M888.4,283.7H950.4" stroke="#c0c0c0" stroke-width="5.2"/>
<text x="957.6" y="292.9" class="lg" letter-spacing="0.45">Background</text>
<path d="M888.4,317.6H950.4" stroke="#ee1111" stroke-width="5.4"/>
<text x="957.6" y="327.1" class="lg">Fit</text>
<path d="M1517.0,150.9V157.6 M1531.5,150.9V157.6 M1546.0,150.9V157.6 M1560.5,150.9V157.6 M1575.0,150.9V157.6" stroke="#9a9a9a" stroke-width="1.3" fill="none"/>
<text x="1586.0" y="162.8" class="lg">Data</text>
<rect x="1515.0" y="170.6" width="65.4" height="34.3" rx="3" fill="#8000ff"/>
<text x="1586.0" y="197.1" class="lg">Peak 1</text>
<rect x="1515.0" y="204.9" width="65.4" height="34.0" rx="3" fill="#008000"/>
<text x="1586.0" y="231.4" class="lg">Peak 2</text>
<rect x="1515.0" y="238.9" width="65.4" height="34.3" rx="3" fill="#0000ff"/>
<text x="1586.0" y="265.4" class="lg">Peak 3</text>
<path d="M1516.8,290.3H1578.8" stroke="#c0c0c0" stroke-width="5.2"/>
<text x="1586.0" y="299.5" class="lg" letter-spacing="0.45">Background</text>
<path d="M1516.8,324.2H1578.8" stroke="#ee1111" stroke-width="5.4"/>
<text x="1586.0" y="333.7" class="lg">Fit</text>
<path d="M327.5,557.4V543.9 M327.5,115.8V129.3 M459.9,557.4V543.9 M459.9,115.8V129.3 M592.3,557.4V543.9 M592.3,115.8V129.3 M724.7,557.4V543.9 M724.7,115.8V129.3 M261.3,557.4V550.4 M261.3,115.8V122.8 M393.7,557.4V550.4 M393.7,115.8V122.8 M526.1,557.4V550.4 M526.1,115.8V122.8 M658.5,557.4V550.4 M658.5,115.8V122.8 M790.9,557.4V550.4 M790.9,115.8V122.8 M228.8,557.4H242.3 M857.2,557.4H843.7 M228.8,429.1H242.3 M857.2,429.1H843.7 M228.8,300.9H242.3 M857.2,300.9H843.7 M228.8,172.6H242.3 M857.2,172.6H843.7 M228.8,493.3H235.8 M857.2,493.3H850.2 M228.8,365.0H235.8 M857.2,365.0H850.2 M228.8,236.7H235.8 M857.2,236.7H850.2" stroke="#000" stroke-width="5.3" fill="none"/>
<rect x="228.8" y="115.8" width="628.4" height="441.6" fill="none" stroke="#000" stroke-width="5.3"/>
<text x="327.5" y="611.8" class="tk" text-anchor="middle">290</text>
<text x="459.9" y="611.8" class="tk" text-anchor="middle">288</text>
<text x="592.3" y="611.8" class="tk" text-anchor="middle">286</text>
<text x="724.7" y="611.8" class="tk" text-anchor="middle">284</text>
<text x="543.0" y="696.8" class="ax" text-anchor="middle" letter-spacing="0.32">Binding Energy (eV)</text>
<path d="M955.9,557.4V543.9 M955.9,115.8V129.3 M1088.3,557.4V543.9 M1088.3,115.8V129.3 M1220.7,557.4V543.9 M1220.7,115.8V129.3 M1353.1,557.4V543.9 M1353.1,115.8V129.3 M889.7,557.4V550.4 M889.7,115.8V122.8 M1022.1,557.4V550.4 M1022.1,115.8V122.8 M1154.5,557.4V550.4 M1154.5,115.8V122.8 M1286.9,557.4V550.4 M1286.9,115.8V122.8 M1419.3,557.4V550.4 M1419.3,115.8V122.8 M857.2,557.4H870.7 M1485.6,557.4H1472.1 M857.2,429.1H870.7 M1485.6,429.1H1472.1 M857.2,300.9H870.7 M1485.6,300.9H1472.1 M857.2,172.6H870.7 M1485.6,172.6H1472.1 M857.2,493.3H864.2 M1485.6,493.3H1478.6 M857.2,365.0H864.2 M1485.6,365.0H1478.6 M857.2,236.7H864.2 M1485.6,236.7H1478.6" stroke="#000" stroke-width="5.3" fill="none"/>
<rect x="857.2" y="115.8" width="628.4" height="441.6" fill="none" stroke="#000" stroke-width="5.3"/>
<text x="955.9" y="611.8" class="tk" text-anchor="middle">290</text>
<text x="1088.3" y="611.8" class="tk" text-anchor="middle">288</text>
<text x="1220.7" y="611.8" class="tk" text-anchor="middle">286</text>
<text x="1353.1" y="611.8" class="tk" text-anchor="middle">284</text>
<text x="1171.4" y="696.8" class="ax" text-anchor="middle" letter-spacing="0.32">Binding Energy (eV)</text>
<path d="M1584.3,557.4V543.9 M1584.3,115.8V129.3 M1716.7,557.4V543.9 M1716.7,115.8V129.3 M1849.1,557.4V543.9 M1849.1,115.8V129.3 M1981.5,557.4V543.9 M1981.5,115.8V129.3 M1518.1,557.4V550.4 M1518.1,115.8V122.8 M1650.5,557.4V550.4 M1650.5,115.8V122.8 M1782.9,557.4V550.4 M1782.9,115.8V122.8 M1915.3,557.4V550.4 M1915.3,115.8V122.8 M2047.7,557.4V550.4 M2047.7,115.8V122.8 M1485.6,557.4H1499.1 M2114.0,557.4H2100.5 M1485.6,429.1H1499.1 M2114.0,429.1H2100.5 M1485.6,300.9H1499.1 M2114.0,300.9H2100.5 M1485.6,172.6H1499.1 M2114.0,172.6H2100.5 M1485.6,493.3H1492.6 M2114.0,493.3H2107.0 M1485.6,365.0H1492.6 M2114.0,365.0H2107.0 M1485.6,236.7H1492.6 M2114.0,236.7H2107.0" stroke="#000" stroke-width="5.3" fill="none"/>
<rect x="1485.6" y="115.8" width="628.4" height="441.6" fill="none" stroke="#000" stroke-width="5.3"/>
<text x="1584.3" y="611.8" class="tk" text-anchor="middle">290</text>
<text x="1716.7" y="611.8" class="tk" text-anchor="middle">288</text>
<text x="1849.1" y="611.8" class="tk" text-anchor="middle">286</text>
<text x="1981.5" y="611.8" class="tk" text-anchor="middle">284</text>
<text x="1799.8" y="696.8" class="ax" text-anchor="middle" letter-spacing="0.32">Binding Energy (eV)</text>
<text x="213.5" y="571.0" class="tk" text-anchor="end">0</text>
<text x="213.5" y="442.7" class="tk" text-anchor="end">15,000</text>
<text x="213.5" y="314.5" class="tk" text-anchor="end">30,000</text>
<text x="213.5" y="186.2" class="tk" text-anchor="end">45,000</text>
<text transform="translate(40.7,336.2) rotate(-90)" class="ax" text-anchor="middle" letter-spacing="0.4">Intensity (cps)</text>
<text x="228.8" y="63.6" class="pl">a</text>
<text x="857.2" y="63.6" class="pl">b</text>
<text x="1485.6" y="63.6" class="pl">c</text>
<text x="1073.5" y="95" class="rl" text-anchor="middle">C=O</text>
<text x="1197" y="95" class="rl" text-anchor="middle">C-O</text>
</svg>
</body></html>
